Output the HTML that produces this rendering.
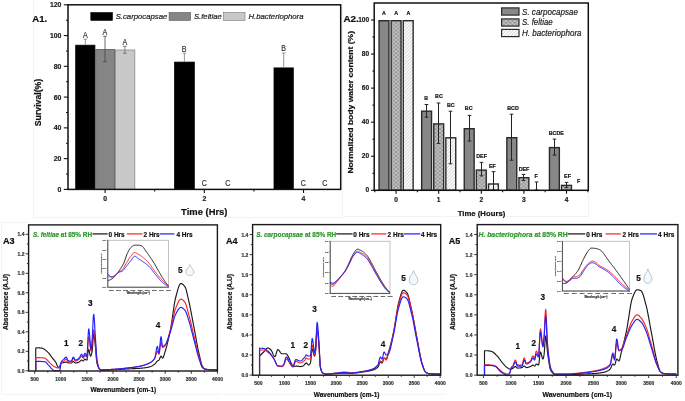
<!DOCTYPE html>
<html><head><meta charset="utf-8"><style>
html,body{margin:0;padding:0;background:#fff;width:685px;height:401px;overflow:hidden;}
svg{display:block;font-family:"Liberation Sans", sans-serif;filter:blur(0.45px);}
</style></head><body>
<svg width="685" height="401" viewBox="0 0 685 401">
<defs>
<pattern id="xh" patternUnits="userSpaceOnUse" width="4.4" height="3.8">
<rect width="4.4" height="3.8" fill="#c6c6c6"/>
<path d="M0,0 L4.4,3.8 M4.4,0 L0,3.8" stroke="#888" stroke-width="0.8"/>
</pattern>
<pattern id="dh" patternUnits="userSpaceOnUse" width="2.4" height="2.4" patternTransform="rotate(45)">
<rect width="2.4" height="2.4" fill="#fafafa"/>
<line x1="0" y1="0" x2="0" y2="2.4" stroke="#b8b8b8" stroke-width="0.9"/>
</pattern>
</defs>
<rect width="685" height="401" fill="#fff"/>
<line x1="33.50" y1="0.00" x2="33.50" y2="217.50" stroke="#f3f3f3" stroke-width="1" />
<line x1="33.50" y1="217.50" x2="342.50" y2="217.50" stroke="#f3f3f3" stroke-width="1" />
<line x1="342.50" y1="0.00" x2="342.50" y2="217.50" stroke="#f3f3f3" stroke-width="1" />
<line x1="588.50" y1="190.00" x2="588.50" y2="216.50" stroke="#f3f3f3" stroke-width="1" />
<line x1="342.50" y1="216.50" x2="588.50" y2="216.50" stroke="#f3f3f3" stroke-width="1" />
<line x1="1.50" y1="222.50" x2="1.50" y2="394.50" stroke="#f3f3f3" stroke-width="1" />
<line x1="1.50" y1="222.50" x2="28.00" y2="222.50" stroke="#f3f3f3" stroke-width="1" />
<line x1="1.50" y1="394.50" x2="222.00" y2="394.50" stroke="#f3f3f3" stroke-width="1" />
<line x1="224.50" y1="394.50" x2="446.00" y2="394.50" stroke="#f3f3f3" stroke-width="1" />
<rect x="75.70" y="45.20" width="19.20" height="144.20" fill="#000000" stroke="#000000" stroke-width="0.8" />
<rect x="95.70" y="49.50" width="18.90" height="139.90" fill="#858585" stroke="#5a5a5a" stroke-width="0.8" />
<rect x="115.40" y="50.00" width="19.40" height="139.40" fill="#c8c8c8" stroke="#888888" stroke-width="0.8" />
<rect x="174.60" y="62.10" width="19.70" height="127.30" fill="#000000" stroke="#000000" stroke-width="0.8" />
<rect x="274.00" y="67.90" width="19.30" height="121.50" fill="#000000" stroke="#000000" stroke-width="0.8" />
<line x1="85.30" y1="39.20" x2="85.30" y2="44.80" stroke="#8a8a8a" stroke-width="0.9" />
<line x1="83.50" y1="39.20" x2="87.10" y2="39.20" stroke="#8a8a8a" stroke-width="0.9" />
<line x1="105.00" y1="36.30" x2="105.00" y2="61.70" stroke="#444" stroke-width="0.8" />
<line x1="103.20" y1="36.30" x2="106.80" y2="36.30" stroke="#444" stroke-width="0.8" />
<line x1="103.20" y1="61.70" x2="106.80" y2="61.70" stroke="#444" stroke-width="0.8" />
<line x1="124.90" y1="46.30" x2="124.90" y2="53.30" stroke="#666" stroke-width="0.8" />
<line x1="123.10" y1="46.30" x2="126.70" y2="46.30" stroke="#666" stroke-width="0.8" />
<line x1="123.10" y1="53.30" x2="126.70" y2="53.30" stroke="#666" stroke-width="0.8" />
<line x1="184.40" y1="53.20" x2="184.40" y2="61.70" stroke="#8a8a8a" stroke-width="0.9" />
<line x1="182.60" y1="53.20" x2="186.20" y2="53.20" stroke="#8a8a8a" stroke-width="0.9" />
<line x1="283.70" y1="53.00" x2="283.70" y2="67.50" stroke="#8a8a8a" stroke-width="0.9" />
<line x1="281.90" y1="53.00" x2="285.50" y2="53.00" stroke="#8a8a8a" stroke-width="0.9" />
<text transform="translate(85.40,38.05) scale(0.77,1)" font-size="9.2" font-weight="normal" text-anchor="middle" fill="#333" stroke="#333" stroke-width="0.2">A</text>
<text transform="translate(104.80,34.95) scale(0.77,1)" font-size="9.2" font-weight="normal" text-anchor="middle" fill="#333" stroke="#333" stroke-width="0.2">A</text>
<text transform="translate(124.90,45.35) scale(0.77,1)" font-size="9.2" font-weight="normal" text-anchor="middle" fill="#333" stroke="#333" stroke-width="0.2">A</text>
<text transform="translate(184.20,52.05) scale(0.77,1)" font-size="9.2" font-weight="normal" text-anchor="middle" fill="#333" stroke="#333" stroke-width="0.2">B</text>
<text transform="translate(283.70,50.85) scale(0.77,1)" font-size="9.2" font-weight="normal" text-anchor="middle" fill="#333" stroke="#333" stroke-width="0.2">B</text>
<text transform="translate(204.20,185.65) scale(0.77,1)" font-size="9.2" font-weight="normal" text-anchor="middle" fill="#333" stroke="#333" stroke-width="0.2">C</text>
<text transform="translate(227.70,185.65) scale(0.77,1)" font-size="9.2" font-weight="normal" text-anchor="middle" fill="#333" stroke="#333" stroke-width="0.2">C</text>
<text transform="translate(303.30,185.65) scale(0.77,1)" font-size="9.2" font-weight="normal" text-anchor="middle" fill="#333" stroke="#333" stroke-width="0.2">C</text>
<text transform="translate(324.80,185.65) scale(0.77,1)" font-size="9.2" font-weight="normal" text-anchor="middle" fill="#333" stroke="#333" stroke-width="0.2">C</text>
<rect x="68.00" y="4.80" width="272.70" height="184.60" fill="none" stroke="#111" stroke-width="1.5" />
<line x1="63.80" y1="189.40" x2="68.00" y2="189.40" stroke="#111" stroke-width="1.1" />
<text x="61.40" y="191.80" font-size="6.9" font-weight="bold" font-style="normal" text-anchor="end" fill="#222"  stroke="#222" stroke-width="0.2">0</text>
<line x1="66.00" y1="174.02" x2="68.00" y2="174.02" stroke="#111" stroke-width="1.1" />
<line x1="63.80" y1="158.63" x2="68.00" y2="158.63" stroke="#111" stroke-width="1.1" />
<text x="61.40" y="161.03" font-size="6.9" font-weight="bold" font-style="normal" text-anchor="end" fill="#222"  stroke="#222" stroke-width="0.2">20</text>
<line x1="66.00" y1="143.25" x2="68.00" y2="143.25" stroke="#111" stroke-width="1.1" />
<line x1="63.80" y1="127.87" x2="68.00" y2="127.87" stroke="#111" stroke-width="1.1" />
<text x="61.40" y="130.27" font-size="6.9" font-weight="bold" font-style="normal" text-anchor="end" fill="#222"  stroke="#222" stroke-width="0.2">40</text>
<line x1="66.00" y1="112.48" x2="68.00" y2="112.48" stroke="#111" stroke-width="1.1" />
<line x1="63.80" y1="97.10" x2="68.00" y2="97.10" stroke="#111" stroke-width="1.1" />
<text x="61.40" y="99.50" font-size="6.9" font-weight="bold" font-style="normal" text-anchor="end" fill="#222"  stroke="#222" stroke-width="0.2">60</text>
<line x1="66.00" y1="81.72" x2="68.00" y2="81.72" stroke="#111" stroke-width="1.1" />
<line x1="63.80" y1="66.33" x2="68.00" y2="66.33" stroke="#111" stroke-width="1.1" />
<text x="61.40" y="68.73" font-size="6.9" font-weight="bold" font-style="normal" text-anchor="end" fill="#222"  stroke="#222" stroke-width="0.2">80</text>
<line x1="66.00" y1="50.95" x2="68.00" y2="50.95" stroke="#111" stroke-width="1.1" />
<line x1="63.80" y1="35.57" x2="68.00" y2="35.57" stroke="#111" stroke-width="1.1" />
<text x="61.40" y="37.97" font-size="6.9" font-weight="bold" font-style="normal" text-anchor="end" fill="#222"  stroke="#222" stroke-width="0.2">100</text>
<line x1="66.00" y1="20.18" x2="68.00" y2="20.18" stroke="#111" stroke-width="1.1" />
<line x1="63.80" y1="4.80" x2="68.00" y2="4.80" stroke="#111" stroke-width="1.1" />
<text x="61.40" y="7.20" font-size="6.9" font-weight="bold" font-style="normal" text-anchor="end" fill="#222"  stroke="#222" stroke-width="0.2">120</text>
<line x1="105.10" y1="189.40" x2="105.10" y2="193.00" stroke="#111" stroke-width="1.1" />
<text x="105.10" y="201.10" font-size="6.9" font-weight="bold" font-style="normal" text-anchor="middle" fill="#222"  stroke="#222" stroke-width="0.2">0</text>
<line x1="154.70" y1="189.40" x2="154.70" y2="191.40" stroke="#111" stroke-width="1.1" />
<line x1="204.30" y1="189.40" x2="204.30" y2="193.00" stroke="#111" stroke-width="1.1" />
<text x="204.30" y="201.10" font-size="6.9" font-weight="bold" font-style="normal" text-anchor="middle" fill="#222"  stroke="#222" stroke-width="0.2">2</text>
<line x1="253.90" y1="189.40" x2="253.90" y2="191.40" stroke="#111" stroke-width="1.1" />
<line x1="303.50" y1="189.40" x2="303.50" y2="193.00" stroke="#111" stroke-width="1.1" />
<text x="303.50" y="201.10" font-size="6.9" font-weight="bold" font-style="normal" text-anchor="middle" fill="#222"  stroke="#222" stroke-width="0.2">4</text>
<text x="181.10" y="214.90" font-size="9.4" font-weight="bold" font-style="normal" text-anchor="start" fill="#111"  textLength="46.40" lengthAdjust="spacingAndGlyphs" stroke="#111" stroke-width="0.2">Time (Hrs)</text>
<text transform="translate(40.80,102.50) rotate(-90)" font-size="8.5" font-weight="bold" text-anchor="middle" fill="#111" textLength="47.40" lengthAdjust="spacingAndGlyphs" stroke="#111" stroke-width="0.2">Survival(%)</text>
<text x="32.30" y="21.70" font-size="9.4" font-weight="bold" font-style="normal" text-anchor="start" fill="#111"  textLength="15.00" lengthAdjust="spacingAndGlyphs" stroke="#111" stroke-width="0.2">A1.</text>
<rect x="90.80" y="12.50" width="21.70" height="7.90" fill="#000" stroke="#000" stroke-width="0.6" />
<text x="115.70" y="19.40" font-size="7.7" font-weight="normal" font-style="italic" text-anchor="start" fill="#222"  textLength="51.60" lengthAdjust="spacingAndGlyphs" stroke="#222" stroke-width="0.2">S.carpocapsae</text>
<rect x="169.10" y="12.50" width="21.50" height="7.90" fill="#858585" stroke="#555" stroke-width="0.6" />
<text x="194.00" y="19.40" font-size="7.7" font-weight="normal" font-style="italic" text-anchor="start" fill="#222"  textLength="27.70" lengthAdjust="spacingAndGlyphs" stroke="#222" stroke-width="0.2">S.feltiae</text>
<rect x="223.50" y="12.50" width="21.50" height="7.90" fill="#c8c8c8" stroke="#777" stroke-width="0.6" />
<text x="248.50" y="19.40" font-size="7.7" font-weight="normal" font-style="italic" text-anchor="start" fill="#222"  textLength="55.00" lengthAdjust="spacingAndGlyphs" stroke="#222" stroke-width="0.2">H.bacteriophora</text>
<rect x="379.05" y="20.70" width="9.90" height="169.60" fill="#878787" stroke="#2a2a2a" stroke-width="1.4" />
<rect x="391.15" y="20.70" width="9.90" height="169.60" fill="url(#xh)" stroke="#2a2a2a" stroke-width="1.4" />
<rect x="403.25" y="20.70" width="9.90" height="169.60" fill="url(#dh)" stroke="#2a2a2a" stroke-width="1.4" />
<rect x="421.65" y="111.20" width="9.90" height="79.10" fill="#878787" stroke="#2a2a2a" stroke-width="1.4" />
<rect x="433.75" y="123.90" width="9.90" height="66.40" fill="url(#xh)" stroke="#2a2a2a" stroke-width="1.4" />
<rect x="445.85" y="137.80" width="9.90" height="52.50" fill="url(#dh)" stroke="#2a2a2a" stroke-width="1.4" />
<rect x="464.25" y="128.70" width="9.90" height="61.60" fill="#878787" stroke="#2a2a2a" stroke-width="1.4" />
<rect x="476.35" y="170.10" width="9.90" height="20.20" fill="url(#xh)" stroke="#2a2a2a" stroke-width="1.4" />
<rect x="488.45" y="184.00" width="9.90" height="6.30" fill="url(#dh)" stroke="#2a2a2a" stroke-width="1.4" />
<rect x="506.85" y="137.70" width="9.90" height="52.60" fill="#878787" stroke="#2a2a2a" stroke-width="1.4" />
<rect x="518.95" y="177.70" width="9.90" height="12.60" fill="url(#xh)" stroke="#2a2a2a" stroke-width="1.4" />
<rect x="549.45" y="147.60" width="9.90" height="42.70" fill="#878787" stroke="#2a2a2a" stroke-width="1.4" />
<rect x="561.55" y="185.40" width="9.90" height="4.90" fill="url(#xh)" stroke="#2a2a2a" stroke-width="1.4" />
<line x1="426.50" y1="104.50" x2="426.50" y2="117.20" stroke="#222" stroke-width="1.0" />
<line x1="424.70" y1="104.50" x2="428.30" y2="104.50" stroke="#222" stroke-width="1.0" />
<line x1="424.70" y1="117.20" x2="428.30" y2="117.20" stroke="#222" stroke-width="1.0" />
<line x1="438.50" y1="103.00" x2="438.50" y2="143.40" stroke="#222" stroke-width="1.0" />
<line x1="436.70" y1="103.00" x2="440.30" y2="103.00" stroke="#222" stroke-width="1.0" />
<line x1="436.70" y1="143.40" x2="440.30" y2="143.40" stroke="#222" stroke-width="1.0" />
<line x1="450.50" y1="111.20" x2="450.50" y2="163.80" stroke="#222" stroke-width="1.0" />
<line x1="448.70" y1="111.20" x2="452.30" y2="111.20" stroke="#222" stroke-width="1.0" />
<line x1="448.70" y1="163.80" x2="452.30" y2="163.80" stroke="#222" stroke-width="1.0" />
<line x1="469.50" y1="115.40" x2="469.50" y2="141.00" stroke="#222" stroke-width="1.0" />
<line x1="467.70" y1="115.40" x2="471.30" y2="115.40" stroke="#222" stroke-width="1.0" />
<line x1="467.70" y1="141.00" x2="471.30" y2="141.00" stroke="#222" stroke-width="1.0" />
<line x1="481.50" y1="162.40" x2="481.50" y2="175.90" stroke="#222" stroke-width="1.0" />
<line x1="479.70" y1="162.40" x2="483.30" y2="162.40" stroke="#222" stroke-width="1.0" />
<line x1="479.70" y1="175.90" x2="483.30" y2="175.90" stroke="#222" stroke-width="1.0" />
<line x1="493.50" y1="171.70" x2="493.50" y2="190.00" stroke="#222" stroke-width="1.0" />
<line x1="491.70" y1="171.70" x2="495.30" y2="171.70" stroke="#222" stroke-width="1.0" />
<line x1="491.70" y1="190.00" x2="495.30" y2="190.00" stroke="#222" stroke-width="1.0" />
<line x1="511.50" y1="114.20" x2="511.50" y2="160.20" stroke="#222" stroke-width="1.0" />
<line x1="509.70" y1="114.20" x2="513.30" y2="114.20" stroke="#222" stroke-width="1.0" />
<line x1="509.70" y1="160.20" x2="513.30" y2="160.20" stroke="#222" stroke-width="1.0" />
<line x1="523.50" y1="174.40" x2="523.50" y2="180.40" stroke="#222" stroke-width="1.0" />
<line x1="521.70" y1="174.40" x2="525.30" y2="174.40" stroke="#222" stroke-width="1.0" />
<line x1="521.70" y1="180.40" x2="525.30" y2="180.40" stroke="#222" stroke-width="1.0" />
<line x1="536.50" y1="182.00" x2="536.50" y2="190.00" stroke="#222" stroke-width="1.0" />
<line x1="534.70" y1="182.00" x2="538.30" y2="182.00" stroke="#222" stroke-width="1.0" />
<line x1="534.70" y1="190.00" x2="538.30" y2="190.00" stroke="#222" stroke-width="1.0" />
<line x1="554.50" y1="139.10" x2="554.50" y2="155.10" stroke="#222" stroke-width="1.0" />
<line x1="552.70" y1="139.10" x2="556.30" y2="139.10" stroke="#222" stroke-width="1.0" />
<line x1="552.70" y1="155.10" x2="556.30" y2="155.10" stroke="#222" stroke-width="1.0" />
<line x1="566.50" y1="182.40" x2="566.50" y2="187.70" stroke="#222" stroke-width="1.0" />
<line x1="564.70" y1="182.40" x2="568.30" y2="182.40" stroke="#222" stroke-width="1.0" />
<line x1="564.70" y1="187.70" x2="568.30" y2="187.70" stroke="#222" stroke-width="1.0" />
<text transform="translate(384.00,15.11) scale(0.92,1)" font-size="5.8" font-weight="bold" text-anchor="middle" fill="#111" stroke="#111" stroke-width="0.2">A</text>
<text transform="translate(396.10,15.11) scale(0.92,1)" font-size="5.8" font-weight="bold" text-anchor="middle" fill="#111" stroke="#111" stroke-width="0.2">A</text>
<text transform="translate(408.50,15.11) scale(0.92,1)" font-size="5.8" font-weight="bold" text-anchor="middle" fill="#111" stroke="#111" stroke-width="0.2">A</text>
<text transform="translate(426.30,100.21) scale(0.92,1)" font-size="5.8" font-weight="bold" text-anchor="middle" fill="#111" stroke="#111" stroke-width="0.2">B</text>
<text transform="translate(438.90,97.71) scale(0.92,1)" font-size="5.8" font-weight="bold" text-anchor="middle" fill="#111" stroke="#111" stroke-width="0.2">BC</text>
<text transform="translate(450.80,107.11) scale(0.92,1)" font-size="5.8" font-weight="bold" text-anchor="middle" fill="#111" stroke="#111" stroke-width="0.2">BC</text>
<text transform="translate(468.70,109.91) scale(0.92,1)" font-size="5.8" font-weight="bold" text-anchor="middle" fill="#111" stroke="#111" stroke-width="0.2">BC</text>
<text transform="translate(481.60,157.81) scale(0.92,1)" font-size="5.8" font-weight="bold" text-anchor="middle" fill="#111" stroke="#111" stroke-width="0.2">DEF</text>
<text transform="translate(492.40,167.81) scale(0.92,1)" font-size="5.8" font-weight="bold" text-anchor="middle" fill="#111" stroke="#111" stroke-width="0.2">EF</text>
<text transform="translate(513.00,109.71) scale(0.92,1)" font-size="5.8" font-weight="bold" text-anchor="middle" fill="#111" stroke="#111" stroke-width="0.2">BCD</text>
<text transform="translate(524.00,170.51) scale(0.92,1)" font-size="5.8" font-weight="bold" text-anchor="middle" fill="#111" stroke="#111" stroke-width="0.2">DEF</text>
<text transform="translate(536.10,177.51) scale(0.92,1)" font-size="5.8" font-weight="bold" text-anchor="middle" fill="#111" stroke="#111" stroke-width="0.2">F</text>
<text transform="translate(556.30,135.31) scale(0.92,1)" font-size="5.8" font-weight="bold" text-anchor="middle" fill="#111" stroke="#111" stroke-width="0.2">BCDE</text>
<text transform="translate(567.50,177.51) scale(0.92,1)" font-size="5.8" font-weight="bold" text-anchor="middle" fill="#111" stroke="#111" stroke-width="0.2">EF</text>
<text transform="translate(578.60,183.11) scale(0.92,1)" font-size="5.8" font-weight="bold" text-anchor="middle" fill="#111" stroke="#111" stroke-width="0.2">F</text>
<rect x="374.20" y="3.00" width="214.10" height="187.30" fill="none" stroke="#111" stroke-width="1.5" />
<line x1="371.00" y1="190.30" x2="374.20" y2="190.30" stroke="#111" stroke-width="1.1" />
<text x="369.20" y="192.40" font-size="6.6" font-weight="bold" font-style="normal" text-anchor="end" fill="#222"  stroke="#222" stroke-width="0.2">0</text>
<line x1="372.40" y1="173.27" x2="374.20" y2="173.27" stroke="#111" stroke-width="1.1" />
<line x1="371.00" y1="156.24" x2="374.20" y2="156.24" stroke="#111" stroke-width="1.1" />
<text x="369.20" y="158.34" font-size="6.6" font-weight="bold" font-style="normal" text-anchor="end" fill="#222"  stroke="#222" stroke-width="0.2">20</text>
<line x1="372.40" y1="139.21" x2="374.20" y2="139.21" stroke="#111" stroke-width="1.1" />
<line x1="371.00" y1="122.18" x2="374.20" y2="122.18" stroke="#111" stroke-width="1.1" />
<text x="369.20" y="124.28" font-size="6.6" font-weight="bold" font-style="normal" text-anchor="end" fill="#222"  stroke="#222" stroke-width="0.2">40</text>
<line x1="372.40" y1="105.15" x2="374.20" y2="105.15" stroke="#111" stroke-width="1.1" />
<line x1="371.00" y1="88.12" x2="374.20" y2="88.12" stroke="#111" stroke-width="1.1" />
<text x="369.20" y="90.22" font-size="6.6" font-weight="bold" font-style="normal" text-anchor="end" fill="#222"  stroke="#222" stroke-width="0.2">60</text>
<line x1="372.40" y1="71.09" x2="374.20" y2="71.09" stroke="#111" stroke-width="1.1" />
<line x1="371.00" y1="54.06" x2="374.20" y2="54.06" stroke="#111" stroke-width="1.1" />
<text x="369.20" y="56.16" font-size="6.6" font-weight="bold" font-style="normal" text-anchor="end" fill="#222"  stroke="#222" stroke-width="0.2">80</text>
<line x1="372.40" y1="37.03" x2="374.20" y2="37.03" stroke="#111" stroke-width="1.1" />
<line x1="371.00" y1="20.00" x2="374.20" y2="20.00" stroke="#111" stroke-width="1.1" />
<text x="369.20" y="22.10" font-size="6.6" font-weight="bold" font-style="normal" text-anchor="end" fill="#222"  stroke="#222" stroke-width="0.2">100</text>
<line x1="374.80" y1="190.30" x2="374.80" y2="192.30" stroke="#111" stroke-width="1.1" />
<line x1="396.10" y1="190.30" x2="396.10" y2="193.70" stroke="#111" stroke-width="1.1" />
<text x="396.10" y="202.00" font-size="6.6" font-weight="bold" font-style="normal" text-anchor="middle" fill="#222"  stroke="#222" stroke-width="0.2">0</text>
<line x1="417.40" y1="190.30" x2="417.40" y2="192.30" stroke="#111" stroke-width="1.1" />
<line x1="438.70" y1="190.30" x2="438.70" y2="193.70" stroke="#111" stroke-width="1.1" />
<text x="438.70" y="202.00" font-size="6.6" font-weight="bold" font-style="normal" text-anchor="middle" fill="#222"  stroke="#222" stroke-width="0.2">1</text>
<line x1="460.00" y1="190.30" x2="460.00" y2="192.30" stroke="#111" stroke-width="1.1" />
<line x1="481.30" y1="190.30" x2="481.30" y2="193.70" stroke="#111" stroke-width="1.1" />
<text x="481.30" y="202.00" font-size="6.6" font-weight="bold" font-style="normal" text-anchor="middle" fill="#222"  stroke="#222" stroke-width="0.2">2</text>
<line x1="502.60" y1="190.30" x2="502.60" y2="192.30" stroke="#111" stroke-width="1.1" />
<line x1="523.90" y1="190.30" x2="523.90" y2="193.70" stroke="#111" stroke-width="1.1" />
<text x="523.90" y="202.00" font-size="6.6" font-weight="bold" font-style="normal" text-anchor="middle" fill="#222"  stroke="#222" stroke-width="0.2">3</text>
<line x1="545.20" y1="190.30" x2="545.20" y2="192.30" stroke="#111" stroke-width="1.1" />
<line x1="566.50" y1="190.30" x2="566.50" y2="193.70" stroke="#111" stroke-width="1.1" />
<text x="566.50" y="202.00" font-size="6.6" font-weight="bold" font-style="normal" text-anchor="middle" fill="#222"  stroke="#222" stroke-width="0.2">4</text>
<line x1="587.80" y1="190.30" x2="587.80" y2="192.30" stroke="#111" stroke-width="1.1" />
<text x="457.70" y="215.80" font-size="7.8" font-weight="bold" font-style="normal" text-anchor="start" fill="#111"  textLength="47.60" lengthAdjust="spacingAndGlyphs" stroke="#111" stroke-width="0.2">Time (Hours)</text>
<text transform="translate(353.30,102.30) rotate(-90)" font-size="7.8" font-weight="bold" text-anchor="middle" fill="#111" textLength="142.60" lengthAdjust="spacingAndGlyphs" stroke="#111" stroke-width="0.2">Normalized body water content (%)</text>
<text x="343.50" y="22.00" font-size="9.4" font-weight="bold" font-style="normal" text-anchor="start" fill="#111"  textLength="15.30" lengthAdjust="spacingAndGlyphs" stroke="#111" stroke-width="0.2">A2.</text>
<rect x="501.60" y="7.90" width="17.40" height="7.20" fill="#878787" stroke="#2a2a2a" stroke-width="1.2" />
<text x="522.00" y="14.90" font-size="8.6" font-weight="normal" font-style="italic" text-anchor="start" fill="#222"  textLength="56.00" lengthAdjust="spacingAndGlyphs" stroke="#222" stroke-width="0.2">S. carpocapsae</text>
<rect x="501.60" y="18.90" width="17.40" height="7.20" fill="url(#xh)" stroke="#2a2a2a" stroke-width="1.2" />
<text x="522.00" y="25.40" font-size="8.6" font-weight="normal" font-style="italic" text-anchor="start" fill="#222"  textLength="30.70" lengthAdjust="spacingAndGlyphs" stroke="#222" stroke-width="0.2">S. feltiae</text>
<rect x="501.60" y="29.40" width="17.40" height="7.20" fill="url(#dh)" stroke="#2a2a2a" stroke-width="1.2" />
<text x="522.00" y="35.90" font-size="8.6" font-weight="normal" font-style="italic" text-anchor="start" fill="#222"  textLength="59.60" lengthAdjust="spacingAndGlyphs" stroke="#222" stroke-width="0.2">H. bacteriophora</text>
<polyline points="35.74,370.80 35.74,348.08 36.00,348.03 36.26,347.97 36.52,347.92 36.78,347.88 37.04,347.84 37.30,347.81 37.56,347.80 37.82,347.79 38.08,347.79 38.34,347.80 38.60,347.81 38.86,347.82 39.12,347.83 39.38,347.85 39.64,347.87 39.90,347.90 40.16,347.92 40.42,347.95 40.68,347.99 40.94,348.02 41.20,348.06 41.46,348.09 41.72,348.13 41.98,348.18 42.24,348.23 42.50,348.30 42.76,348.40 43.02,348.52 43.28,348.65 43.54,348.79 43.80,348.95 44.06,349.11 44.32,349.28 44.58,349.46 44.84,349.63 45.10,349.81 45.36,349.99 45.62,350.18 45.88,350.38 46.14,350.60 46.40,350.82 46.66,351.06 46.92,351.30 47.18,351.55 47.44,351.81 47.70,352.08 47.96,352.35 48.22,352.62 48.48,352.90 48.74,353.19 49.00,353.48 49.26,353.79 49.52,354.11 49.78,354.45 50.04,354.79 50.30,355.15 50.56,355.51 50.82,355.88 51.08,356.25 51.34,356.61 51.60,356.98 51.86,357.34 52.12,357.69 52.38,358.03 52.64,358.36 52.90,358.68 53.16,359.00 53.42,359.30 53.68,359.61 53.94,359.91 54.20,360.22 54.46,360.53 54.72,360.86 54.98,361.19 55.23,361.54 55.49,361.90 55.75,362.30 56.01,362.79 56.27,363.35 56.53,363.94 56.79,364.56 57.05,365.17 57.31,365.75 57.57,366.28 57.83,366.73 58.09,367.08 58.35,367.31 58.61,367.39 58.87,367.27 59.13,366.98 59.39,366.58 59.65,366.16 59.91,365.76 60.17,365.27 60.43,364.71 60.69,364.14 60.95,363.62 61.21,363.22 61.47,363.00 61.73,362.91 61.99,362.84 62.25,362.78 62.51,362.74 62.77,362.70 63.03,362.66 63.29,362.62 63.55,362.58 63.81,362.54 64.07,362.48 64.33,362.41 64.59,362.33 64.85,362.25 65.11,362.17 65.37,362.11 65.63,362.06 65.89,362.03 66.15,362.03 66.41,362.08 66.67,362.18 66.93,362.30 67.19,362.44 67.45,362.58 67.71,362.72 67.97,362.84 68.23,362.94 68.49,362.99 68.75,363.00 69.01,363.00 69.27,363.00 69.53,363.00 69.79,363.00 70.05,363.00 70.31,363.00 70.57,363.00 70.83,363.00 71.09,363.00 71.35,362.99 71.61,362.88 71.87,362.68 72.13,362.43 72.39,362.16 72.65,361.90 72.91,361.69 73.17,361.56 73.43,361.55 73.69,361.65 73.95,361.85 74.21,362.10 74.47,362.37 74.73,362.63 74.99,362.84 75.25,362.97 75.51,363.00 75.77,362.99 76.03,362.96 76.29,362.92 76.55,362.88 76.81,362.82 77.06,362.75 77.32,362.67 77.58,362.59 77.84,362.50 78.10,362.40 78.36,362.31 78.62,362.20 78.88,362.10 79.14,361.99 79.40,361.83 79.66,361.63 79.92,361.38 80.18,361.12 80.44,360.85 80.70,360.60 80.96,360.38 81.22,360.21 81.48,360.10 81.74,360.08 82.00,360.18 82.26,360.38 82.52,360.62 82.78,360.84 83.04,361.00 83.30,361.04 83.56,360.84 83.82,360.45 84.08,359.98 84.34,359.52 84.60,359.20 84.86,359.10 85.12,359.16 85.38,359.28 85.64,359.44 85.90,359.62 86.16,359.79 86.42,359.94 86.68,360.04 86.94,360.06 87.20,359.21 87.46,357.41 87.72,355.10 87.98,352.72 88.24,350.70 88.50,349.51 88.76,349.45 89.02,350.10 89.28,351.18 89.54,352.50 89.80,353.86 90.06,355.06 90.32,355.90 90.58,356.17 90.84,355.96 91.10,355.42 91.36,354.62 91.62,353.61 91.88,352.46 92.14,351.21 92.40,348.92 92.66,345.38 92.92,341.34 93.18,337.56 93.44,334.78 93.70,333.75 93.96,334.32 94.22,335.76 94.48,337.84 94.74,340.32 95.00,342.95 95.26,345.51 95.52,347.99 95.78,351.02 96.04,354.34 96.30,357.59 96.56,360.42 96.82,362.47 97.08,363.60 97.34,364.52 97.60,365.35 97.86,366.08 98.12,366.72 98.38,367.28 98.63,367.76 98.89,368.18 99.15,368.53 99.41,368.84 99.67,369.11 99.93,369.37 100.19,369.62 100.45,369.84 100.71,370.03 100.97,370.18 101.23,370.27 101.49,370.31 101.75,370.31 102.01,370.31 102.27,370.31 102.53,370.31 102.79,370.30 103.05,370.30 103.31,370.29 103.57,370.29 103.83,370.28 104.09,370.27 104.35,370.26 104.61,370.26 104.87,370.25 105.13,370.24 105.39,370.23 105.65,370.22 105.91,370.20 106.17,370.19 106.43,370.18 106.69,370.17 106.95,370.16 107.21,370.14 107.47,370.13 107.73,370.12 107.99,370.10 108.25,370.09 108.51,370.07 108.77,370.06 109.03,370.04 109.29,370.03 109.55,370.01 109.81,370.00 110.07,369.99 110.33,369.97 110.59,369.96 110.85,369.94 111.11,369.93 111.37,369.91 111.63,369.90 111.89,369.88 112.15,369.87 112.41,369.86 112.67,369.84 112.93,369.83 113.19,369.82 113.45,369.80 113.71,369.79 113.97,369.77 114.23,369.76 114.49,369.75 114.75,369.73 115.01,369.72 115.27,369.70 115.53,369.69 115.79,369.67 116.05,369.66 116.31,369.64 116.57,369.62 116.83,369.61 117.09,369.59 117.35,369.57 117.61,369.56 117.87,369.54 118.13,369.52 118.39,369.51 118.65,369.49 118.91,369.47 119.17,369.46 119.43,369.44 119.69,369.42 119.95,369.40 120.20,369.39 120.46,369.37 120.72,369.35 120.98,369.33 121.24,369.32 121.50,369.30 121.76,369.28 122.02,369.26 122.28,369.24 122.54,369.23 122.80,369.21 123.06,369.19 123.32,369.18 123.58,369.16 123.84,369.14 124.10,369.12 124.36,369.11 124.62,369.09 124.88,369.07 125.14,369.06 125.40,369.04 125.66,369.02 125.92,369.01 126.18,368.99 126.44,368.98 126.70,368.96 126.96,368.95 127.22,368.93 127.48,368.91 127.74,368.90 128.00,368.89 128.26,368.87 128.52,368.86 128.78,368.84 129.04,368.83 129.30,368.82 129.56,368.80 129.82,368.79 130.08,368.78 130.34,368.77 130.60,368.76 130.86,368.75 131.12,368.74 131.38,368.73 131.64,368.72 131.90,368.71 132.16,368.70 132.42,368.69 132.68,368.68 132.94,368.67 133.20,368.66 133.46,368.65 133.72,368.63 133.98,368.62 134.24,368.61 134.50,368.60 134.76,368.59 135.02,368.58 135.28,368.57 135.54,368.56 135.80,368.55 136.06,368.54 136.32,368.52 136.58,368.51 136.84,368.50 137.10,368.48 137.36,368.47 137.62,368.46 137.88,368.44 138.14,368.43 138.40,368.41 138.66,368.39 138.92,368.38 139.18,368.36 139.44,368.34 139.70,368.32 139.96,368.30 140.22,368.28 140.48,368.26 140.74,368.24 141.00,368.21 141.26,368.19 141.52,368.17 141.77,368.14 142.03,368.12 142.29,368.09 142.55,368.06 142.81,368.04 143.07,368.01 143.33,367.98 143.59,367.95 143.85,367.91 144.11,367.88 144.37,367.85 144.63,367.81 144.89,367.77 145.15,367.74 145.41,367.70 145.67,367.66 145.93,367.62 146.19,367.57 146.45,367.53 146.71,367.49 146.97,367.44 147.23,367.39 147.49,367.34 147.75,367.29 148.01,367.24 148.27,367.19 148.53,367.13 148.79,367.07 149.05,367.01 149.31,366.95 149.57,366.89 149.83,366.82 150.09,366.74 150.35,366.65 150.61,366.55 150.87,366.45 151.13,366.33 151.39,366.20 151.65,366.07 151.91,365.92 152.17,365.78 152.43,365.62 152.69,365.46 152.95,365.29 153.21,365.11 153.47,364.93 153.73,364.75 153.99,364.56 154.25,364.37 154.51,364.17 154.77,363.97 155.03,363.74 155.29,363.47 155.55,363.17 155.81,362.84 156.07,362.51 156.33,362.18 156.59,361.85 156.85,361.55 157.11,361.28 157.37,361.05 157.63,360.87 157.89,360.72 158.15,360.59 158.41,360.45 158.67,360.29 158.93,360.08 159.19,359.74 159.45,359.22 159.71,358.59 159.97,357.92 160.23,357.28 160.49,356.72 160.75,356.33 161.01,356.18 161.27,356.30 161.53,356.65 161.79,357.11 162.05,357.58 162.31,357.96 162.57,358.12 162.83,358.03 163.09,357.72 163.34,357.23 163.60,356.58 163.86,355.82 164.12,354.98 164.38,354.08 164.64,353.17 164.90,352.27 165.16,351.41 165.42,350.59 165.68,349.74 165.94,348.86 166.20,347.95 166.46,347.02 166.72,346.06 166.98,345.07 167.24,344.05 167.50,343.01 167.76,341.95 168.02,340.87 168.28,339.76 168.54,338.63 168.80,337.47 169.06,336.30 169.32,335.10 169.58,333.89 169.84,332.66 170.10,331.41 170.36,330.14 170.62,328.82 170.88,327.39 171.14,325.86 171.40,324.24 171.66,322.55 171.92,320.80 172.18,319.00 172.44,317.18 172.70,315.34 172.96,313.49 173.22,311.66 173.48,309.85 173.74,308.08 174.00,306.37 174.26,304.72 174.52,303.15 174.78,301.68 175.04,300.32 175.30,299.09 175.56,297.99 175.82,297.00 176.08,296.01 176.34,295.01 176.60,294.01 176.86,293.03 177.12,292.06 177.38,291.10 177.64,290.18 177.90,289.29 178.16,288.44 178.42,287.64 178.68,286.89 178.94,286.19 179.20,285.57 179.46,285.01 179.72,284.54 179.98,284.15 180.24,283.85 180.50,283.64 180.76,283.55 181.02,283.54 181.28,283.58 181.54,283.65 181.80,283.75 182.06,283.88 182.32,284.04 182.58,284.23 182.84,284.44 183.10,284.67 183.36,284.92 183.62,285.19 183.88,285.48 184.14,285.79 184.40,286.11 184.66,286.44 184.92,286.79 185.17,287.16 185.43,287.67 185.69,288.31 185.95,289.07 186.21,289.93 186.47,290.89 186.73,291.92 186.99,293.01 187.25,294.15 187.51,295.32 187.77,296.50 188.03,297.69 188.29,298.86 188.55,300.01 188.81,301.13 189.07,302.27 189.33,303.45 189.59,304.65 189.85,305.89 190.11,307.16 190.37,308.44 190.63,309.75 190.89,311.08 191.15,312.42 191.41,313.77 191.67,315.14 191.93,316.51 192.19,317.89 192.45,319.27 192.71,320.65 192.97,322.02 193.23,323.39 193.49,324.76 193.75,326.11 194.01,327.45 194.27,328.81 194.53,330.20 194.79,331.61 195.05,333.04 195.31,334.48 195.57,335.93 195.83,337.39 196.09,338.84 196.35,340.29 196.61,341.73 196.87,343.16 197.13,344.56 197.39,345.94 197.65,347.29 197.91,348.61 198.17,349.89 198.43,351.13 198.69,352.32 198.95,353.46 199.21,354.55 199.47,355.64 199.73,356.75 199.99,357.87 200.25,358.98 200.51,360.07 200.77,361.13 201.03,362.14 201.29,363.10 201.55,363.99 201.81,364.80 202.07,365.51 202.33,366.12 202.59,366.61 202.85,366.98 203.11,367.29 203.37,367.60 203.63,367.88 203.89,368.15 204.15,368.39 204.41,368.62 204.67,368.81 204.93,368.98 205.19,369.12 205.45,369.23 205.71,369.30 205.97,369.34 206.23,369.37 206.49,369.39 206.74,369.41 207.00,369.44 207.26,369.46 207.52,369.48 207.78,369.50 208.04,369.52 208.30,369.54 208.56,369.56 208.82,369.57 209.08,369.59 209.34,369.61 209.60,369.62 209.86,369.64 210.12,369.65 210.38,369.66 210.64,369.68 210.90,369.69 211.16,369.70 211.42,369.71 211.68,369.72 211.94,369.73 212.20,369.74 212.46,369.75 212.72,369.76 212.98,369.77 213.24,369.77 213.50,369.78 213.76,369.79 214.02,369.79 214.28,369.80 214.54,369.80 214.80,369.81 215.06,369.81 215.32,369.81 215.58,369.82 215.84,369.82 216.10,369.82 216.36,369.82 216.62,369.82 216.88,369.82 217.14,369.82 217.40,369.82" fill="none" stroke="#1a1a1a" stroke-width="1.15" stroke-linejoin="round"/>
<polyline points="35.74,370.80 35.74,358.61 36.00,358.45 36.26,358.29 36.52,358.12 36.78,357.97 37.04,357.84 37.30,357.73 37.56,357.66 37.82,357.64 38.08,357.64 38.34,357.64 38.60,357.64 38.86,357.65 39.12,357.65 39.38,357.66 39.64,357.67 39.90,357.68 40.16,357.69 40.42,357.71 40.68,357.72 40.94,357.74 41.20,357.75 41.46,357.77 41.72,357.79 41.98,357.81 42.24,357.84 42.50,357.86 42.76,357.89 43.02,357.92 43.28,357.95 43.54,357.98 43.80,358.01 44.06,358.05 44.32,358.08 44.58,358.12 44.84,358.18 45.10,358.28 45.36,358.43 45.62,358.61 45.88,358.82 46.14,359.05 46.40,359.30 46.66,359.55 46.92,359.79 47.18,360.03 47.44,360.27 47.70,360.53 47.96,360.80 48.22,361.09 48.48,361.39 48.74,361.70 49.00,362.00 49.26,362.31 49.52,362.61 49.78,362.90 50.04,363.17 50.30,363.43 50.56,363.67 50.82,363.91 51.08,364.15 51.34,364.39 51.60,364.62 51.86,364.85 52.12,365.07 52.38,365.29 52.64,365.49 52.90,365.69 53.16,365.88 53.42,366.06 53.68,366.22 53.94,366.37 54.20,366.51 54.46,366.65 54.72,366.80 54.98,366.94 55.23,367.08 55.49,367.22 55.75,367.35 56.01,367.47 56.27,367.57 56.53,367.67 56.79,367.75 57.05,367.81 57.31,367.85 57.57,367.87 57.83,367.88 58.09,367.88 58.35,367.88 58.61,367.88 58.87,367.88 59.13,367.88 59.39,367.88 59.65,367.72 59.91,366.94 60.17,365.79 60.43,364.60 60.69,363.70 60.95,363.29 61.21,362.98 61.47,362.72 61.73,362.50 61.99,362.30 62.25,362.13 62.51,361.97 62.77,361.82 63.03,361.67 63.29,361.52 63.55,361.34 63.81,361.15 64.07,360.92 64.33,360.64 64.59,360.33 64.85,360.00 65.11,359.70 65.37,359.43 65.63,359.23 65.89,359.12 66.15,359.12 66.41,359.28 66.67,359.55 66.93,359.92 67.19,360.34 67.45,360.77 67.71,361.19 67.97,361.56 68.23,361.84 68.49,362.00 68.75,362.03 69.01,362.03 69.27,362.03 69.53,362.03 69.79,362.03 70.05,362.03 70.31,362.03 70.57,362.03 70.83,362.03 71.09,362.03 71.35,362.00 71.61,361.71 71.87,361.18 72.13,360.51 72.39,359.79 72.65,359.10 72.91,358.54 73.17,358.19 73.43,358.14 73.69,358.35 73.95,358.74 74.21,359.24 74.47,359.78 74.73,360.30 74.99,360.73 75.25,360.99 75.51,361.05 75.77,361.02 76.03,360.97 76.29,360.89 76.55,360.78 76.81,360.66 77.06,360.52 77.32,360.36 77.58,360.19 77.84,360.01 78.10,359.82 78.36,359.63 78.62,359.43 78.88,359.24 79.14,359.04 79.40,358.78 79.66,358.45 79.92,358.08 80.18,357.69 80.44,357.30 80.70,356.93 80.96,356.61 81.22,356.36 81.48,356.21 81.74,356.18 82.00,356.39 82.26,356.78 82.52,357.26 82.78,357.71 83.04,358.03 83.30,358.11 83.56,357.82 83.82,357.23 84.08,356.52 84.34,355.83 84.60,355.34 84.86,355.20 85.12,355.32 85.38,355.56 85.64,355.88 85.90,356.24 86.16,356.59 86.42,356.89 86.68,357.09 86.94,357.12 87.20,355.67 87.46,352.56 87.72,348.48 87.98,344.15 88.24,340.27 88.50,337.55 88.76,336.68 89.02,337.30 89.28,338.72 89.54,340.71 89.80,343.03 90.06,345.45 90.32,347.72 90.58,349.61 90.84,350.88 91.10,351.29 91.36,350.34 91.62,348.26 91.88,345.71 92.14,343.35 92.40,340.86 92.66,337.92 92.92,334.95 93.18,332.34 93.44,330.51 93.70,329.85 93.96,330.34 94.22,331.61 94.48,333.46 94.74,335.71 95.00,338.16 95.26,340.64 95.52,343.20 95.78,346.60 96.04,350.47 96.30,354.36 96.56,357.81 96.82,360.37 97.08,361.83 97.34,363.08 97.60,364.21 97.86,365.23 98.12,366.14 98.38,366.93 98.63,367.60 98.89,368.14 99.15,368.56 99.41,368.84 99.67,369.04 99.93,369.22 100.19,369.39 100.45,369.54 100.71,369.65 100.97,369.74 101.23,369.80 101.49,369.82 101.75,369.82 102.01,369.82 102.27,369.82 102.53,369.82 102.79,369.82 103.05,369.81 103.31,369.81 103.57,369.80 103.83,369.79 104.09,369.79 104.35,369.78 104.61,369.77 104.87,369.76 105.13,369.76 105.39,369.75 105.65,369.74 105.91,369.72 106.17,369.71 106.43,369.70 106.69,369.69 106.95,369.68 107.21,369.67 107.47,369.65 107.73,369.64 107.99,369.63 108.25,369.61 108.51,369.60 108.77,369.58 109.03,369.57 109.29,369.55 109.55,369.54 109.81,369.52 110.07,369.51 110.33,369.49 110.59,369.48 110.85,369.46 111.11,369.45 111.37,369.43 111.63,369.42 111.89,369.40 112.15,369.39 112.41,369.37 112.67,369.36 112.93,369.34 113.19,369.33 113.45,369.31 113.71,369.30 113.97,369.28 114.23,369.26 114.49,369.25 114.75,369.23 115.01,369.21 115.27,369.19 115.53,369.17 115.79,369.15 116.05,369.13 116.31,369.11 116.57,369.09 116.83,369.07 117.09,369.05 117.35,369.03 117.61,369.01 117.87,368.99 118.13,368.97 118.39,368.94 118.65,368.92 118.91,368.90 119.17,368.87 119.43,368.85 119.69,368.83 119.95,368.80 120.20,368.78 120.46,368.75 120.72,368.73 120.98,368.70 121.24,368.68 121.50,368.65 121.76,368.62 122.02,368.60 122.28,368.57 122.54,368.54 122.80,368.52 123.06,368.49 123.32,368.46 123.58,368.44 123.84,368.41 124.10,368.38 124.36,368.35 124.62,368.32 124.88,368.30 125.14,368.27 125.40,368.24 125.66,368.21 125.92,368.18 126.18,368.15 126.44,368.12 126.70,368.10 126.96,368.07 127.22,368.04 127.48,368.01 127.74,367.98 128.00,367.95 128.26,367.92 128.52,367.89 128.78,367.86 129.04,367.83 129.30,367.80 129.56,367.77 129.82,367.74 130.08,367.71 130.34,367.68 130.60,367.65 130.86,367.62 131.12,367.59 131.38,367.56 131.64,367.53 131.90,367.50 132.16,367.47 132.42,367.44 132.68,367.41 132.94,367.37 133.20,367.34 133.46,367.31 133.72,367.27 133.98,367.24 134.24,367.20 134.50,367.17 134.76,367.13 135.02,367.09 135.28,367.06 135.54,367.02 135.80,366.98 136.06,366.94 136.32,366.90 136.58,366.86 136.84,366.82 137.10,366.77 137.36,366.73 137.62,366.69 137.88,366.64 138.14,366.59 138.40,366.55 138.66,366.50 138.92,366.45 139.18,366.40 139.44,366.35 139.70,366.29 139.96,366.24 140.22,366.18 140.48,366.13 140.74,366.07 141.00,366.01 141.26,365.95 141.52,365.89 141.77,365.83 142.03,365.76 142.29,365.69 142.55,365.63 142.81,365.56 143.07,365.49 143.33,365.41 143.59,365.34 143.85,365.26 144.11,365.18 144.37,365.10 144.63,365.02 144.89,364.93 145.15,364.85 145.41,364.76 145.67,364.67 145.93,364.57 146.19,364.47 146.45,364.38 146.71,364.27 146.97,364.17 147.23,364.06 147.49,363.96 147.75,363.84 148.01,363.73 148.27,363.61 148.53,363.49 148.79,363.37 149.05,363.24 149.31,363.12 149.57,362.98 149.83,362.85 150.09,362.70 150.35,362.54 150.61,362.38 150.87,362.20 151.13,362.01 151.39,361.82 151.65,361.61 151.91,361.39 152.17,361.16 152.43,360.91 152.69,360.66 152.95,360.39 153.21,360.11 153.47,359.81 153.73,359.50 153.99,359.18 154.25,358.84 154.51,358.48 154.77,358.11 155.03,357.61 155.29,356.91 155.55,356.07 155.81,355.16 156.07,354.23 156.33,353.33 156.59,352.53 156.85,351.89 157.11,351.46 157.37,351.30 157.63,351.51 157.89,352.05 158.15,352.75 158.41,353.45 158.67,354.00 158.93,354.22 159.19,353.76 159.45,352.47 159.71,350.62 159.97,348.49 160.23,346.34 160.49,344.45 160.75,343.09 161.01,342.53 161.27,342.84 161.53,343.71 161.79,344.86 162.05,346.04 162.31,346.98 162.57,347.40 162.83,347.38 163.09,347.30 163.34,347.18 163.60,347.02 163.86,346.82 164.12,346.59 164.38,346.33 164.64,346.06 164.90,345.78 165.16,345.49 165.42,345.17 165.68,344.77 165.94,344.29 166.20,343.75 166.46,343.14 166.72,342.47 166.98,341.75 167.24,340.99 167.50,340.18 167.76,339.33 168.02,338.46 168.28,337.55 168.54,336.63 168.80,335.69 169.06,334.75 169.32,333.79 169.58,332.84 169.84,331.90 170.10,330.97 170.36,330.05 170.62,329.13 170.88,328.14 171.14,327.09 171.40,325.99 171.66,324.85 171.92,323.67 172.18,322.47 172.44,321.26 172.70,320.03 172.96,318.81 173.22,317.60 173.48,316.40 173.74,315.24 174.00,314.11 174.26,313.03 174.52,312.00 174.78,311.03 175.04,310.14 175.30,309.33 175.56,308.60 175.82,307.95 176.08,307.30 176.34,306.65 176.60,305.99 176.86,305.35 177.12,304.71 177.38,304.09 177.64,303.48 177.90,302.90 178.16,302.34 178.42,301.82 178.68,301.32 178.94,300.87 179.20,300.46 179.46,300.10 179.72,299.79 179.98,299.54 180.24,299.34 180.50,299.21 180.76,299.14 181.02,299.14 181.28,299.18 181.54,299.26 181.80,299.36 182.06,299.49 182.32,299.66 182.58,299.84 182.84,300.06 183.10,300.29 183.36,300.55 183.62,300.82 183.88,301.11 184.14,301.41 184.40,301.73 184.66,302.05 184.92,302.39 185.17,302.75 185.43,303.22 185.69,303.79 185.95,304.46 186.21,305.21 186.47,306.03 186.73,306.91 186.99,307.84 187.25,308.81 187.51,309.80 187.77,310.80 188.03,311.80 188.29,312.79 188.55,313.76 188.81,314.69 189.07,315.65 189.33,316.63 189.59,317.63 189.85,318.65 190.11,319.69 190.37,320.75 190.63,321.82 190.89,322.91 191.15,324.00 191.41,325.10 191.67,326.21 191.93,327.32 192.19,328.44 192.45,329.55 192.71,330.66 192.97,331.77 193.23,332.87 193.49,333.96 193.75,335.04 194.01,336.12 194.27,337.20 194.53,338.30 194.79,339.41 195.05,340.53 195.31,341.65 195.57,342.78 195.83,343.91 196.09,345.04 196.35,346.16 196.61,347.28 196.87,348.38 197.13,349.48 197.39,350.55 197.65,351.61 197.91,352.65 198.17,353.66 198.43,354.65 198.69,355.60 198.95,356.53 199.21,357.42 199.47,358.33 199.73,359.27 199.99,360.23 200.25,361.19 200.51,362.13 200.77,363.05 201.03,363.94 201.29,364.77 201.55,365.53 201.81,366.22 202.07,366.82 202.33,367.31 202.59,367.68 202.85,367.92 203.11,368.12 203.37,368.31 203.63,368.48 203.89,368.63 204.15,368.78 204.41,368.91 204.67,369.02 204.93,369.12 205.19,369.20 205.45,369.26 205.71,369.31 205.97,369.34 206.23,369.37 206.49,369.39 206.74,369.41 207.00,369.43 207.26,369.45 207.52,369.47 207.78,369.49 208.04,369.51 208.30,369.53 208.56,369.55 208.82,369.57 209.08,369.58 209.34,369.60 209.60,369.61 209.86,369.63 210.12,369.64 210.38,369.66 210.64,369.67 210.90,369.68 211.16,369.69 211.42,369.70 211.68,369.72 211.94,369.73 212.20,369.73 212.46,369.74 212.72,369.75 212.98,369.76 213.24,369.77 213.50,369.78 213.76,369.78 214.02,369.79 214.28,369.79 214.54,369.80 214.80,369.80 215.06,369.81 215.32,369.81 215.58,369.81 215.84,369.82 216.10,369.82 216.36,369.82 216.62,369.82 216.88,369.82 217.14,369.82 217.40,369.82" fill="none" stroke="#ff2020" stroke-width="1.15" stroke-linejoin="round"/>
<polyline points="35.74,370.80 35.74,361.54 36.00,361.50 36.26,361.47 36.52,361.44 36.78,361.41 37.04,361.38 37.30,361.36 37.56,361.35 37.82,361.34 38.08,361.34 38.34,361.34 38.60,361.35 38.86,361.35 39.12,361.36 39.38,361.36 39.64,361.37 39.90,361.38 40.16,361.39 40.42,361.40 40.68,361.41 40.94,361.42 41.20,361.44 41.46,361.46 41.72,361.47 41.98,361.49 42.24,361.51 42.50,361.53 42.76,361.56 43.02,361.58 43.28,361.61 43.54,361.63 43.80,361.66 44.06,361.69 44.32,361.72 44.58,361.75 44.84,361.79 45.10,361.82 45.36,361.89 45.62,362.01 45.88,362.19 46.14,362.42 46.40,362.69 46.66,362.98 46.92,363.30 47.18,363.63 47.44,363.96 47.70,364.29 47.96,364.60 48.22,364.89 48.48,365.17 48.74,365.45 49.00,365.74 49.26,366.03 49.52,366.33 49.78,366.63 50.04,366.93 50.30,367.22 50.56,367.50 50.82,367.78 51.08,368.05 51.34,368.30 51.60,368.55 51.86,368.81 52.12,369.09 52.38,369.36 52.64,369.63 52.90,369.87 53.16,370.09 53.42,370.27 53.68,370.41 53.94,370.49 54.20,370.53 54.46,370.56 54.72,370.59 54.98,370.62 55.23,370.64 55.49,370.66 55.75,370.69 56.01,370.70 56.27,370.72 56.53,370.74 56.79,370.75 57.05,370.76 57.31,370.77 57.57,370.78 57.83,370.79 58.09,370.80 58.35,370.80 58.61,370.80 58.87,370.78 59.13,370.69 59.39,370.52 59.65,370.27 59.91,369.97 60.17,369.27 60.43,367.29 60.69,364.84 60.95,362.92 61.21,362.18 61.47,361.69 61.73,361.27 61.99,360.91 62.25,360.61 62.51,360.35 62.77,360.11 63.03,359.89 63.29,359.68 63.55,359.46 63.81,359.22 64.07,358.95 64.33,358.64 64.59,358.32 64.85,358.00 65.11,357.71 65.37,357.45 65.63,357.27 65.89,357.16 66.15,357.18 66.41,357.39 66.67,357.75 66.93,358.24 67.19,358.80 67.45,359.38 67.71,359.94 67.97,360.43 68.23,360.80 68.49,361.02 68.75,361.05 69.01,361.05 69.27,361.05 69.53,361.05 69.79,361.05 70.05,361.05 70.31,361.05 70.57,361.05 70.83,361.05 71.09,361.05 71.35,361.02 71.61,360.73 71.87,360.21 72.13,359.54 72.39,358.81 72.65,358.12 72.91,357.56 73.17,357.22 73.43,357.17 73.69,357.38 73.95,357.77 74.21,358.27 74.47,358.81 74.73,359.33 74.99,359.75 75.25,360.02 75.51,360.07 75.77,360.05 76.03,360.00 76.29,359.92 76.55,359.83 76.81,359.71 77.06,359.57 77.32,359.42 77.58,359.25 77.84,359.07 78.10,358.88 78.36,358.69 78.62,358.48 78.88,358.27 79.14,358.06 79.40,357.74 79.66,357.33 79.92,356.83 80.18,356.31 80.44,355.77 80.70,355.27 80.96,354.83 81.22,354.49 81.48,354.28 81.74,354.24 82.00,354.55 82.26,355.14 82.52,355.85 82.78,356.53 83.04,357.01 83.30,357.14 83.56,356.74 83.82,355.96 84.08,355.00 84.34,354.09 84.60,353.44 84.86,353.25 85.12,353.42 85.38,353.78 85.64,354.27 85.90,354.81 86.16,355.33 86.42,355.78 86.68,356.08 86.94,356.14 87.20,354.21 87.46,350.05 87.72,344.61 87.98,338.84 88.24,333.66 88.50,330.04 88.76,328.89 89.02,329.75 89.28,331.74 89.54,334.52 89.80,337.78 90.06,341.16 90.32,344.34 90.58,346.99 90.84,348.76 91.10,349.34 91.36,348.25 91.62,345.77 91.88,342.59 92.14,339.39 92.40,335.30 92.66,329.99 92.92,324.34 93.18,319.24 93.44,315.58 93.70,314.25 93.96,315.32 94.22,318.01 94.48,321.84 94.74,326.31 95.00,330.93 95.26,335.22 95.52,339.02 95.78,343.24 96.04,347.63 96.30,351.85 96.56,355.52 96.82,358.30 97.08,360.06 97.34,361.61 97.60,363.03 97.86,364.32 98.12,365.48 98.38,366.49 98.63,367.33 98.89,368.02 99.15,368.52 99.41,368.84 99.67,369.04 99.93,369.23 100.19,369.40 100.45,369.54 100.71,369.66 100.97,369.75 101.23,369.80 101.49,369.82 101.75,369.82 102.01,369.82 102.27,369.82 102.53,369.82 102.79,369.82 103.05,369.81 103.31,369.81 103.57,369.80 103.83,369.79 104.09,369.79 104.35,369.78 104.61,369.77 104.87,369.76 105.13,369.76 105.39,369.75 105.65,369.74 105.91,369.72 106.17,369.71 106.43,369.70 106.69,369.69 106.95,369.68 107.21,369.67 107.47,369.65 107.73,369.64 107.99,369.63 108.25,369.61 108.51,369.60 108.77,369.58 109.03,369.57 109.29,369.55 109.55,369.54 109.81,369.52 110.07,369.51 110.33,369.49 110.59,369.48 110.85,369.46 111.11,369.45 111.37,369.43 111.63,369.42 111.89,369.40 112.15,369.39 112.41,369.37 112.67,369.36 112.93,369.34 113.19,369.33 113.45,369.31 113.71,369.30 113.97,369.28 114.23,369.26 114.49,369.25 114.75,369.23 115.01,369.21 115.27,369.19 115.53,369.17 115.79,369.15 116.05,369.13 116.31,369.11 116.57,369.09 116.83,369.07 117.09,369.05 117.35,369.03 117.61,369.01 117.87,368.99 118.13,368.97 118.39,368.94 118.65,368.92 118.91,368.90 119.17,368.87 119.43,368.85 119.69,368.83 119.95,368.80 120.20,368.78 120.46,368.75 120.72,368.73 120.98,368.70 121.24,368.68 121.50,368.65 121.76,368.62 122.02,368.60 122.28,368.57 122.54,368.54 122.80,368.52 123.06,368.49 123.32,368.46 123.58,368.44 123.84,368.41 124.10,368.38 124.36,368.35 124.62,368.32 124.88,368.30 125.14,368.27 125.40,368.24 125.66,368.21 125.92,368.18 126.18,368.15 126.44,368.12 126.70,368.10 126.96,368.07 127.22,368.04 127.48,368.01 127.74,367.98 128.00,367.95 128.26,367.92 128.52,367.89 128.78,367.86 129.04,367.83 129.30,367.80 129.56,367.77 129.82,367.74 130.08,367.71 130.34,367.68 130.60,367.65 130.86,367.62 131.12,367.59 131.38,367.56 131.64,367.53 131.90,367.50 132.16,367.47 132.42,367.44 132.68,367.41 132.94,367.37 133.20,367.34 133.46,367.31 133.72,367.27 133.98,367.24 134.24,367.20 134.50,367.17 134.76,367.13 135.02,367.09 135.28,367.06 135.54,367.02 135.80,366.98 136.06,366.94 136.32,366.90 136.58,366.86 136.84,366.82 137.10,366.77 137.36,366.73 137.62,366.69 137.88,366.64 138.14,366.59 138.40,366.55 138.66,366.50 138.92,366.45 139.18,366.40 139.44,366.35 139.70,366.29 139.96,366.24 140.22,366.18 140.48,366.13 140.74,366.07 141.00,366.01 141.26,365.95 141.52,365.89 141.77,365.83 142.03,365.76 142.29,365.69 142.55,365.63 142.81,365.56 143.07,365.49 143.33,365.41 143.59,365.34 143.85,365.26 144.11,365.18 144.37,365.10 144.63,365.02 144.89,364.93 145.15,364.85 145.41,364.76 145.67,364.67 145.93,364.57 146.19,364.47 146.45,364.38 146.71,364.27 146.97,364.17 147.23,364.06 147.49,363.96 147.75,363.84 148.01,363.73 148.27,363.61 148.53,363.49 148.79,363.37 149.05,363.24 149.31,363.12 149.57,362.98 149.83,362.85 150.09,362.71 150.35,362.56 150.61,362.41 150.87,362.25 151.13,362.09 151.39,361.91 151.65,361.72 151.91,361.52 152.17,361.30 152.43,361.07 152.69,360.82 152.95,360.56 153.21,360.27 153.47,359.97 153.73,359.64 153.99,359.30 154.25,358.93 154.51,358.53 154.77,358.11 155.03,357.42 155.29,356.32 155.55,354.93 155.81,353.35 156.07,351.71 156.33,350.11 156.59,348.67 156.85,347.50 157.11,346.72 157.37,346.43 157.63,346.92 157.89,348.17 158.15,349.80 158.41,351.44 158.67,352.72 158.93,353.25 159.19,352.59 159.45,350.76 159.71,348.14 159.97,345.12 160.23,342.08 160.49,339.41 160.75,337.48 161.01,336.68 161.27,337.30 161.53,339.04 161.79,341.35 162.05,343.71 162.31,345.58 162.57,346.42 162.83,346.40 163.09,346.32 163.34,346.20 163.60,346.03 163.86,345.83 164.12,345.60 164.38,345.34 164.64,345.07 164.90,344.80 165.16,344.51 165.42,344.21 165.68,343.85 165.94,343.44 166.20,342.98 166.46,342.48 166.72,341.93 166.98,341.34 167.24,340.73 167.50,340.08 167.76,339.40 168.02,338.70 168.28,337.98 168.54,337.24 168.80,336.50 169.06,335.74 169.32,334.98 169.58,334.22 169.84,333.46 170.10,332.71 170.36,331.96 170.62,331.21 170.88,330.40 171.14,329.54 171.40,328.63 171.66,327.69 171.92,326.71 172.18,325.72 172.44,324.71 172.70,323.69 172.96,322.68 173.22,321.68 173.48,320.70 173.74,319.74 174.00,318.81 174.26,317.93 174.52,317.10 174.78,316.32 175.04,315.61 175.30,314.97 175.56,314.41 175.82,313.91 176.08,313.42 176.34,312.93 176.60,312.44 176.86,311.96 177.12,311.49 177.38,311.03 177.64,310.58 177.90,310.15 178.16,309.75 178.42,309.36 178.68,309.01 178.94,308.68 179.20,308.38 179.46,308.12 179.72,307.90 179.98,307.71 180.24,307.57 180.50,307.48 180.76,307.43 181.02,307.43 181.28,307.46 181.54,307.53 181.80,307.62 182.06,307.73 182.32,307.87 182.58,308.03 182.84,308.22 183.10,308.42 183.36,308.64 183.62,308.87 183.88,309.12 184.14,309.38 184.40,309.65 184.66,309.93 184.92,310.21 185.17,310.52 185.43,310.91 185.69,311.38 185.95,311.93 186.21,312.55 186.47,313.23 186.73,313.95 186.99,314.72 187.25,315.52 187.51,316.34 187.77,317.18 188.03,318.02 188.29,318.85 188.55,319.68 188.81,320.48 189.07,321.32 189.33,322.18 189.59,323.07 189.85,323.98 190.11,324.92 190.37,325.88 190.63,326.86 190.89,327.85 191.15,328.85 191.41,329.86 191.67,330.88 191.93,331.91 192.19,332.93 192.45,333.96 192.71,334.98 192.97,336.00 193.23,337.01 193.49,338.01 193.75,339.00 194.01,339.98 194.27,340.97 194.53,341.97 194.79,342.99 195.05,344.03 195.31,345.06 195.57,346.11 195.83,347.15 196.09,348.19 196.35,349.23 196.61,350.26 196.87,351.27 197.13,352.27 197.39,353.25 197.65,354.21 197.91,355.15 198.17,356.05 198.43,356.93 198.69,357.77 198.95,358.57 199.21,359.33 199.47,360.09 199.73,360.87 199.99,361.66 200.25,362.43 200.51,363.20 200.77,363.94 201.03,364.64 201.29,365.31 201.55,365.92 201.81,366.48 202.07,366.96 202.33,367.37 202.59,367.69 202.85,367.92 203.11,368.12 203.37,368.30 203.63,368.47 203.89,368.62 204.15,368.77 204.41,368.90 204.67,369.01 204.93,369.11 205.19,369.20 205.45,369.26 205.71,369.31 205.97,369.34 206.23,369.37 206.49,369.39 206.74,369.41 207.00,369.43 207.26,369.45 207.52,369.47 207.78,369.49 208.04,369.51 208.30,369.53 208.56,369.55 208.82,369.57 209.08,369.58 209.34,369.60 209.60,369.61 209.86,369.63 210.12,369.64 210.38,369.66 210.64,369.67 210.90,369.68 211.16,369.69 211.42,369.70 211.68,369.72 211.94,369.73 212.20,369.73 212.46,369.74 212.72,369.75 212.98,369.76 213.24,369.77 213.50,369.78 213.76,369.78 214.02,369.79 214.28,369.79 214.54,369.80 214.80,369.80 215.06,369.81 215.32,369.81 215.58,369.81 215.84,369.82 216.10,369.82 216.36,369.82 216.62,369.82 216.88,369.82 217.14,369.82 217.40,369.82" fill="none" stroke="#2020ff" stroke-width="1.15" stroke-linejoin="round"/>
<rect x="28.60" y="224.90" width="188.80" height="146.10" fill="none" stroke="#1a1a1a" stroke-width="1.4" />
<line x1="25.60" y1="370.80" x2="28.60" y2="370.80" stroke="#222" stroke-width="0.9" />
<text x="24.40" y="372.80" font-size="5.5" font-weight="bold" font-style="normal" text-anchor="end" fill="#333"  textLength="6.90" lengthAdjust="spacingAndGlyphs" stroke="#333" stroke-width="0.2">0.0</text>
<line x1="26.90" y1="361.05" x2="28.60" y2="361.05" stroke="#222" stroke-width="0.9" />
<line x1="25.60" y1="351.30" x2="28.60" y2="351.30" stroke="#222" stroke-width="0.9" />
<text x="24.40" y="353.30" font-size="5.5" font-weight="bold" font-style="normal" text-anchor="end" fill="#333"  textLength="6.90" lengthAdjust="spacingAndGlyphs" stroke="#333" stroke-width="0.2">0.2</text>
<line x1="26.90" y1="341.55" x2="28.60" y2="341.55" stroke="#222" stroke-width="0.9" />
<line x1="25.60" y1="331.80" x2="28.60" y2="331.80" stroke="#222" stroke-width="0.9" />
<text x="24.40" y="333.80" font-size="5.5" font-weight="bold" font-style="normal" text-anchor="end" fill="#333"  textLength="6.90" lengthAdjust="spacingAndGlyphs" stroke="#333" stroke-width="0.2">0.4</text>
<line x1="26.90" y1="322.05" x2="28.60" y2="322.05" stroke="#222" stroke-width="0.9" />
<line x1="25.60" y1="312.30" x2="28.60" y2="312.30" stroke="#222" stroke-width="0.9" />
<text x="24.40" y="314.30" font-size="5.5" font-weight="bold" font-style="normal" text-anchor="end" fill="#333"  textLength="6.90" lengthAdjust="spacingAndGlyphs" stroke="#333" stroke-width="0.2">0.6</text>
<line x1="26.90" y1="302.55" x2="28.60" y2="302.55" stroke="#222" stroke-width="0.9" />
<line x1="25.60" y1="292.80" x2="28.60" y2="292.80" stroke="#222" stroke-width="0.9" />
<text x="24.40" y="294.80" font-size="5.5" font-weight="bold" font-style="normal" text-anchor="end" fill="#333"  textLength="6.90" lengthAdjust="spacingAndGlyphs" stroke="#333" stroke-width="0.2">0.8</text>
<line x1="26.90" y1="283.05" x2="28.60" y2="283.05" stroke="#222" stroke-width="0.9" />
<line x1="25.60" y1="273.30" x2="28.60" y2="273.30" stroke="#222" stroke-width="0.9" />
<text x="24.40" y="275.30" font-size="5.5" font-weight="bold" font-style="normal" text-anchor="end" fill="#333"  textLength="6.90" lengthAdjust="spacingAndGlyphs" stroke="#333" stroke-width="0.2">1.0</text>
<line x1="26.90" y1="263.55" x2="28.60" y2="263.55" stroke="#222" stroke-width="0.9" />
<line x1="25.60" y1="253.80" x2="28.60" y2="253.80" stroke="#222" stroke-width="0.9" />
<text x="24.40" y="255.80" font-size="5.5" font-weight="bold" font-style="normal" text-anchor="end" fill="#333"  textLength="6.90" lengthAdjust="spacingAndGlyphs" stroke="#333" stroke-width="0.2">1.2</text>
<line x1="26.90" y1="244.05" x2="28.60" y2="244.05" stroke="#222" stroke-width="0.9" />
<line x1="25.60" y1="234.30" x2="28.60" y2="234.30" stroke="#222" stroke-width="0.9" />
<text x="24.40" y="236.30" font-size="5.5" font-weight="bold" font-style="normal" text-anchor="end" fill="#333"  textLength="6.90" lengthAdjust="spacingAndGlyphs" stroke="#333" stroke-width="0.2">1.4</text>
<line x1="34.70" y1="371.00" x2="34.70" y2="373.80" stroke="#222" stroke-width="0.9" />
<text x="34.70" y="380.60" font-size="5.5" font-weight="bold" font-style="normal" text-anchor="middle" fill="#333"  textLength="8.30" lengthAdjust="spacingAndGlyphs" stroke="#333" stroke-width="0.2">500</text>
<line x1="47.75" y1="371.00" x2="47.75" y2="372.60" stroke="#222" stroke-width="0.9" />
<line x1="60.80" y1="371.00" x2="60.80" y2="373.80" stroke="#222" stroke-width="0.9" />
<text x="60.80" y="380.60" font-size="5.5" font-weight="bold" font-style="normal" text-anchor="middle" fill="#333"  textLength="11.00" lengthAdjust="spacingAndGlyphs" stroke="#333" stroke-width="0.2">1000</text>
<line x1="73.85" y1="371.00" x2="73.85" y2="372.60" stroke="#222" stroke-width="0.9" />
<line x1="86.90" y1="371.00" x2="86.90" y2="373.80" stroke="#222" stroke-width="0.9" />
<text x="86.90" y="380.60" font-size="5.5" font-weight="bold" font-style="normal" text-anchor="middle" fill="#333"  textLength="11.00" lengthAdjust="spacingAndGlyphs" stroke="#333" stroke-width="0.2">1500</text>
<line x1="99.95" y1="371.00" x2="99.95" y2="372.60" stroke="#222" stroke-width="0.9" />
<line x1="113.00" y1="371.00" x2="113.00" y2="373.80" stroke="#222" stroke-width="0.9" />
<text x="113.00" y="380.60" font-size="5.5" font-weight="bold" font-style="normal" text-anchor="middle" fill="#333"  textLength="11.00" lengthAdjust="spacingAndGlyphs" stroke="#333" stroke-width="0.2">2000</text>
<line x1="126.05" y1="371.00" x2="126.05" y2="372.60" stroke="#222" stroke-width="0.9" />
<line x1="139.10" y1="371.00" x2="139.10" y2="373.80" stroke="#222" stroke-width="0.9" />
<text x="139.10" y="380.60" font-size="5.5" font-weight="bold" font-style="normal" text-anchor="middle" fill="#333"  textLength="11.00" lengthAdjust="spacingAndGlyphs" stroke="#333" stroke-width="0.2">2500</text>
<line x1="152.15" y1="371.00" x2="152.15" y2="372.60" stroke="#222" stroke-width="0.9" />
<line x1="165.20" y1="371.00" x2="165.20" y2="373.80" stroke="#222" stroke-width="0.9" />
<text x="165.20" y="380.60" font-size="5.5" font-weight="bold" font-style="normal" text-anchor="middle" fill="#333"  textLength="11.00" lengthAdjust="spacingAndGlyphs" stroke="#333" stroke-width="0.2">3000</text>
<line x1="178.25" y1="371.00" x2="178.25" y2="372.60" stroke="#222" stroke-width="0.9" />
<line x1="191.30" y1="371.00" x2="191.30" y2="373.80" stroke="#222" stroke-width="0.9" />
<text x="191.30" y="380.60" font-size="5.5" font-weight="bold" font-style="normal" text-anchor="middle" fill="#333"  textLength="11.00" lengthAdjust="spacingAndGlyphs" stroke="#333" stroke-width="0.2">3500</text>
<line x1="204.35" y1="371.00" x2="204.35" y2="372.60" stroke="#222" stroke-width="0.9" />
<line x1="217.40" y1="371.00" x2="217.40" y2="373.80" stroke="#222" stroke-width="0.9" />
<text x="217.40" y="380.60" font-size="5.5" font-weight="bold" font-style="normal" text-anchor="middle" fill="#333"  textLength="11.00" lengthAdjust="spacingAndGlyphs" stroke="#333" stroke-width="0.2">4000</text>
<text x="90.50" y="392.00" font-size="7.2" font-weight="bold" font-style="normal" text-anchor="start" fill="#111"  textLength="65.70" lengthAdjust="spacingAndGlyphs" stroke="#111" stroke-width="0.2">Wavenumbers (cm-1)</text>
<text transform="translate(7.60,302.00) rotate(-90)" font-size="6.8" font-weight="bold" text-anchor="middle" fill="#111" textLength="56.00" lengthAdjust="spacingAndGlyphs" stroke="#111" stroke-width="0.2">Absorbence (A.U)</text>
<text x="3.00" y="243.70" font-size="9.4" font-weight="bold" font-style="normal" text-anchor="start" fill="#111"  textLength="11.60" lengthAdjust="spacingAndGlyphs" stroke="#111" stroke-width="0.2">A3</text>
<text x="32.90" y="236.8" font-size="7.2" font-weight="bold" fill="#2e962e" textLength="59.10" lengthAdjust="spacingAndGlyphs" stroke="#2e962e" stroke-width="0.2"><tspan font-style="italic">S. feltiae</tspan> at 85% RH</text>
<line x1="92.50" y1="233.90" x2="107.60" y2="233.90" stroke="#333" stroke-width="1.4" />
<text x="108.50" y="236.80" font-size="6.9" font-weight="bold" font-style="normal" text-anchor="start" fill="#111"  textLength="16.20" lengthAdjust="spacingAndGlyphs" stroke="#111" stroke-width="0.2">0 Hrs</text>
<line x1="126.80" y1="233.90" x2="142.40" y2="233.90" stroke="#ff3b3b" stroke-width="1.4" />
<text x="143.50" y="236.80" font-size="6.9" font-weight="bold" font-style="normal" text-anchor="start" fill="#111"  textLength="16.20" lengthAdjust="spacingAndGlyphs" stroke="#111" stroke-width="0.2">2 Hrs</text>
<line x1="159.80" y1="233.90" x2="174.40" y2="233.90" stroke="#3b3bff" stroke-width="1.4" />
<text x="176.40" y="236.80" font-size="6.9" font-weight="bold" font-style="normal" text-anchor="start" fill="#111"  textLength="16.20" lengthAdjust="spacingAndGlyphs" stroke="#111" stroke-width="0.2">4 Hrs</text>
<text transform="translate(66.30,346.29) scale(1.0,1)" font-size="8.2" font-weight="bold" text-anchor="middle" fill="#111" stroke="#111" stroke-width="0.2">1</text>
<text transform="translate(80.80,346.29) scale(1.0,1)" font-size="8.2" font-weight="bold" text-anchor="middle" fill="#111" stroke="#111" stroke-width="0.2">2</text>
<text transform="translate(90.40,305.59) scale(1.0,1)" font-size="8.2" font-weight="bold" text-anchor="middle" fill="#111" stroke="#111" stroke-width="0.2">3</text>
<text transform="translate(158.00,328.09) scale(1.0,1)" font-size="8.2" font-weight="bold" text-anchor="middle" fill="#111" stroke="#111" stroke-width="0.2">4</text>
<text transform="translate(180.30,273.19) scale(1.0,1)" font-size="8.2" font-weight="bold" text-anchor="middle" fill="#111" stroke="#111" stroke-width="0.2">5</text>
<path d="M189.85,264.60 C190.48,267.33 193.80,269.18 193.80,272.01 C193.80,274.19 191.98,275.50 189.85,275.50 C187.72,275.50 185.90,274.19 185.90,272.01 C185.90,269.18 189.22,267.33 189.85,264.60 Z" fill="#f6f9fb" stroke="#a6c0d0" stroke-width="0.85"/>
<rect x="107.80" y="240.20" width="60.80" height="47.00" fill="#fff" stroke="#9a9a9a" stroke-width="0.6" />
<line x1="107.80" y1="240.20" x2="107.80" y2="287.20" stroke="#333" stroke-width="0.8" />
<line x1="107.80" y1="287.20" x2="168.60" y2="287.20" stroke="#333" stroke-width="0.8" />
<line x1="106.60" y1="287.20" x2="107.80" y2="287.20" stroke="#555" stroke-width="0.5" />
<text x="106.00" y="288.10" font-size="2.5" font-weight="bold" font-style="normal" text-anchor="end" fill="#555"  stroke="#555" stroke-width="0.2">0.0</text>
<line x1="106.60" y1="277.80" x2="107.80" y2="277.80" stroke="#555" stroke-width="0.5" />
<text x="106.00" y="278.70" font-size="2.5" font-weight="bold" font-style="normal" text-anchor="end" fill="#555"  stroke="#555" stroke-width="0.2">0.2</text>
<line x1="106.60" y1="268.40" x2="107.80" y2="268.40" stroke="#555" stroke-width="0.5" />
<text x="106.00" y="269.30" font-size="2.5" font-weight="bold" font-style="normal" text-anchor="end" fill="#555"  stroke="#555" stroke-width="0.2">0.4</text>
<line x1="106.60" y1="259.00" x2="107.80" y2="259.00" stroke="#555" stroke-width="0.5" />
<text x="106.00" y="259.90" font-size="2.5" font-weight="bold" font-style="normal" text-anchor="end" fill="#555"  stroke="#555" stroke-width="0.2">0.6</text>
<line x1="106.60" y1="249.60" x2="107.80" y2="249.60" stroke="#555" stroke-width="0.5" />
<text x="106.00" y="250.50" font-size="2.5" font-weight="bold" font-style="normal" text-anchor="end" fill="#555"  stroke="#555" stroke-width="0.2">0.8</text>
<line x1="106.60" y1="240.20" x2="107.80" y2="240.20" stroke="#555" stroke-width="0.5" />
<text x="106.00" y="241.10" font-size="2.5" font-weight="bold" font-style="normal" text-anchor="end" fill="#555"  stroke="#555" stroke-width="0.2">1.0</text>
<line x1="111.38" y1="287.20" x2="111.38" y2="288.20" stroke="#555" stroke-width="0.5" />
<text x="111.38" y="290.50" font-size="2.1" font-weight="bold" font-style="normal" text-anchor="middle" fill="#555"  stroke="#555" stroke-width="0.2">2800</text>
<line x1="118.53" y1="287.20" x2="118.53" y2="288.20" stroke="#555" stroke-width="0.5" />
<text x="118.53" y="290.50" font-size="2.1" font-weight="bold" font-style="normal" text-anchor="middle" fill="#555"  stroke="#555" stroke-width="0.2">2900</text>
<line x1="125.68" y1="287.20" x2="125.68" y2="288.20" stroke="#555" stroke-width="0.5" />
<text x="125.68" y="290.50" font-size="2.1" font-weight="bold" font-style="normal" text-anchor="middle" fill="#555"  stroke="#555" stroke-width="0.2">3000</text>
<line x1="132.84" y1="287.20" x2="132.84" y2="288.20" stroke="#555" stroke-width="0.5" />
<text x="132.84" y="290.50" font-size="2.1" font-weight="bold" font-style="normal" text-anchor="middle" fill="#555"  stroke="#555" stroke-width="0.2">3100</text>
<line x1="139.99" y1="287.20" x2="139.99" y2="288.20" stroke="#555" stroke-width="0.5" />
<text x="139.99" y="290.50" font-size="2.1" font-weight="bold" font-style="normal" text-anchor="middle" fill="#555"  stroke="#555" stroke-width="0.2">3200</text>
<line x1="147.14" y1="287.20" x2="147.14" y2="288.20" stroke="#555" stroke-width="0.5" />
<text x="147.14" y="290.50" font-size="2.1" font-weight="bold" font-style="normal" text-anchor="middle" fill="#555"  stroke="#555" stroke-width="0.2">3300</text>
<line x1="154.29" y1="287.20" x2="154.29" y2="288.20" stroke="#555" stroke-width="0.5" />
<text x="154.29" y="290.50" font-size="2.1" font-weight="bold" font-style="normal" text-anchor="middle" fill="#555"  stroke="#555" stroke-width="0.2">3400</text>
<line x1="161.45" y1="287.20" x2="161.45" y2="288.20" stroke="#555" stroke-width="0.5" />
<text x="161.45" y="290.50" font-size="2.1" font-weight="bold" font-style="normal" text-anchor="middle" fill="#555"  stroke="#555" stroke-width="0.2">3500</text>
<line x1="168.60" y1="287.20" x2="168.60" y2="288.20" stroke="#555" stroke-width="0.5" />
<text x="168.60" y="290.50" font-size="2.1" font-weight="bold" font-style="normal" text-anchor="middle" fill="#555"  stroke="#555" stroke-width="0.2">3600</text>
<text x="138.20" y="294.20" font-size="2.7" font-weight="bold" font-style="normal" text-anchor="middle" fill="#444"  stroke="#444" stroke-width="0.2">Wavelength (cm<tspan font-size="1.8" dy="-0.9">-1</tspan><tspan dy="0.9">)</tspan></text>
<text transform="translate(101.80,263.70) rotate(-90)" font-size="2.5" font-weight="bold" text-anchor="middle" fill="#666" stroke="#666" stroke-width="0.2">Absorbance (a.u)</text>
<polyline points="107.90,280.50 108.41,280.42 108.92,280.29 109.43,280.12 109.94,279.91 110.45,279.67 110.96,279.41 111.47,279.13 111.98,278.83 112.49,278.51 113.00,278.12 113.51,277.66 114.02,277.15 114.53,276.59 115.04,276.01 115.55,275.42 116.06,274.83 116.57,274.22 117.08,273.58 117.59,272.90 118.10,272.20 118.61,271.48 119.12,270.75 119.63,270.00 120.14,269.25 120.65,268.50 121.16,267.74 121.67,266.95 122.18,266.12 122.69,265.24 123.20,264.29 123.71,263.24 124.22,261.99 124.73,260.56 125.24,259.04 125.75,257.50 126.26,256.02 126.77,254.67 127.28,253.53 127.79,252.48 128.30,251.46 128.81,250.48 129.32,249.58 129.83,248.78 130.34,248.09 130.85,247.54 131.36,247.09 131.87,246.64 132.38,246.23 132.89,245.86 133.40,245.56 133.91,245.34 134.42,245.22 134.93,245.20 135.44,245.20 135.95,245.20 136.46,245.20 136.97,245.20 137.48,245.20 137.99,245.20 138.51,245.20 139.02,245.23 139.53,245.31 140.04,245.42 140.55,245.56 141.06,245.74 141.57,245.93 142.08,246.15 142.59,246.44 143.10,246.94 143.61,247.60 144.12,248.38 144.63,249.21 145.14,250.05 145.65,250.84 146.16,251.55 146.67,252.24 147.18,252.93 147.69,253.62 148.20,254.31 148.71,255.02 149.22,255.74 149.73,256.47 150.24,257.21 150.75,257.96 151.26,258.72 151.77,259.49 152.28,260.27 152.79,261.06 153.30,261.87 153.81,262.69 154.32,263.52 154.83,264.39 155.34,265.28 155.85,266.18 156.36,267.09 156.87,268.01 157.38,268.91 157.89,269.81 158.40,270.69 158.91,271.59 159.42,272.48 159.93,273.38 160.44,274.28 160.95,275.16 161.46,276.03 161.97,276.87 162.48,277.69 162.99,278.48 163.50,279.25 164.01,280.00 164.52,280.74 165.03,281.47 165.54,282.18 166.05,282.87 166.56,283.55 167.07,284.22 167.58,284.86 168.09,285.49 168.60,286.10" fill="none" stroke="#1a1a1a" stroke-width="0.95" stroke-linejoin="round"/>
<polyline points="107.90,275.50 108.41,275.93 108.92,276.30 109.43,276.61 109.94,276.85 110.45,277.03 110.96,277.15 111.47,277.20 111.98,277.17 112.49,277.07 113.00,276.89 113.51,276.65 114.02,276.37 114.53,276.06 115.04,275.73 115.55,275.40 116.06,274.94 116.57,274.37 117.08,273.75 117.59,273.12 118.10,272.56 118.61,272.11 119.12,271.76 119.63,271.47 120.14,271.21 120.65,270.94 121.16,270.66 121.67,270.32 122.18,269.92 122.69,269.37 123.20,268.65 123.71,267.82 124.22,266.90 124.73,265.95 125.24,265.00 125.75,264.10 126.26,263.28 126.77,262.45 127.28,261.61 127.79,260.77 128.30,259.94 128.81,259.13 129.32,258.34 129.83,257.59 130.34,256.89 130.85,256.25 131.36,255.63 131.87,254.96 132.38,254.30 132.89,253.68 133.40,253.15 133.91,252.76 134.42,252.53 134.93,252.51 135.44,252.62 135.95,252.82 136.46,253.09 136.97,253.40 137.48,253.73 137.99,254.06 138.51,254.36 139.02,254.65 139.53,254.96 140.04,255.29 140.55,255.62 141.06,255.97 141.57,256.33 142.08,256.71 142.59,257.09 143.10,257.50 143.61,257.92 144.12,258.36 144.63,258.81 145.14,259.28 145.65,259.76 146.16,260.25 146.67,260.76 147.18,261.29 147.69,261.83 148.20,262.39 148.71,262.97 149.22,263.56 149.73,264.17 150.24,264.80 150.75,265.46 151.26,266.16 151.77,266.88 152.28,267.62 152.79,268.37 153.30,269.12 153.81,269.86 154.32,270.58 154.83,271.27 155.34,271.94 155.85,272.61 156.36,273.27 156.87,273.93 157.38,274.59 157.89,275.24 158.40,275.88 158.91,276.50 159.42,277.12 159.93,277.73 160.44,278.31 160.95,278.88 161.46,279.44 161.97,279.97 162.48,280.48 162.99,280.99 163.50,281.48 164.01,281.97 164.52,282.44 165.03,282.91 165.54,283.36 166.05,283.80 166.56,284.23 167.07,284.64 167.58,285.04 168.09,285.43 168.60,285.80" fill="none" stroke="#ff2020" stroke-width="0.95" stroke-linejoin="round"/>
<polyline points="107.90,273.90 108.41,274.57 108.92,275.18 109.43,275.70 109.94,276.14 110.45,276.47 110.96,276.70 111.47,276.80 111.98,276.78 112.49,276.67 113.00,276.50 113.51,276.27 114.02,276.00 114.53,275.71 115.04,275.41 115.55,275.10 116.06,274.69 116.57,274.17 117.08,273.62 117.59,273.09 118.10,272.65 118.61,272.35 119.12,272.15 119.63,271.99 120.14,271.86 120.65,271.74 121.16,271.60 121.67,271.43 122.18,271.21 122.69,270.88 123.20,270.40 123.71,269.82 124.22,269.17 124.73,268.48 125.24,267.78 125.75,267.11 126.26,266.48 126.77,265.85 127.28,265.20 127.79,264.55 128.30,263.89 128.81,263.23 129.32,262.57 129.83,261.92 130.34,261.28 130.85,260.66 131.36,259.99 131.87,259.23 132.38,258.45 132.89,257.69 133.40,257.03 133.91,256.53 134.42,256.24 134.93,256.22 135.44,256.38 135.95,256.68 136.46,257.07 136.97,257.51 137.48,257.97 137.99,258.40 138.51,258.77 139.02,259.11 139.53,259.44 140.04,259.78 140.55,260.11 141.06,260.44 141.57,260.78 142.08,261.12 142.59,261.45 143.10,261.78 143.61,262.11 144.12,262.44 144.63,262.78 145.14,263.13 145.65,263.51 146.16,263.90 146.67,264.32 147.18,264.75 147.69,265.21 148.20,265.68 148.71,266.17 149.22,266.68 149.73,267.21 150.24,267.76 150.75,268.36 151.26,269.00 151.77,269.66 152.28,270.35 152.79,271.06 153.30,271.76 153.81,272.46 154.32,273.14 154.83,273.79 155.34,274.41 155.85,275.05 156.36,275.68 156.87,276.32 157.38,276.95 157.89,277.58 158.40,278.20 158.91,278.81 159.42,279.40 159.93,279.96 160.44,280.51 160.95,281.03 161.46,281.52 161.97,281.97 162.48,282.40 162.99,282.82 163.50,283.23 164.01,283.63 164.52,284.01 165.03,284.38 165.54,284.74 166.05,285.08 166.56,285.40 167.07,285.71 167.58,285.99 168.09,286.26 168.60,286.50" fill="none" stroke="#2020ff" stroke-width="0.95" stroke-linejoin="round"/>
<polyline points="259.54,375.10 259.54,356.02 259.80,355.77 260.05,355.52 260.31,355.27 260.57,355.02 260.83,354.77 261.09,354.52 261.35,354.27 261.61,354.02 261.86,353.77 262.12,353.52 262.38,353.27 262.64,353.02 262.90,352.77 263.16,352.52 263.41,352.27 263.67,352.03 263.93,351.76 264.19,351.48 264.45,351.17 264.71,350.86 264.96,350.53 265.22,350.20 265.48,349.88 265.74,349.56 266.00,349.25 266.26,348.97 266.51,348.71 266.77,348.49 267.03,348.29 267.29,348.15 267.55,348.04 267.81,348.00 268.06,348.00 268.32,348.05 268.58,348.14 268.84,348.26 269.10,348.41 269.36,348.59 269.62,348.79 269.87,349.01 270.13,349.23 270.39,349.47 270.65,349.71 270.91,349.95 271.17,350.23 271.42,350.59 271.68,351.04 271.94,351.55 272.20,352.10 272.46,352.68 272.72,353.28 272.97,353.87 273.23,354.45 273.49,354.99 273.75,355.48 274.01,355.91 274.27,356.25 274.52,356.49 274.78,356.61 275.04,356.58 275.30,356.27 275.56,355.71 275.82,354.97 276.07,354.11 276.33,353.19 276.59,352.26 276.85,351.38 277.11,350.62 277.37,350.03 277.63,349.68 277.88,349.60 278.14,349.68 278.40,349.83 278.66,350.06 278.92,350.34 279.18,350.67 279.43,351.03 279.69,351.41 279.95,351.80 280.21,352.18 280.47,352.55 280.73,352.89 280.98,353.18 281.24,353.43 281.50,353.60 281.76,353.70 282.02,353.71 282.28,353.71 282.53,353.71 282.79,353.71 283.05,353.71 283.31,353.71 283.57,353.71 283.83,353.71 284.08,353.71 284.34,353.71 284.60,353.71 284.86,353.71 285.12,353.71 285.38,353.71 285.64,353.71 285.89,353.71 286.15,353.73 286.41,353.85 286.67,354.05 286.93,354.34 287.19,354.69 287.44,355.10 287.70,355.55 287.96,356.03 288.22,356.53 288.48,357.02 288.74,357.51 288.99,357.98 289.25,358.50 289.51,359.09 289.77,359.72 290.03,360.37 290.29,361.03 290.54,361.66 290.80,362.26 291.06,362.80 291.32,363.27 291.58,363.76 291.84,364.26 292.09,364.75 292.35,365.22 292.61,365.64 292.87,366.00 293.13,366.26 293.39,366.43 293.64,366.47 293.90,366.46 294.16,366.44 294.42,366.42 294.68,366.39 294.94,366.35 295.20,366.31 295.45,366.27 295.71,366.23 295.97,366.19 296.23,366.16 296.49,366.12 296.75,366.10 297.00,366.08 297.26,366.07 297.52,366.07 297.78,366.09 298.04,366.13 298.30,366.20 298.55,366.27 298.81,366.34 299.07,366.41 299.33,366.48 299.59,366.53 299.85,366.56 300.10,366.57 300.36,366.56 300.62,366.54 300.88,366.51 301.14,366.47 301.40,366.43 301.65,366.37 301.91,366.32 302.17,366.25 302.43,366.19 302.69,366.12 302.95,366.04 303.21,365.91 303.46,365.72 303.72,365.49 303.98,365.21 304.24,364.92 304.50,364.60 304.76,364.29 305.01,363.99 305.27,363.71 305.53,363.47 305.79,363.27 306.05,363.13 306.31,363.06 306.56,363.08 306.82,363.23 307.08,363.48 307.34,363.79 307.60,364.12 307.86,364.46 308.11,364.74 308.37,364.96 308.63,365.06 308.89,365.03 309.15,364.89 309.41,364.65 309.66,364.33 309.92,363.93 310.18,363.48 310.44,362.95 310.70,361.62 310.96,359.36 311.22,356.60 311.47,353.76 311.73,351.27 311.99,349.55 312.25,349.00 312.51,349.30 312.77,349.98 313.02,350.94 313.28,352.05 313.54,353.21 313.80,354.30 314.06,355.21 314.32,355.82 314.57,356.02 314.83,355.51 315.09,354.31 315.35,352.68 315.61,350.87 315.87,347.86 316.12,343.37 316.38,338.32 316.64,333.62 316.90,330.18 317.16,328.92 317.42,329.48 317.67,330.95 317.93,333.13 318.19,335.82 318.45,338.83 318.71,341.96 318.97,345.02 319.23,348.81 319.48,353.66 319.74,358.76 320.00,363.27 320.26,366.39 320.52,367.73 320.78,368.76 321.03,369.67 321.29,370.47 321.55,371.16 321.81,371.74 322.07,372.22 322.33,372.60 322.58,372.89 322.84,373.08 323.10,373.23 323.36,373.37 323.62,373.50 323.88,373.61 324.13,373.72 324.39,373.82 324.65,373.90 324.91,373.97 325.17,374.02 325.43,374.06 325.68,374.09 325.94,374.10 326.20,374.10 326.46,374.09 326.72,374.09 326.98,374.09 327.24,374.08 327.49,374.08 327.75,374.07 328.01,374.06 328.27,374.06 328.53,374.05 328.79,374.04 329.04,374.03 329.30,374.01 329.56,374.00 329.82,373.99 330.08,373.98 330.34,373.96 330.59,373.95 330.85,373.93 331.11,373.92 331.37,373.90 331.63,373.89 331.89,373.87 332.14,373.86 332.40,373.84 332.66,373.82 332.92,373.81 333.18,373.79 333.44,373.77 333.69,373.76 333.95,373.74 334.21,373.72 334.47,373.71 334.73,373.69 334.99,373.67 335.25,373.66 335.50,373.64 335.76,373.63 336.02,373.61 336.28,373.60 336.54,373.58 336.80,373.57 337.05,373.55 337.31,373.53 337.57,373.51 337.83,373.49 338.09,373.47 338.35,373.45 338.60,373.43 338.86,373.41 339.12,373.38 339.38,373.36 339.64,373.34 339.90,373.32 340.15,373.30 340.41,373.27 340.67,373.25 340.93,373.23 341.19,373.21 341.45,373.20 341.70,373.18 341.96,373.16 342.22,373.15 342.48,373.13 342.74,373.12 343.00,373.11 343.26,373.10 343.51,373.10 343.77,373.09 344.03,373.09 344.29,373.09 344.55,373.09 344.81,373.09 345.06,373.09 345.32,373.09 345.58,373.09 345.84,373.09 346.10,373.09 346.36,373.09 346.61,373.09 346.87,373.09 347.13,373.09 347.39,373.09 347.65,373.09 347.91,373.09 348.16,373.09 348.42,373.09 348.68,373.09 348.94,373.09 349.20,373.09 349.46,373.09 349.71,373.09 349.97,373.09 350.23,373.09 350.49,373.09 350.75,373.09 351.01,373.09 351.27,373.09 351.52,373.09 351.78,373.09 352.04,373.09 352.30,373.09 352.56,373.09 352.82,373.08 353.07,373.07 353.33,373.06 353.59,373.05 353.85,373.04 354.11,373.02 354.37,373.01 354.62,372.99 354.88,372.97 355.14,372.95 355.40,372.93 355.66,372.91 355.92,372.88 356.17,372.86 356.43,372.83 356.69,372.80 356.95,372.78 357.21,372.75 357.47,372.72 357.72,372.69 357.98,372.65 358.24,372.62 358.50,372.59 358.76,372.56 359.02,372.52 359.28,372.49 359.53,372.46 359.79,372.42 360.05,372.39 360.31,372.35 360.57,372.32 360.83,372.28 361.08,372.25 361.34,372.21 361.60,372.18 361.86,372.15 362.12,372.11 362.38,372.08 362.63,372.04 362.89,372.01 363.15,371.98 363.41,371.94 363.67,371.91 363.93,371.87 364.18,371.84 364.44,371.80 364.70,371.76 364.96,371.73 365.22,371.69 365.48,371.65 365.73,371.61 365.99,371.57 366.25,371.53 366.51,371.49 366.77,371.44 367.03,371.40 367.29,371.35 367.54,371.31 367.80,371.26 368.06,371.21 368.32,371.16 368.58,371.11 368.84,371.05 369.09,371.00 369.35,370.95 369.61,370.89 369.87,370.83 370.13,370.77 370.39,370.71 370.64,370.64 370.90,370.58 371.16,370.51 371.42,370.44 371.68,370.37 371.94,370.30 372.19,370.23 372.45,370.15 372.71,370.07 372.97,369.99 373.23,369.90 373.49,369.81 373.74,369.71 374.00,369.61 374.26,369.49 374.52,369.38 374.78,369.25 375.04,369.12 375.30,368.98 375.55,368.83 375.81,368.67 376.07,368.51 376.33,368.33 376.59,368.15 376.85,367.95 377.10,367.74 377.36,367.53 377.62,367.30 377.88,367.06 378.14,366.71 378.40,366.22 378.65,365.61 378.91,364.93 379.17,364.24 379.43,363.57 379.69,362.97 379.95,362.49 380.20,362.17 380.46,362.05 380.72,362.12 380.98,362.30 381.24,362.54 381.50,362.79 381.75,362.97 382.01,363.05 382.27,362.85 382.53,362.30 382.79,361.51 383.05,360.59 383.31,359.67 383.56,358.86 383.82,358.27 384.08,358.03 384.34,358.07 384.60,358.18 384.86,358.34 385.11,358.52 385.37,358.70 385.63,358.87 385.89,358.98 386.15,359.04 386.41,358.90 386.66,358.47 386.92,357.81 387.18,356.98 387.44,356.03 387.70,355.03 387.96,354.04 388.21,353.13 388.47,352.28 388.73,351.43 388.99,350.56 389.25,349.67 389.51,348.78 389.76,347.86 390.02,346.94 390.28,345.99 390.54,345.03 390.80,344.05 391.06,343.06 391.31,342.05 391.57,341.01 391.83,339.96 392.09,338.89 392.35,337.79 392.61,336.68 392.87,335.54 393.12,334.38 393.38,333.20 393.64,331.97 393.90,330.63 394.16,329.20 394.42,327.70 394.67,326.12 394.93,324.49 395.19,322.82 395.45,321.12 395.71,319.41 395.97,317.69 396.22,315.98 396.48,314.29 396.74,312.64 397.00,311.03 397.26,309.49 397.52,308.01 397.77,306.63 398.03,305.34 398.29,304.16 398.55,303.11 398.81,302.16 399.07,301.19 399.32,300.22 399.58,299.25 399.84,298.29 400.10,297.35 400.36,296.42 400.62,295.54 400.88,294.69 401.13,293.89 401.39,293.15 401.65,292.48 401.91,291.88 402.17,291.36 402.43,290.93 402.68,290.60 402.94,290.38 403.20,290.27 403.46,290.27 403.72,290.31 403.98,290.37 404.23,290.47 404.49,290.60 404.75,290.75 405.01,290.92 405.27,291.12 405.53,291.34 405.78,291.57 406.04,291.82 406.30,292.08 406.56,292.36 406.82,292.64 407.08,292.95 407.33,293.37 407.59,293.90 407.85,294.54 408.11,295.27 408.37,296.08 408.63,296.97 408.89,297.93 409.14,298.95 409.40,300.02 409.66,301.12 409.92,302.26 410.18,303.42 410.44,304.60 410.69,305.78 410.95,306.95 411.21,308.11 411.47,309.25 411.73,310.37 411.99,311.53 412.24,312.73 412.50,313.97 412.76,315.24 413.02,316.55 413.28,317.89 413.54,319.26 413.79,320.64 414.05,322.05 414.31,323.46 414.57,324.89 414.83,326.32 415.09,327.75 415.34,329.17 415.60,330.60 415.86,332.01 416.12,333.40 416.38,334.78 416.64,336.13 416.90,337.46 417.15,338.82 417.41,340.21 417.67,341.63 417.93,343.06 418.19,344.50 418.45,345.95 418.70,347.41 418.96,348.85 419.22,350.28 419.48,351.69 419.74,353.08 420.00,354.43 420.25,355.74 420.51,357.01 420.77,358.23 421.03,359.38 421.29,360.48 421.55,361.50 421.80,362.44 422.06,363.31 422.32,364.15 422.58,364.99 422.84,365.82 423.10,366.63 423.35,367.42 423.61,368.17 423.87,368.88 424.13,369.54 424.39,370.15 424.65,370.70 424.91,371.18 425.16,371.58 425.42,371.90 425.68,372.14 425.94,372.34 426.20,372.52 426.46,372.70 426.71,372.86 426.97,373.01 427.23,373.14 427.49,373.26 427.75,373.36 428.01,373.45 428.26,373.52 428.52,373.57 428.78,373.60 429.04,373.62 429.30,373.65 429.56,373.67 429.81,373.69 430.07,373.71 430.33,373.73 430.59,373.75 430.85,373.77 431.11,373.79 431.36,373.81 431.62,373.83 431.88,373.85 432.14,373.86 432.40,373.88 432.66,373.89 432.92,373.91 433.17,373.92 433.43,373.94 433.69,373.95 433.95,373.96 434.21,373.97 434.47,373.98 434.72,373.99 434.98,374.00 435.24,374.01 435.50,374.02 435.76,374.03 436.02,374.04 436.27,374.05 436.53,374.05 436.79,374.06 437.05,374.06 437.31,374.07 437.57,374.07 437.82,374.08 438.08,374.08 438.34,374.09 438.60,374.09 438.86,374.09 439.12,374.09 439.37,374.09 439.63,374.10 439.89,374.10 440.15,374.10" fill="none" stroke="#1a1a1a" stroke-width="1.15" stroke-linejoin="round"/>
<polyline points="259.54,375.10 259.54,350.00 259.80,350.00 260.05,350.00 260.31,350.00 260.57,350.00 260.83,350.00 261.09,350.00 261.35,350.00 261.61,350.00 261.86,350.00 262.12,350.00 262.38,350.00 262.64,350.00 262.90,350.00 263.16,350.00 263.41,350.00 263.67,350.00 263.93,350.02 264.19,350.06 264.45,350.12 264.71,350.20 264.96,350.30 265.22,350.42 265.48,350.55 265.74,350.69 266.00,350.85 266.26,351.02 266.51,351.19 266.77,351.38 267.03,351.57 267.29,351.76 267.55,351.97 267.81,352.17 268.06,352.37 268.32,352.58 268.58,352.78 268.84,352.98 269.10,353.18 269.36,353.40 269.62,353.62 269.87,353.86 270.13,354.11 270.39,354.37 270.65,354.64 270.91,354.92 271.17,355.21 271.42,355.51 271.68,355.82 271.94,356.14 272.20,356.46 272.46,356.80 272.72,357.14 272.97,357.49 273.23,357.84 273.49,358.20 273.75,358.57 274.01,358.94 274.27,359.35 274.52,359.83 274.78,360.38 275.04,360.97 275.30,361.60 275.56,362.24 275.82,362.88 276.07,363.51 276.33,364.10 276.59,364.65 276.85,365.13 277.11,365.52 277.37,365.83 277.63,366.02 277.88,366.09 278.14,366.15 278.40,366.20 278.66,366.25 278.92,366.30 279.18,366.34 279.43,366.38 279.69,366.42 279.95,366.45 280.21,366.48 280.47,366.51 280.73,366.53 280.98,366.54 281.24,366.55 281.50,366.56 281.76,366.57 282.02,366.55 282.28,366.48 282.53,366.35 282.79,366.18 283.05,365.96 283.31,365.72 283.57,365.45 283.83,365.17 284.08,364.85 284.34,364.30 284.60,363.59 284.86,362.77 285.12,361.90 285.38,361.05 285.64,360.27 285.89,359.64 286.15,359.20 286.41,359.04 286.67,359.08 286.93,359.22 287.19,359.44 287.44,359.72 287.70,360.06 287.96,360.44 288.22,360.85 288.48,361.28 288.74,361.70 288.99,362.12 289.25,362.52 289.51,362.89 289.77,363.22 290.03,363.57 290.29,363.96 290.54,364.37 290.80,364.79 291.06,365.20 291.32,365.60 291.58,365.97 291.84,366.31 292.09,366.60 292.35,366.82 292.61,366.98 292.87,367.06 293.13,367.01 293.39,366.72 293.64,366.23 293.90,365.58 294.16,364.83 294.42,364.04 294.68,363.25 294.94,362.50 295.20,361.86 295.45,361.38 295.71,361.09 295.97,361.05 296.23,361.09 296.49,361.16 296.75,361.28 297.00,361.41 297.26,361.57 297.52,361.75 297.78,361.93 298.04,362.12 298.30,362.30 298.55,362.48 298.81,362.64 299.07,362.79 299.33,362.90 299.59,362.99 299.85,363.04 300.10,363.05 300.36,363.03 300.62,362.99 300.88,362.92 301.14,362.83 301.40,362.72 301.65,362.60 301.91,362.46 302.17,362.30 302.43,362.13 302.69,361.94 302.95,361.74 303.21,361.54 303.46,361.32 303.72,361.10 303.98,360.87 304.24,360.64 304.50,360.41 304.76,360.17 305.01,359.91 305.27,359.52 305.53,359.05 305.79,358.58 306.05,358.21 306.31,358.04 306.56,358.06 306.82,358.18 307.08,358.34 307.34,358.54 307.60,358.73 307.86,358.89 308.11,359.00 308.37,359.04 308.63,359.04 308.89,359.04 309.15,359.04 309.41,359.04 309.66,359.04 309.92,359.04 310.18,359.04 310.44,359.02 310.70,358.02 310.96,355.88 311.22,353.08 311.47,350.11 311.73,347.45 311.99,345.58 312.25,344.99 312.51,345.36 312.77,346.23 313.02,347.46 313.28,348.92 313.54,350.47 313.80,351.99 314.06,353.33 314.32,354.35 314.57,354.94 314.83,354.86 315.09,353.73 315.35,351.91 315.61,349.86 315.87,346.73 316.12,342.26 316.38,337.32 316.64,332.75 316.90,329.43 317.16,328.21 317.42,328.81 317.67,330.36 317.93,332.65 318.19,335.47 318.45,338.61 318.71,341.86 318.97,345.02 319.23,348.86 319.48,353.73 319.74,358.80 320.00,363.29 320.26,366.39 320.52,367.73 320.78,368.76 321.03,369.67 321.29,370.47 321.55,371.16 321.81,371.74 322.07,372.22 322.33,372.60 322.58,372.89 322.84,373.08 323.10,373.23 323.36,373.37 323.62,373.50 323.88,373.61 324.13,373.72 324.39,373.82 324.65,373.90 324.91,373.97 325.17,374.02 325.43,374.06 325.68,374.09 325.94,374.10 326.20,374.10 326.46,374.09 326.72,374.09 326.98,374.08 327.24,374.07 327.49,374.06 327.75,374.05 328.01,374.03 328.27,374.01 328.53,374.00 328.79,373.98 329.04,373.96 329.30,373.93 329.56,373.91 329.82,373.88 330.08,373.86 330.34,373.83 330.59,373.80 330.85,373.77 331.11,373.74 331.37,373.71 331.63,373.68 331.89,373.65 332.14,373.62 332.40,373.59 332.66,373.55 332.92,373.52 333.18,373.49 333.44,373.45 333.69,373.42 333.95,373.39 334.21,373.35 334.47,373.32 334.73,373.29 334.99,373.25 335.25,373.22 335.50,373.19 335.76,373.16 336.02,373.13 336.28,373.10 336.54,373.07 336.80,373.04 337.05,373.00 337.31,372.97 337.57,372.93 337.83,372.89 338.09,372.85 338.35,372.81 338.60,372.76 338.86,372.72 339.12,372.67 339.38,372.63 339.64,372.58 339.90,372.54 340.15,372.50 340.41,372.45 340.67,372.41 340.93,372.37 341.19,372.33 341.45,372.30 341.70,372.26 341.96,372.23 342.22,372.20 342.48,372.17 342.74,372.15 343.00,372.13 343.26,372.11 343.51,372.10 343.77,372.09 344.03,372.09 344.29,372.09 344.55,372.09 344.81,372.10 345.06,372.11 345.32,372.12 345.58,372.13 345.84,372.15 346.10,372.17 346.36,372.19 346.61,372.21 346.87,372.23 347.13,372.25 347.39,372.28 347.65,372.30 347.91,372.33 348.16,372.35 348.42,372.38 348.68,372.40 348.94,372.43 349.20,372.45 349.46,372.47 349.71,372.49 349.97,372.51 350.23,372.53 350.49,372.55 350.75,372.56 351.01,372.57 351.27,372.58 351.52,372.59 351.78,372.59 352.04,372.59 352.30,372.59 352.56,372.58 352.82,372.58 353.07,372.57 353.33,372.56 353.59,372.55 353.85,372.54 354.11,372.53 354.37,372.51 354.62,372.49 354.88,372.47 355.14,372.46 355.40,372.43 355.66,372.41 355.92,372.39 356.17,372.36 356.43,372.34 356.69,372.31 356.95,372.28 357.21,372.26 357.47,372.23 357.72,372.20 357.98,372.17 358.24,372.13 358.50,372.10 358.76,372.07 359.02,372.04 359.28,372.00 359.53,371.97 359.79,371.93 360.05,371.90 360.31,371.86 360.57,371.83 360.83,371.79 361.08,371.76 361.34,371.72 361.60,371.68 361.86,371.65 362.12,371.61 362.38,371.58 362.63,371.54 362.89,371.50 363.15,371.46 363.41,371.43 363.67,371.39 363.93,371.34 364.18,371.30 364.44,371.26 364.70,371.22 364.96,371.17 365.22,371.12 365.48,371.08 365.73,371.03 365.99,370.98 366.25,370.93 366.51,370.87 366.77,370.82 367.03,370.76 367.29,370.71 367.54,370.65 367.80,370.59 368.06,370.52 368.32,370.46 368.58,370.39 368.84,370.33 369.09,370.26 369.35,370.19 369.61,370.11 369.87,370.04 370.13,369.96 370.39,369.88 370.64,369.80 370.90,369.71 371.16,369.63 371.42,369.54 371.68,369.45 371.94,369.36 372.19,369.26 372.45,369.16 372.71,369.06 372.97,368.96 373.23,368.84 373.49,368.70 373.74,368.56 374.00,368.41 374.26,368.24 374.52,368.07 374.78,367.89 375.04,367.69 375.30,367.49 375.55,367.28 375.81,367.06 376.07,366.84 376.33,366.60 376.59,366.36 376.85,366.11 377.10,365.86 377.36,365.59 377.62,365.32 377.88,365.05 378.14,364.71 378.40,364.27 378.65,363.77 378.91,363.24 379.17,362.70 379.43,362.19 379.69,361.73 379.95,361.37 380.20,361.13 380.46,361.04 380.72,361.12 380.98,361.30 381.24,361.54 381.50,361.78 381.75,361.97 382.01,362.05 382.27,361.89 382.53,361.44 382.79,360.81 383.05,360.08 383.31,359.34 383.56,358.69 383.82,358.23 384.08,358.03 384.34,358.11 384.60,358.32 384.86,358.64 385.11,359.00 385.37,359.37 385.63,359.70 385.89,359.94 386.15,360.04 386.41,359.91 386.66,359.48 386.92,358.83 387.18,358.00 387.44,357.05 387.70,356.05 387.96,355.06 388.21,354.14 388.47,353.27 388.73,352.38 388.99,351.48 389.25,350.54 389.51,349.59 389.76,348.62 390.02,347.63 390.28,346.61 390.54,345.58 390.80,344.53 391.06,343.47 391.31,342.38 391.57,341.28 391.83,340.17 392.09,339.04 392.35,337.90 392.61,336.74 392.87,335.57 393.12,334.39 393.38,333.20 393.64,331.98 393.90,330.67 394.16,329.29 394.42,327.86 394.67,326.37 394.93,324.84 395.19,323.28 395.45,321.71 395.71,320.12 395.97,318.54 396.22,316.97 396.48,315.42 396.74,313.90 397.00,312.43 397.26,311.02 397.52,309.66 397.77,308.38 398.03,307.19 398.29,306.09 398.55,305.10 398.81,304.20 399.07,303.28 399.32,302.35 399.58,301.42 399.84,300.50 400.10,299.59 400.36,298.71 400.62,297.86 400.88,297.04 401.13,296.27 401.39,295.56 401.65,294.91 401.91,294.33 402.17,293.83 402.43,293.42 402.68,293.10 402.94,292.89 403.20,292.78 403.46,292.78 403.72,292.81 403.98,292.86 404.23,292.94 404.49,293.04 404.75,293.15 405.01,293.29 405.27,293.45 405.53,293.62 405.78,293.81 406.04,294.01 406.30,294.22 406.56,294.44 406.82,294.67 407.08,294.93 407.33,295.29 407.59,295.77 407.85,296.35 408.11,297.02 408.37,297.77 408.63,298.60 408.89,299.50 409.14,300.45 409.40,301.46 409.66,302.51 409.92,303.59 410.18,304.69 410.44,305.81 410.69,306.94 410.95,308.07 411.21,309.18 411.47,310.28 411.73,311.36 411.99,312.48 412.24,313.66 412.50,314.89 412.76,316.16 413.02,317.47 413.28,318.82 413.54,320.19 413.79,321.59 414.05,323.01 414.31,324.44 414.57,325.88 414.83,327.33 415.09,328.77 415.34,330.21 415.60,331.64 415.86,333.05 416.12,334.45 416.38,335.81 416.64,337.15 416.90,338.46 417.15,339.78 417.41,341.13 417.67,342.50 417.93,343.88 418.19,345.26 418.45,346.65 418.70,348.04 418.96,349.42 419.22,350.78 419.48,352.13 419.74,353.45 420.00,354.74 420.25,355.99 420.51,357.20 420.77,358.37 421.03,359.48 421.29,360.54 421.55,361.53 421.80,362.45 422.06,363.30 422.32,364.14 422.58,364.98 422.84,365.80 423.10,366.61 423.35,367.40 423.61,368.15 423.87,368.86 424.13,369.53 424.39,370.14 424.65,370.69 424.91,371.18 425.16,371.58 425.42,371.90 425.68,372.14 425.94,372.34 426.20,372.52 426.46,372.70 426.71,372.86 426.97,373.01 427.23,373.14 427.49,373.26 427.75,373.36 428.01,373.45 428.26,373.52 428.52,373.57 428.78,373.60 429.04,373.62 429.30,373.65 429.56,373.67 429.81,373.69 430.07,373.71 430.33,373.73 430.59,373.75 430.85,373.77 431.11,373.79 431.36,373.81 431.62,373.83 431.88,373.85 432.14,373.86 432.40,373.88 432.66,373.89 432.92,373.91 433.17,373.92 433.43,373.94 433.69,373.95 433.95,373.96 434.21,373.97 434.47,373.98 434.72,373.99 434.98,374.00 435.24,374.01 435.50,374.02 435.76,374.03 436.02,374.04 436.27,374.05 436.53,374.05 436.79,374.06 437.05,374.06 437.31,374.07 437.57,374.07 437.82,374.08 438.08,374.08 438.34,374.09 438.60,374.09 438.86,374.09 439.12,374.09 439.37,374.09 439.63,374.10 439.89,374.10 440.15,374.10" fill="none" stroke="#ff2020" stroke-width="1.15" stroke-linejoin="round"/>
<polyline points="259.54,375.10 259.54,348.19 259.80,348.19 260.05,348.20 260.31,348.21 260.57,348.22 260.83,348.23 261.09,348.24 261.35,348.26 261.61,348.28 261.86,348.30 262.12,348.33 262.38,348.35 262.64,348.38 262.90,348.41 263.16,348.44 263.41,348.47 263.67,348.51 263.93,348.56 264.19,348.63 264.45,348.72 264.71,348.82 264.96,348.95 265.22,349.08 265.48,349.23 265.74,349.40 266.00,349.58 266.26,349.76 266.51,349.96 266.77,350.17 267.03,350.38 267.29,350.60 267.55,350.82 267.81,351.05 268.06,351.28 268.32,351.51 268.58,351.74 268.84,351.97 269.10,352.21 269.36,352.46 269.62,352.73 269.87,353.02 270.13,353.32 270.39,353.64 270.65,353.97 270.91,354.31 271.17,354.66 271.42,355.02 271.68,355.39 271.94,355.76 272.20,356.15 272.46,356.54 272.72,356.93 272.97,357.33 273.23,357.73 273.49,358.13 273.75,358.54 274.01,358.94 274.27,359.36 274.52,359.85 274.78,360.39 275.04,360.96 275.30,361.56 275.56,362.16 275.82,362.76 276.07,363.34 276.33,363.89 276.59,364.39 276.85,364.82 277.11,365.18 277.37,365.46 277.63,365.62 277.88,365.69 278.14,365.73 278.40,365.78 278.66,365.82 278.92,365.85 279.18,365.89 279.43,365.92 279.69,365.95 279.95,365.97 280.21,366.00 280.47,366.02 280.73,366.03 280.98,366.04 281.24,366.05 281.50,366.06 281.76,366.06 282.02,366.04 282.28,365.90 282.53,365.67 282.79,365.36 283.05,365.00 283.31,364.61 283.57,364.21 283.83,363.78 284.08,363.18 284.34,362.43 284.60,361.58 284.86,360.68 285.12,359.78 285.38,358.93 285.64,358.18 285.89,357.58 286.15,357.18 286.41,357.03 286.67,357.09 286.93,357.27 287.19,357.55 287.44,357.92 287.70,358.36 287.96,358.85 288.22,359.37 288.48,359.91 288.74,360.44 288.99,360.96 289.25,361.44 289.51,361.86 289.77,362.23 290.03,362.61 290.29,363.02 290.54,363.43 290.80,363.85 291.06,364.26 291.32,364.65 291.58,365.01 291.84,365.34 292.09,365.61 292.35,365.83 292.61,365.98 292.87,366.06 293.13,366.00 293.39,365.69 293.64,365.15 293.90,364.45 294.16,363.64 294.42,362.78 294.68,361.92 294.94,361.12 295.20,360.42 295.45,359.90 295.71,359.59 295.97,359.54 296.23,359.57 296.49,359.63 296.75,359.71 297.00,359.81 297.26,359.93 297.52,360.06 297.78,360.20 298.04,360.34 298.30,360.48 298.55,360.61 298.81,360.74 299.07,360.84 299.33,360.93 299.59,361.00 299.85,361.04 300.10,361.04 300.36,361.01 300.62,360.95 300.88,360.85 301.14,360.72 301.40,360.57 301.65,360.39 301.91,360.18 302.17,359.96 302.43,359.72 302.69,359.47 302.95,359.20 303.21,358.92 303.46,358.64 303.72,358.35 303.98,358.06 304.24,357.76 304.50,357.47 304.76,357.18 305.01,356.89 305.27,356.47 305.53,356.00 305.79,355.55 306.05,355.19 306.31,355.02 306.56,355.05 306.82,355.16 307.08,355.33 307.34,355.52 307.60,355.72 307.86,355.88 308.11,355.99 308.37,356.02 308.63,356.02 308.89,356.02 309.15,356.02 309.41,356.02 309.66,356.02 309.92,356.02 310.18,356.02 310.44,356.00 310.70,354.76 310.96,352.08 311.22,348.58 311.47,344.87 311.73,341.54 311.99,339.20 312.25,338.46 312.51,338.98 312.77,340.20 313.02,341.93 313.28,343.97 313.54,346.15 313.80,348.26 314.06,350.14 314.32,351.58 314.57,352.39 314.83,352.34 315.09,351.10 315.35,349.09 315.61,346.83 315.87,343.33 316.12,338.29 316.38,332.70 316.64,327.53 316.90,323.77 317.16,322.39 317.42,323.15 317.67,325.09 317.93,327.96 318.19,331.46 318.45,335.33 318.71,339.27 318.97,343.02 319.23,347.38 319.48,352.75 319.74,358.26 320.00,363.08 320.26,366.36 320.52,367.74 320.78,368.78 321.03,369.69 321.29,370.49 321.55,371.18 321.81,371.75 322.07,372.23 322.33,372.60 322.58,372.89 322.84,373.08 323.10,373.23 323.36,373.37 323.62,373.50 323.88,373.61 324.13,373.72 324.39,373.82 324.65,373.90 324.91,373.97 325.17,374.02 325.43,374.06 325.68,374.09 325.94,374.10 326.20,374.09 326.46,374.09 326.72,374.08 326.98,374.08 327.24,374.07 327.49,374.05 327.75,374.04 328.01,374.02 328.27,374.00 328.53,373.98 328.79,373.96 329.04,373.93 329.30,373.91 329.56,373.88 329.82,373.85 330.08,373.82 330.34,373.79 330.59,373.76 330.85,373.73 331.11,373.70 331.37,373.67 331.63,373.63 331.89,373.60 332.14,373.57 332.40,373.53 332.66,373.50 332.92,373.47 333.18,373.43 333.44,373.40 333.69,373.37 333.95,373.34 334.21,373.31 334.47,373.28 334.73,373.25 334.99,373.22 335.25,373.19 335.50,373.17 335.76,373.14 336.02,373.12 336.28,373.10 336.54,373.08 336.80,373.06 337.05,373.04 337.31,373.01 337.57,372.99 337.83,372.97 338.09,372.95 338.35,372.93 338.60,372.90 338.86,372.88 339.12,372.86 339.38,372.84 339.64,372.81 339.90,372.79 340.15,372.77 340.41,372.75 340.67,372.73 340.93,372.72 341.19,372.70 341.45,372.68 341.70,372.67 341.96,372.65 342.22,372.64 342.48,372.63 342.74,372.62 343.00,372.61 343.26,372.60 343.51,372.60 343.77,372.59 344.03,372.59 344.29,372.59 344.55,372.59 344.81,372.60 345.06,372.61 345.32,372.62 345.58,372.64 345.84,372.65 346.10,372.67 346.36,372.69 346.61,372.71 346.87,372.73 347.13,372.76 347.39,372.78 347.65,372.80 347.91,372.83 348.16,372.85 348.42,372.88 348.68,372.90 348.94,372.93 349.20,372.95 349.46,372.97 349.71,372.99 349.97,373.01 350.23,373.03 350.49,373.05 350.75,373.06 351.01,373.07 351.27,373.08 351.52,373.09 351.78,373.09 352.04,373.09 352.30,373.09 352.56,373.08 352.82,373.07 353.07,373.06 353.33,373.05 353.59,373.03 353.85,373.01 354.11,372.99 354.37,372.96 354.62,372.93 354.88,372.90 355.14,372.87 355.40,372.84 355.66,372.80 355.92,372.77 356.17,372.73 356.43,372.69 356.69,372.64 356.95,372.60 357.21,372.56 357.47,372.51 357.72,372.47 357.98,372.42 358.24,372.37 358.50,372.32 358.76,372.27 359.02,372.22 359.28,372.17 359.53,372.12 359.79,372.07 360.05,372.02 360.31,371.97 360.57,371.92 360.83,371.87 361.08,371.82 361.34,371.77 361.60,371.72 361.86,371.67 362.12,371.62 362.38,371.57 362.63,371.53 362.89,371.48 363.15,371.43 363.41,371.39 363.67,371.34 363.93,371.29 364.18,371.25 364.44,371.20 364.70,371.15 364.96,371.11 365.22,371.06 365.48,371.01 365.73,370.96 365.99,370.91 366.25,370.86 366.51,370.81 366.77,370.76 367.03,370.70 367.29,370.65 367.54,370.59 367.80,370.53 368.06,370.47 368.32,370.41 368.58,370.35 368.84,370.29 369.09,370.22 369.35,370.15 369.61,370.08 369.87,370.01 370.13,369.94 370.39,369.86 370.64,369.78 370.90,369.70 371.16,369.62 371.42,369.53 371.68,369.45 371.94,369.35 372.19,369.26 372.45,369.16 372.71,369.06 372.97,368.96 373.23,368.85 373.49,368.73 373.74,368.61 374.00,368.47 374.26,368.33 374.52,368.18 374.78,368.02 375.04,367.84 375.30,367.66 375.55,367.46 375.81,367.26 376.07,367.03 376.33,366.80 376.59,366.55 376.85,366.28 377.10,366.00 377.36,365.70 377.62,365.38 377.88,365.05 378.14,364.54 378.40,363.76 378.65,362.80 378.91,361.72 379.17,360.60 379.43,359.52 379.69,358.54 379.95,357.75 380.20,357.22 380.46,357.03 380.72,357.17 380.98,357.54 381.24,358.02 381.50,358.50 381.75,358.88 382.01,359.04 382.27,358.76 382.53,357.98 382.79,356.87 383.05,355.59 383.31,354.30 383.56,353.17 383.82,352.35 384.08,352.01 384.34,352.12 384.60,352.45 384.86,352.92 385.11,353.47 385.37,354.02 385.63,354.51 385.89,354.87 386.15,355.02 386.41,355.00 386.66,354.95 386.92,354.86 387.18,354.73 387.44,354.59 387.70,354.42 387.96,354.24 388.21,354.04 388.47,353.80 388.73,353.42 388.99,352.94 389.25,352.34 389.51,351.64 389.76,350.86 390.02,349.99 390.28,349.04 390.54,348.04 390.80,346.98 391.06,345.87 391.31,344.72 391.57,343.54 391.83,342.34 392.09,341.13 392.35,339.91 392.61,338.70 392.87,337.51 393.12,336.33 393.38,335.19 393.64,334.05 393.90,332.82 394.16,331.51 394.42,330.13 394.67,328.70 394.93,327.22 395.19,325.72 395.45,324.18 395.71,322.64 395.97,321.10 396.22,319.56 396.48,318.05 396.74,316.57 397.00,315.14 397.26,313.76 397.52,312.45 397.77,311.22 398.03,310.08 398.29,309.03 398.55,308.10 398.81,307.25 399.07,306.40 399.32,305.54 399.58,304.69 399.84,303.84 400.10,303.01 400.36,302.20 400.62,301.42 400.88,300.67 401.13,299.97 401.39,299.32 401.65,298.73 401.91,298.20 402.17,297.75 402.43,297.38 402.68,297.09 402.94,296.89 403.20,296.80 403.46,296.79 403.72,296.82 403.98,296.88 404.23,296.95 404.49,297.05 404.75,297.17 405.01,297.31 405.27,297.47 405.53,297.64 405.78,297.83 406.04,298.03 406.30,298.24 406.56,298.46 406.82,298.69 407.08,298.94 407.33,299.29 407.59,299.74 407.85,300.29 408.11,300.92 408.37,301.62 408.63,302.40 408.89,303.23 409.14,304.12 409.40,305.06 409.66,306.04 409.92,307.05 410.18,308.08 410.44,309.13 410.69,310.18 410.95,311.24 411.21,312.29 411.47,313.32 411.73,314.34 411.99,315.41 412.24,316.54 412.50,317.71 412.76,318.93 413.02,320.19 413.28,321.49 413.54,322.81 413.79,324.16 414.05,325.53 414.31,326.91 414.57,328.31 414.83,329.70 415.09,331.10 415.34,332.49 415.60,333.87 415.86,335.24 416.12,336.58 416.38,337.90 416.64,339.19 416.90,340.45 417.15,341.72 417.41,343.02 417.67,344.35 417.93,345.68 418.19,347.03 418.45,348.38 418.70,349.72 418.96,351.06 419.22,352.38 419.48,353.68 419.74,354.96 420.00,356.20 420.25,357.41 420.51,358.57 420.77,359.68 421.03,360.73 421.29,361.73 421.55,362.65 421.80,363.51 422.06,364.28 422.32,365.04 422.58,365.79 422.84,366.52 423.10,367.24 423.35,367.93 423.61,368.59 423.87,369.22 424.13,369.80 424.39,370.34 424.65,370.82 424.91,371.25 425.16,371.62 425.42,371.91 425.68,372.14 425.94,372.33 426.20,372.52 426.46,372.69 426.71,372.85 426.97,373.00 427.23,373.14 427.49,373.26 427.75,373.36 428.01,373.45 428.26,373.52 428.52,373.57 428.78,373.60 429.04,373.62 429.30,373.65 429.56,373.67 429.81,373.69 430.07,373.71 430.33,373.73 430.59,373.75 430.85,373.77 431.11,373.79 431.36,373.81 431.62,373.83 431.88,373.85 432.14,373.86 432.40,373.88 432.66,373.89 432.92,373.91 433.17,373.92 433.43,373.94 433.69,373.95 433.95,373.96 434.21,373.97 434.47,373.98 434.72,373.99 434.98,374.00 435.24,374.01 435.50,374.02 435.76,374.03 436.02,374.04 436.27,374.05 436.53,374.05 436.79,374.06 437.05,374.06 437.31,374.07 437.57,374.07 437.82,374.08 438.08,374.08 438.34,374.09 438.60,374.09 438.86,374.09 439.12,374.09 439.37,374.09 439.63,374.10 439.89,374.10 440.15,374.10" fill="none" stroke="#2020ff" stroke-width="1.15" stroke-linejoin="round"/>
<rect x="252.60" y="224.60" width="188.10" height="150.60" fill="none" stroke="#1a1a1a" stroke-width="1.4" />
<line x1="249.60" y1="375.10" x2="252.60" y2="375.10" stroke="#222" stroke-width="0.9" />
<text x="248.30" y="377.10" font-size="5.5" font-weight="bold" font-style="normal" text-anchor="end" fill="#333"  textLength="6.90" lengthAdjust="spacingAndGlyphs" stroke="#333" stroke-width="0.2">0.0</text>
<line x1="250.90" y1="365.06" x2="252.60" y2="365.06" stroke="#222" stroke-width="0.9" />
<line x1="249.60" y1="355.02" x2="252.60" y2="355.02" stroke="#222" stroke-width="0.9" />
<text x="248.30" y="357.02" font-size="5.5" font-weight="bold" font-style="normal" text-anchor="end" fill="#333"  textLength="6.90" lengthAdjust="spacingAndGlyphs" stroke="#333" stroke-width="0.2">0.2</text>
<line x1="250.90" y1="344.98" x2="252.60" y2="344.98" stroke="#222" stroke-width="0.9" />
<line x1="249.60" y1="334.94" x2="252.60" y2="334.94" stroke="#222" stroke-width="0.9" />
<text x="248.30" y="336.94" font-size="5.5" font-weight="bold" font-style="normal" text-anchor="end" fill="#333"  textLength="6.90" lengthAdjust="spacingAndGlyphs" stroke="#333" stroke-width="0.2">0.4</text>
<line x1="250.90" y1="324.90" x2="252.60" y2="324.90" stroke="#222" stroke-width="0.9" />
<line x1="249.60" y1="314.86" x2="252.60" y2="314.86" stroke="#222" stroke-width="0.9" />
<text x="248.30" y="316.86" font-size="5.5" font-weight="bold" font-style="normal" text-anchor="end" fill="#333"  textLength="6.90" lengthAdjust="spacingAndGlyphs" stroke="#333" stroke-width="0.2">0.6</text>
<line x1="250.90" y1="304.82" x2="252.60" y2="304.82" stroke="#222" stroke-width="0.9" />
<line x1="249.60" y1="294.78" x2="252.60" y2="294.78" stroke="#222" stroke-width="0.9" />
<text x="248.30" y="296.78" font-size="5.5" font-weight="bold" font-style="normal" text-anchor="end" fill="#333"  textLength="6.90" lengthAdjust="spacingAndGlyphs" stroke="#333" stroke-width="0.2">0.8</text>
<line x1="250.90" y1="284.74" x2="252.60" y2="284.74" stroke="#222" stroke-width="0.9" />
<line x1="249.60" y1="274.70" x2="252.60" y2="274.70" stroke="#222" stroke-width="0.9" />
<text x="248.30" y="276.70" font-size="5.5" font-weight="bold" font-style="normal" text-anchor="end" fill="#333"  textLength="6.90" lengthAdjust="spacingAndGlyphs" stroke="#333" stroke-width="0.2">1.0</text>
<line x1="250.90" y1="264.66" x2="252.60" y2="264.66" stroke="#222" stroke-width="0.9" />
<line x1="249.60" y1="254.62" x2="252.60" y2="254.62" stroke="#222" stroke-width="0.9" />
<text x="248.30" y="256.62" font-size="5.5" font-weight="bold" font-style="normal" text-anchor="end" fill="#333"  textLength="6.90" lengthAdjust="spacingAndGlyphs" stroke="#333" stroke-width="0.2">1.2</text>
<line x1="250.90" y1="244.58" x2="252.60" y2="244.58" stroke="#222" stroke-width="0.9" />
<line x1="249.60" y1="234.54" x2="252.60" y2="234.54" stroke="#222" stroke-width="0.9" />
<text x="248.30" y="236.54" font-size="5.5" font-weight="bold" font-style="normal" text-anchor="end" fill="#333"  textLength="6.90" lengthAdjust="spacingAndGlyphs" stroke="#333" stroke-width="0.2">1.4</text>
<line x1="258.50" y1="375.20" x2="258.50" y2="378.00" stroke="#222" stroke-width="0.9" />
<text x="258.50" y="385.00" font-size="5.5" font-weight="bold" font-style="normal" text-anchor="middle" fill="#333"  textLength="8.30" lengthAdjust="spacingAndGlyphs" stroke="#333" stroke-width="0.2">500</text>
<line x1="271.48" y1="375.20" x2="271.48" y2="376.80" stroke="#222" stroke-width="0.9" />
<line x1="284.45" y1="375.20" x2="284.45" y2="378.00" stroke="#222" stroke-width="0.9" />
<text x="284.45" y="385.00" font-size="5.5" font-weight="bold" font-style="normal" text-anchor="middle" fill="#333"  textLength="11.00" lengthAdjust="spacingAndGlyphs" stroke="#333" stroke-width="0.2">1000</text>
<line x1="297.43" y1="375.20" x2="297.43" y2="376.80" stroke="#222" stroke-width="0.9" />
<line x1="310.40" y1="375.20" x2="310.40" y2="378.00" stroke="#222" stroke-width="0.9" />
<text x="310.40" y="385.00" font-size="5.5" font-weight="bold" font-style="normal" text-anchor="middle" fill="#333"  textLength="11.00" lengthAdjust="spacingAndGlyphs" stroke="#333" stroke-width="0.2">1500</text>
<line x1="323.38" y1="375.20" x2="323.38" y2="376.80" stroke="#222" stroke-width="0.9" />
<line x1="336.35" y1="375.20" x2="336.35" y2="378.00" stroke="#222" stroke-width="0.9" />
<text x="336.35" y="385.00" font-size="5.5" font-weight="bold" font-style="normal" text-anchor="middle" fill="#333"  textLength="11.00" lengthAdjust="spacingAndGlyphs" stroke="#333" stroke-width="0.2">2000</text>
<line x1="349.32" y1="375.20" x2="349.32" y2="376.80" stroke="#222" stroke-width="0.9" />
<line x1="362.30" y1="375.20" x2="362.30" y2="378.00" stroke="#222" stroke-width="0.9" />
<text x="362.30" y="385.00" font-size="5.5" font-weight="bold" font-style="normal" text-anchor="middle" fill="#333"  textLength="11.00" lengthAdjust="spacingAndGlyphs" stroke="#333" stroke-width="0.2">2500</text>
<line x1="375.27" y1="375.20" x2="375.27" y2="376.80" stroke="#222" stroke-width="0.9" />
<line x1="388.25" y1="375.20" x2="388.25" y2="378.00" stroke="#222" stroke-width="0.9" />
<text x="388.25" y="385.00" font-size="5.5" font-weight="bold" font-style="normal" text-anchor="middle" fill="#333"  textLength="11.00" lengthAdjust="spacingAndGlyphs" stroke="#333" stroke-width="0.2">3000</text>
<line x1="401.23" y1="375.20" x2="401.23" y2="376.80" stroke="#222" stroke-width="0.9" />
<line x1="414.20" y1="375.20" x2="414.20" y2="378.00" stroke="#222" stroke-width="0.9" />
<text x="414.20" y="385.00" font-size="5.5" font-weight="bold" font-style="normal" text-anchor="middle" fill="#333"  textLength="11.00" lengthAdjust="spacingAndGlyphs" stroke="#333" stroke-width="0.2">3500</text>
<line x1="427.18" y1="375.20" x2="427.18" y2="376.80" stroke="#222" stroke-width="0.9" />
<line x1="440.15" y1="375.20" x2="440.15" y2="378.00" stroke="#222" stroke-width="0.9" />
<text x="440.15" y="385.00" font-size="5.5" font-weight="bold" font-style="normal" text-anchor="middle" fill="#333"  textLength="11.00" lengthAdjust="spacingAndGlyphs" stroke="#333" stroke-width="0.2">4000</text>
<text x="313.80" y="396.80" font-size="7.2" font-weight="bold" font-style="normal" text-anchor="start" fill="#111"  textLength="65.70" lengthAdjust="spacingAndGlyphs" stroke="#111" stroke-width="0.2">Wavenumbers (cm-1)</text>
<text transform="translate(232.20,302.00) rotate(-90)" font-size="6.8" font-weight="bold" text-anchor="middle" fill="#111" textLength="56.00" lengthAdjust="spacingAndGlyphs" stroke="#111" stroke-width="0.2">Absorbence (A.U)</text>
<text x="225.90" y="244.20" font-size="9.4" font-weight="bold" font-style="normal" text-anchor="start" fill="#111"  textLength="11.60" lengthAdjust="spacingAndGlyphs" stroke="#111" stroke-width="0.2">A4</text>
<text x="256.20" y="236.8" font-size="7.2" font-weight="bold" fill="#2e962e" textLength="80.00" lengthAdjust="spacingAndGlyphs" stroke="#2e962e" stroke-width="0.2"><tspan font-style="italic">S. carpocapsae</tspan> at 85% RH</text>
<line x1="336.20" y1="233.90" x2="352.60" y2="233.90" stroke="#333" stroke-width="1.4" />
<text x="353.30" y="236.80" font-size="6.9" font-weight="bold" font-style="normal" text-anchor="start" fill="#111"  textLength="16.20" lengthAdjust="spacingAndGlyphs" stroke="#111" stroke-width="0.2">0 Hrs</text>
<line x1="371.20" y1="233.90" x2="386.40" y2="233.90" stroke="#ff3b3b" stroke-width="1.4" />
<text x="387.60" y="236.80" font-size="6.9" font-weight="bold" font-style="normal" text-anchor="start" fill="#111"  textLength="16.20" lengthAdjust="spacingAndGlyphs" stroke="#111" stroke-width="0.2">2 Hrs</text>
<line x1="404.00" y1="233.90" x2="420.30" y2="233.90" stroke="#3b3bff" stroke-width="1.4" />
<text x="421.00" y="236.80" font-size="6.9" font-weight="bold" font-style="normal" text-anchor="start" fill="#111"  textLength="16.20" lengthAdjust="spacingAndGlyphs" stroke="#111" stroke-width="0.2">4 Hrs</text>
<text transform="translate(292.80,347.79) scale(1.0,1)" font-size="8.2" font-weight="bold" text-anchor="middle" fill="#111" stroke="#111" stroke-width="0.2">1</text>
<text transform="translate(305.80,347.79) scale(1.0,1)" font-size="8.2" font-weight="bold" text-anchor="middle" fill="#111" stroke="#111" stroke-width="0.2">2</text>
<text transform="translate(314.50,312.49) scale(1.0,1)" font-size="8.2" font-weight="bold" text-anchor="middle" fill="#111" stroke="#111" stroke-width="0.2">3</text>
<text transform="translate(383.00,346.59) scale(1.0,1)" font-size="8.2" font-weight="bold" text-anchor="middle" fill="#111" stroke="#111" stroke-width="0.2">4</text>
<text transform="translate(403.60,281.19) scale(1.0,1)" font-size="8.2" font-weight="bold" text-anchor="middle" fill="#111" stroke="#111" stroke-width="0.2">5</text>
<path d="M413.50,270.60 C414.20,274.12 417.85,276.52 417.85,280.19 C417.85,283.01 415.85,284.70 413.50,284.70 C411.15,284.70 409.15,283.01 409.15,280.19 C409.15,276.52 412.80,274.12 413.50,270.60 Z" fill="#f6f9fb" stroke="#a6c0d0" stroke-width="0.85"/>
<rect x="330.20" y="241.20" width="59.80" height="52.20" fill="#fff" stroke="#9a9a9a" stroke-width="0.6" />
<line x1="330.20" y1="241.20" x2="330.20" y2="293.40" stroke="#333" stroke-width="0.8" />
<line x1="330.20" y1="293.40" x2="390.00" y2="293.40" stroke="#333" stroke-width="0.8" />
<line x1="329.00" y1="293.40" x2="330.20" y2="293.40" stroke="#555" stroke-width="0.5" />
<text x="328.40" y="294.30" font-size="2.5" font-weight="bold" font-style="normal" text-anchor="end" fill="#555"  stroke="#555" stroke-width="0.2">0.0</text>
<line x1="329.00" y1="282.96" x2="330.20" y2="282.96" stroke="#555" stroke-width="0.5" />
<text x="328.40" y="283.86" font-size="2.5" font-weight="bold" font-style="normal" text-anchor="end" fill="#555"  stroke="#555" stroke-width="0.2">0.2</text>
<line x1="329.00" y1="272.52" x2="330.20" y2="272.52" stroke="#555" stroke-width="0.5" />
<text x="328.40" y="273.42" font-size="2.5" font-weight="bold" font-style="normal" text-anchor="end" fill="#555"  stroke="#555" stroke-width="0.2">0.4</text>
<line x1="329.00" y1="262.08" x2="330.20" y2="262.08" stroke="#555" stroke-width="0.5" />
<text x="328.40" y="262.98" font-size="2.5" font-weight="bold" font-style="normal" text-anchor="end" fill="#555"  stroke="#555" stroke-width="0.2">0.6</text>
<line x1="329.00" y1="251.64" x2="330.20" y2="251.64" stroke="#555" stroke-width="0.5" />
<text x="328.40" y="252.54" font-size="2.5" font-weight="bold" font-style="normal" text-anchor="end" fill="#555"  stroke="#555" stroke-width="0.2">0.8</text>
<line x1="329.00" y1="241.20" x2="330.20" y2="241.20" stroke="#555" stroke-width="0.5" />
<text x="328.40" y="242.10" font-size="2.5" font-weight="bold" font-style="normal" text-anchor="end" fill="#555"  stroke="#555" stroke-width="0.2">1.0</text>
<line x1="333.72" y1="293.40" x2="333.72" y2="294.40" stroke="#555" stroke-width="0.5" />
<text x="333.72" y="296.70" font-size="2.1" font-weight="bold" font-style="normal" text-anchor="middle" fill="#555"  stroke="#555" stroke-width="0.2">2800</text>
<line x1="340.75" y1="293.40" x2="340.75" y2="294.40" stroke="#555" stroke-width="0.5" />
<text x="340.75" y="296.70" font-size="2.1" font-weight="bold" font-style="normal" text-anchor="middle" fill="#555"  stroke="#555" stroke-width="0.2">2900</text>
<line x1="347.79" y1="293.40" x2="347.79" y2="294.40" stroke="#555" stroke-width="0.5" />
<text x="347.79" y="296.70" font-size="2.1" font-weight="bold" font-style="normal" text-anchor="middle" fill="#555"  stroke="#555" stroke-width="0.2">3000</text>
<line x1="354.82" y1="293.40" x2="354.82" y2="294.40" stroke="#555" stroke-width="0.5" />
<text x="354.82" y="296.70" font-size="2.1" font-weight="bold" font-style="normal" text-anchor="middle" fill="#555"  stroke="#555" stroke-width="0.2">3100</text>
<line x1="361.86" y1="293.40" x2="361.86" y2="294.40" stroke="#555" stroke-width="0.5" />
<text x="361.86" y="296.70" font-size="2.1" font-weight="bold" font-style="normal" text-anchor="middle" fill="#555"  stroke="#555" stroke-width="0.2">3200</text>
<line x1="368.89" y1="293.40" x2="368.89" y2="294.40" stroke="#555" stroke-width="0.5" />
<text x="368.89" y="296.70" font-size="2.1" font-weight="bold" font-style="normal" text-anchor="middle" fill="#555"  stroke="#555" stroke-width="0.2">3300</text>
<line x1="375.93" y1="293.40" x2="375.93" y2="294.40" stroke="#555" stroke-width="0.5" />
<text x="375.93" y="296.70" font-size="2.1" font-weight="bold" font-style="normal" text-anchor="middle" fill="#555"  stroke="#555" stroke-width="0.2">3400</text>
<line x1="382.96" y1="293.40" x2="382.96" y2="294.40" stroke="#555" stroke-width="0.5" />
<text x="382.96" y="296.70" font-size="2.1" font-weight="bold" font-style="normal" text-anchor="middle" fill="#555"  stroke="#555" stroke-width="0.2">3500</text>
<line x1="390.00" y1="293.40" x2="390.00" y2="294.40" stroke="#555" stroke-width="0.5" />
<text x="390.00" y="296.70" font-size="2.1" font-weight="bold" font-style="normal" text-anchor="middle" fill="#555"  stroke="#555" stroke-width="0.2">3600</text>
<text x="360.10" y="300.40" font-size="2.7" font-weight="bold" font-style="normal" text-anchor="middle" fill="#444"  stroke="#444" stroke-width="0.2">Wavelength (cm<tspan font-size="1.8" dy="-0.9">-1</tspan><tspan dy="0.9">)</tspan></text>
<text transform="translate(324.20,267.30) rotate(-90)" font-size="2.5" font-weight="bold" text-anchor="middle" fill="#666" stroke="#666" stroke-width="0.2">Absorbance (a.u)</text>
<polyline points="330.20,283.00 330.70,283.50 331.21,283.85 331.71,284.09 332.21,284.23 332.71,284.29 333.22,284.27 333.72,284.03 334.22,283.58 334.72,283.01 335.23,282.39 335.73,281.79 336.23,281.27 336.73,280.75 337.24,280.22 337.74,279.68 338.24,279.13 338.74,278.57 339.25,278.00 339.75,277.43 340.25,276.85 340.75,276.26 341.26,275.67 341.76,275.08 342.26,274.50 342.76,273.92 343.27,273.33 343.77,272.71 344.27,272.05 344.77,271.34 345.28,270.56 345.78,269.69 346.28,268.73 346.78,267.72 347.29,266.66 347.79,265.58 348.29,264.50 348.79,263.43 349.30,262.38 349.80,261.26 350.30,260.10 350.80,258.93 351.31,257.79 351.81,256.70 352.31,255.69 352.81,254.80 353.32,254.01 353.82,253.20 354.32,252.39 354.82,251.61 355.33,250.89 355.83,250.26 356.33,249.74 356.83,249.39 357.34,249.21 357.84,249.22 358.34,249.31 358.84,249.47 359.35,249.68 359.85,249.91 360.35,250.17 360.85,250.43 361.36,250.68 361.86,250.97 362.36,251.28 362.86,251.62 363.37,251.99 363.87,252.38 364.37,252.80 364.87,253.25 365.38,253.72 365.88,254.22 366.38,254.74 366.88,255.28 367.39,255.89 367.89,256.60 368.39,257.38 368.89,258.22 369.40,259.11 369.90,260.02 370.40,260.93 370.90,261.83 371.41,262.72 371.91,263.65 372.41,264.60 372.91,265.56 373.42,266.54 373.92,267.53 374.42,268.51 374.92,269.48 375.43,270.44 375.93,271.37 376.43,272.29 376.93,273.20 377.44,274.11 377.94,275.02 378.44,275.92 378.94,276.81 379.45,277.70 379.95,278.57 380.45,279.43 380.95,280.28 381.46,281.12 381.96,281.94 382.46,282.74 382.96,283.54 383.47,284.34 383.97,285.11 384.47,285.87 384.97,286.60 385.48,287.31 385.98,287.97 386.48,288.61 386.98,289.23 387.49,289.83 387.99,290.41 388.49,290.97 388.99,291.51 389.50,292.02 390.00,292.50" fill="none" stroke="#1a1a1a" stroke-width="0.95" stroke-linejoin="round"/>
<polyline points="330.20,285.50 330.70,285.81 331.21,286.02 331.71,286.13 332.21,286.18 332.71,286.20 333.22,286.17 333.72,285.89 334.22,285.38 334.72,284.73 335.23,284.02 335.73,283.34 336.23,282.73 336.73,282.12 337.24,281.49 337.74,280.85 338.24,280.19 338.74,279.52 339.25,278.84 339.75,278.17 340.25,277.50 340.75,276.84 341.26,276.18 341.76,275.55 342.26,274.95 342.76,274.36 343.27,273.77 343.77,273.16 344.27,272.52 344.77,271.83 345.28,271.08 345.78,270.24 346.28,269.34 346.78,268.39 347.29,267.41 347.79,266.40 348.29,265.40 348.79,264.40 349.30,263.41 349.80,262.36 350.30,261.27 350.80,260.16 351.31,259.08 351.81,258.05 352.31,257.10 352.81,256.27 353.32,255.55 353.82,254.81 354.32,254.08 354.82,253.37 355.33,252.72 355.83,252.15 356.33,251.69 356.83,251.37 357.34,251.21 357.84,251.22 358.34,251.34 358.84,251.52 359.35,251.77 359.85,252.04 360.35,252.33 360.85,252.62 361.36,252.89 361.86,253.18 362.36,253.48 362.86,253.80 363.37,254.14 363.87,254.50 364.37,254.88 364.87,255.28 365.38,255.72 365.88,256.17 366.38,256.66 366.88,257.18 367.39,257.78 367.89,258.49 368.39,259.30 368.89,260.16 369.40,261.08 369.90,262.01 370.40,262.94 370.90,263.83 371.41,264.71 371.91,265.59 372.41,266.49 372.91,267.40 373.42,268.32 373.92,269.23 374.42,270.15 374.92,271.07 375.43,271.98 375.93,272.87 376.43,273.77 376.93,274.68 377.44,275.59 377.94,276.51 378.44,277.43 378.94,278.34 379.45,279.24 379.95,280.12 380.45,280.99 380.95,281.83 381.46,282.65 381.96,283.44 382.46,284.21 382.96,284.97 383.47,285.71 383.97,286.44 384.47,287.13 384.97,287.79 385.48,288.41 385.98,288.98 386.48,289.51 386.98,290.02 387.49,290.50 387.99,290.96 388.49,291.40 388.99,291.80 389.50,292.17 390.00,292.50" fill="none" stroke="#ff2020" stroke-width="0.95" stroke-linejoin="round"/>
<polyline points="330.20,282.00 330.70,282.35 331.21,282.61 331.71,282.81 332.21,282.93 332.71,282.99 333.22,282.99 333.72,282.87 334.22,282.65 334.72,282.36 335.23,282.03 335.73,281.68 336.23,281.34 336.73,280.97 337.24,280.54 337.74,280.07 338.24,279.56 338.74,279.03 339.25,278.47 339.75,277.90 340.25,277.32 340.75,276.74 341.26,276.16 341.76,275.59 342.26,275.02 342.76,274.42 343.27,273.82 343.77,273.18 344.27,272.52 344.77,271.83 345.28,271.09 345.78,270.30 346.28,269.47 346.78,268.59 347.29,267.69 347.79,266.77 348.29,265.83 348.79,264.89 349.30,263.93 349.80,262.88 350.30,261.77 350.80,260.65 351.31,259.54 351.81,258.49 352.31,257.55 352.81,256.75 353.32,256.09 353.82,255.43 354.32,254.78 354.82,254.16 355.33,253.60 355.83,253.11 356.33,252.71 356.83,252.44 357.34,252.31 357.84,252.33 358.34,252.46 358.84,252.67 359.35,252.95 359.85,253.26 360.35,253.59 360.85,253.91 361.36,254.21 361.86,254.53 362.36,254.85 362.86,255.20 363.37,255.56 363.87,255.93 364.37,256.33 364.87,256.75 365.38,257.20 365.88,257.67 366.38,258.16 366.88,258.68 367.39,259.27 367.89,259.93 368.39,260.67 368.89,261.46 369.40,262.29 369.90,263.14 370.40,263.99 370.90,264.84 371.41,265.68 371.91,266.56 372.41,267.45 372.91,268.37 373.42,269.30 373.92,270.23 374.42,271.16 374.92,272.08 375.43,272.99 375.93,273.88 376.43,274.75 376.93,275.62 377.44,276.49 377.94,277.36 378.44,278.23 378.94,279.08 379.45,279.93 379.95,280.76 380.45,281.58 380.95,282.39 381.46,283.17 381.96,283.94 382.46,284.70 382.96,285.47 383.47,286.23 383.97,286.97 384.47,287.68 384.97,288.34 385.48,288.95 385.98,289.48 386.48,289.96 386.98,290.42 387.49,290.85 387.99,291.26 388.49,291.63 388.99,291.96 389.50,292.26 390.00,292.50" fill="none" stroke="#2020ff" stroke-width="0.95" stroke-linejoin="round"/>
<polyline points="484.50,375.10 484.50,350.83 484.78,350.80 485.05,350.77 485.32,350.75 485.60,350.73 485.87,350.72 486.15,350.71 486.42,350.70 486.70,350.70 486.97,350.71 487.25,350.72 487.52,350.73 487.79,350.75 488.07,350.78 488.34,350.81 488.62,350.85 488.89,350.89 489.17,350.94 489.44,350.99 489.71,351.04 489.99,351.10 490.26,351.16 490.54,351.22 490.81,351.29 491.09,351.35 491.36,351.43 491.63,351.50 491.91,351.58 492.18,351.69 492.46,351.82 492.73,351.97 493.01,352.14 493.28,352.32 493.55,352.53 493.83,352.75 494.10,352.98 494.38,353.22 494.65,353.48 494.93,353.74 495.20,354.01 495.47,354.28 495.75,354.56 496.02,354.85 496.30,355.13 496.57,355.41 496.85,355.69 497.12,355.97 497.39,356.25 497.67,356.55 497.94,356.86 498.22,357.19 498.49,357.53 498.77,357.88 499.04,358.24 499.32,358.60 499.59,358.98 499.86,359.35 500.14,359.73 500.41,360.11 500.69,360.49 500.96,360.87 501.24,361.24 501.51,361.60 501.78,361.96 502.06,362.31 502.33,362.64 502.61,362.96 502.88,363.28 503.16,363.59 503.43,363.90 503.70,364.22 503.98,364.54 504.25,364.85 504.53,365.15 504.80,365.46 505.08,365.75 505.35,366.04 505.62,366.31 505.90,366.58 506.17,366.83 506.45,367.07 506.72,367.29 507.00,367.50 507.27,367.70 507.54,367.90 507.82,368.10 508.09,368.30 508.37,368.50 508.64,368.67 508.92,368.82 509.19,368.94 509.46,369.03 509.74,369.07 510.01,369.08 510.29,369.08 510.56,369.08 510.84,369.08 511.11,369.07 511.39,369.01 511.66,368.92 511.93,368.79 512.21,368.64 512.48,368.47 512.76,368.30 513.03,368.14 513.31,367.98 513.58,367.77 513.85,367.53 514.13,367.28 514.40,367.04 514.68,366.83 514.95,366.67 515.23,366.58 515.50,366.58 515.77,366.71 516.05,366.92 516.32,367.18 516.60,367.46 516.87,367.72 517.15,367.93 517.42,368.05 517.69,368.07 517.97,368.07 518.24,368.06 518.52,368.05 518.79,368.03 519.07,368.01 519.34,367.98 519.61,367.96 519.89,367.92 520.16,367.89 520.44,367.85 520.71,367.81 520.99,367.76 521.26,367.71 521.53,367.66 521.81,367.60 522.08,367.54 522.36,367.39 522.63,367.18 522.91,366.92 523.18,366.65 523.46,366.41 523.73,366.21 524.00,366.09 524.28,366.07 524.55,366.18 524.83,366.38 525.10,366.64 525.38,366.92 525.65,367.19 525.92,367.40 526.20,367.54 526.47,367.57 526.75,367.56 527.02,367.53 527.30,367.49 527.57,367.43 527.84,367.37 528.12,367.30 528.39,367.22 528.67,367.13 528.94,367.03 529.22,366.94 529.49,366.84 529.76,366.74 530.04,366.64 530.31,366.54 530.59,366.40 530.86,366.23 531.14,366.04 531.41,365.84 531.68,365.64 531.96,365.45 532.23,365.28 532.51,365.16 532.78,365.08 533.06,365.06 533.33,365.17 533.60,365.37 533.88,365.62 534.15,365.85 534.43,366.02 534.70,366.06 534.98,365.85 535.25,365.45 535.53,364.96 535.80,364.49 536.07,364.16 536.35,364.06 536.62,364.12 536.90,364.24 537.17,364.41 537.45,364.59 537.72,364.77 537.99,364.93 538.27,365.03 538.54,365.04 538.82,364.12 539.09,362.13 539.37,359.53 539.64,356.77 539.91,354.30 540.19,352.56 540.46,352.01 540.74,352.31 541.01,352.99 541.29,353.95 541.56,355.06 541.83,356.22 542.11,357.32 542.38,358.22 542.66,358.84 542.93,359.03 543.21,358.63 543.48,357.68 543.75,356.37 544.03,354.91 544.30,352.37 544.58,348.51 544.85,344.13 545.13,340.04 545.40,337.05 545.67,335.95 545.95,336.71 546.22,338.62 546.50,341.34 546.77,344.49 547.05,347.73 547.32,350.70 547.60,353.04 547.87,354.97 548.14,356.91 548.42,358.84 548.69,360.71 548.97,362.51 549.24,364.20 549.52,365.76 549.79,367.15 550.06,368.35 550.34,369.33 550.61,370.06 550.89,370.61 551.16,371.10 551.44,371.53 551.71,371.90 551.98,372.24 552.26,372.54 552.53,372.82 552.81,373.07 553.08,373.33 553.36,373.59 553.63,373.84 553.90,374.08 554.18,374.28 554.45,374.44 554.73,374.55 555.00,374.60 555.28,374.60 555.55,374.60 555.82,374.60 556.10,374.60 556.37,374.60 556.65,374.60 556.92,374.60 557.20,374.60 557.47,374.60 557.74,374.60 558.02,374.60 558.29,374.60 558.57,374.60 558.84,374.60 559.12,374.60 559.39,374.60 559.67,374.60 559.94,374.60 560.21,374.60 560.49,374.60 560.76,374.60 561.04,374.60 561.31,374.60 561.59,374.60 561.86,374.60 562.13,374.60 562.41,374.60 562.68,374.60 562.96,374.60 563.23,374.60 563.51,374.60 563.78,374.60 564.05,374.60 564.33,374.60 564.60,374.60 564.88,374.60 565.15,374.60 565.43,374.60 565.70,374.60 565.97,374.60 566.25,374.60 566.52,374.60 566.80,374.60 567.07,374.59 567.35,374.59 567.62,374.59 567.89,374.59 568.17,374.58 568.44,374.58 568.72,374.58 568.99,374.57 569.27,374.57 569.54,374.56 569.81,374.56 570.09,374.55 570.36,374.54 570.64,374.54 570.91,374.53 571.19,374.52 571.46,374.52 571.73,374.51 572.01,374.50 572.28,374.49 572.56,374.48 572.83,374.47 573.11,374.47 573.38,374.46 573.66,374.45 573.93,374.44 574.20,374.43 574.48,374.42 574.75,374.41 575.03,374.40 575.30,374.39 575.58,374.38 575.85,374.37 576.12,374.35 576.40,374.34 576.67,374.33 576.95,374.32 577.22,374.31 577.50,374.30 577.77,374.29 578.04,374.28 578.32,374.27 578.59,374.25 578.87,374.24 579.14,374.23 579.42,374.22 579.69,374.21 579.96,374.20 580.24,374.19 580.51,374.18 580.79,374.17 581.06,374.15 581.34,374.14 581.61,374.13 581.88,374.12 582.16,374.11 582.43,374.10 582.71,374.09 582.98,374.08 583.26,374.07 583.53,374.06 583.80,374.05 584.08,374.04 584.35,374.03 584.63,374.02 584.90,374.01 585.18,374.00 585.45,373.99 585.73,373.98 586.00,373.97 586.27,373.96 586.55,373.95 586.82,373.94 587.10,373.93 587.37,373.92 587.65,373.91 587.92,373.90 588.19,373.88 588.47,373.87 588.74,373.86 589.02,373.85 589.29,373.84 589.57,373.82 589.84,373.81 590.11,373.80 590.39,373.78 590.66,373.77 590.94,373.75 591.21,373.74 591.49,373.72 591.76,373.71 592.03,373.69 592.31,373.68 592.58,373.66 592.86,373.64 593.13,373.63 593.41,373.61 593.68,373.59 593.95,373.57 594.23,373.55 594.50,373.53 594.78,373.51 595.05,373.49 595.33,373.46 595.60,373.44 595.87,373.42 596.15,373.39 596.42,373.37 596.70,373.34 596.97,373.31 597.25,373.29 597.52,373.26 597.80,373.23 598.07,373.20 598.34,373.16 598.62,373.13 598.89,373.10 599.17,373.06 599.44,373.03 599.72,372.99 599.99,372.95 600.26,372.91 600.54,372.87 600.81,372.83 601.09,372.78 601.36,372.74 601.64,372.69 601.91,372.64 602.18,372.59 602.46,372.54 602.73,372.49 603.01,372.44 603.28,372.38 603.56,372.32 603.83,372.27 604.10,372.21 604.38,372.14 604.65,372.08 604.93,372.01 605.20,371.93 605.48,371.85 605.75,371.76 606.02,371.66 606.30,371.55 606.57,371.43 606.85,371.30 607.12,371.17 607.40,371.03 607.67,370.87 607.94,370.71 608.22,370.54 608.49,370.36 608.77,370.17 609.04,369.97 609.32,369.76 609.59,369.54 609.87,369.31 610.14,369.07 610.41,368.72 610.69,368.22 610.96,367.62 611.24,366.94 611.51,366.25 611.79,365.58 612.06,364.98 612.33,364.50 612.61,364.18 612.88,364.06 613.16,364.13 613.43,364.31 613.71,364.55 613.98,364.79 614.25,364.98 614.53,365.06 614.80,364.82 615.08,364.15 615.35,363.20 615.63,362.11 615.90,361.00 616.17,360.03 616.45,359.33 616.72,359.04 617.00,359.11 617.27,359.33 617.55,359.64 617.82,360.01 618.09,360.38 618.37,360.70 618.64,360.94 618.92,361.04 619.19,360.86 619.47,360.27 619.74,359.37 620.01,358.24 620.29,356.96 620.56,355.63 620.84,354.34 621.11,353.16 621.39,352.10 621.66,351.04 621.94,349.97 622.21,348.90 622.48,347.83 622.76,346.75 623.03,345.66 623.31,344.56 623.58,343.45 623.86,342.33 624.13,341.19 624.40,340.04 624.68,338.88 624.95,337.70 625.23,336.50 625.50,335.29 625.78,334.05 626.05,332.80 626.32,331.52 626.60,330.22 626.87,328.86 627.15,327.39 627.42,325.83 627.70,324.18 627.97,322.46 628.24,320.70 628.52,318.89 628.79,317.06 629.07,315.23 629.34,313.41 629.62,311.61 629.89,309.85 630.16,308.14 630.44,306.51 630.71,304.96 630.99,303.51 631.26,302.18 631.54,300.98 631.81,299.93 632.08,299.04 632.36,298.28 632.63,297.53 632.91,296.80 633.18,296.07 633.46,295.36 633.73,294.67 634.01,294.01 634.28,293.38 634.55,292.78 634.83,292.23 635.10,291.72 635.38,291.25 635.65,290.85 635.93,290.49 636.20,290.21 636.47,289.99 636.75,289.84 637.02,289.77 637.30,289.76 637.57,289.78 637.85,289.80 638.12,289.84 638.39,289.88 638.67,289.94 638.94,290.01 639.22,290.09 639.49,290.17 639.77,290.26 640.04,290.36 640.31,290.47 640.59,290.59 640.86,290.71 641.14,290.85 641.41,291.10 641.69,291.46 641.96,291.91 642.23,292.46 642.51,293.09 642.78,293.80 643.06,294.57 643.33,295.40 643.61,296.29 643.88,297.22 644.15,298.19 644.43,299.18 644.70,300.20 644.98,301.22 645.25,302.25 645.53,303.28 645.80,304.29 646.08,305.30 646.35,306.37 646.62,307.51 646.90,308.72 647.17,309.99 647.45,311.31 647.72,312.68 648.00,314.09 648.27,315.53 648.54,317.01 648.82,318.51 649.09,320.02 649.37,321.55 649.64,323.09 649.92,324.62 650.19,326.15 650.46,327.66 650.74,329.16 651.01,330.63 651.29,332.07 651.56,333.48 651.84,334.91 652.11,336.38 652.38,337.87 652.66,339.38 652.93,340.91 653.21,342.44 653.48,343.98 653.76,345.51 654.03,347.03 654.30,348.53 654.58,350.02 654.85,351.47 655.13,352.89 655.40,354.27 655.68,355.60 655.95,356.88 656.22,358.10 656.50,359.25 656.77,360.33 657.05,361.34 657.32,362.35 657.60,363.36 657.87,364.37 658.15,365.37 658.42,366.34 658.69,367.28 658.97,368.17 659.24,369.00 659.52,369.76 659.79,370.44 660.07,371.03 660.34,371.52 660.61,371.89 660.89,372.14 661.16,372.34 661.44,372.53 661.71,372.71 661.99,372.87 662.26,373.02 662.53,373.15 662.81,373.27 663.08,373.37 663.36,373.45 663.63,373.52 663.91,373.57 664.18,373.60 664.45,373.62 664.73,373.65 665.00,373.67 665.28,373.69 665.55,373.71 665.83,373.73 666.10,373.75 666.37,373.77 666.65,373.79 666.92,373.81 667.20,373.83 667.47,373.85 667.75,373.86 668.02,373.88 668.29,373.89 668.57,373.91 668.84,373.92 669.12,373.94 669.39,373.95 669.67,373.96 669.94,373.97 670.22,373.98 670.49,373.99 670.76,374.00 671.04,374.01 671.31,374.02 671.59,374.03 671.86,374.04 672.14,374.05 672.41,374.05 672.68,374.06 672.96,374.06 673.23,374.07 673.51,374.07 673.78,374.08 674.06,374.08 674.33,374.09 674.60,374.09 674.88,374.09 675.15,374.09 675.43,374.09 675.70,374.10 675.98,374.10 676.25,374.10" fill="none" stroke="#1a1a1a" stroke-width="1.15" stroke-linejoin="round"/>
<polyline points="484.50,375.10 484.50,364.96 484.78,364.94 485.05,364.92 485.32,364.90 485.60,364.89 485.87,364.88 486.15,364.87 486.42,364.86 486.70,364.86 486.97,364.86 487.25,364.86 487.52,364.87 487.79,364.87 488.07,364.88 488.34,364.88 488.62,364.89 488.89,364.90 489.17,364.91 489.44,364.93 489.71,364.94 489.99,364.95 490.26,364.97 490.54,364.98 490.81,365.00 491.09,365.02 491.36,365.04 491.63,365.06 491.91,365.08 492.18,365.11 492.46,365.15 492.73,365.20 493.01,365.26 493.28,365.32 493.55,365.39 493.83,365.47 494.10,365.55 494.38,365.64 494.65,365.74 494.93,365.83 495.20,365.94 495.47,366.05 495.75,366.17 496.02,366.33 496.30,366.52 496.57,366.73 496.85,366.98 497.12,367.24 497.39,367.51 497.67,367.80 497.94,368.10 498.22,368.40 498.49,368.69 498.77,368.99 499.04,369.27 499.32,369.54 499.59,369.80 499.86,370.03 500.14,370.24 500.41,370.46 500.69,370.68 500.96,370.89 501.24,371.11 501.51,371.32 501.78,371.53 502.06,371.73 502.33,371.93 502.61,372.12 502.88,372.30 503.16,372.48 503.43,372.64 503.70,372.79 503.98,372.93 504.25,373.06 504.53,373.17 504.80,373.29 505.08,373.40 505.35,373.52 505.62,373.63 505.90,373.73 506.17,373.83 506.45,373.91 506.72,373.98 507.00,374.04 507.27,374.08 507.54,374.09 507.82,374.08 508.09,373.99 508.37,373.84 508.64,373.62 508.92,373.35 509.19,373.02 509.46,372.66 509.74,372.26 510.01,371.70 510.29,370.65 510.56,369.42 510.84,368.37 511.11,367.76 511.39,367.30 511.66,366.92 511.93,366.59 512.21,366.29 512.48,365.99 512.76,365.65 513.03,365.26 513.31,364.77 513.58,364.10 513.85,363.31 514.13,362.47 514.40,361.65 514.68,360.93 514.95,360.39 515.23,360.08 515.50,360.10 515.77,360.51 516.05,361.21 516.32,362.08 516.60,363.02 516.87,363.89 517.15,364.59 517.42,365.00 517.69,365.06 517.97,365.06 518.24,365.06 518.52,365.06 518.79,365.06 519.07,365.06 519.34,365.06 519.61,365.06 519.89,365.06 520.16,365.06 520.44,365.06 520.71,365.06 520.99,365.06 521.26,365.06 521.53,365.06 521.81,365.06 522.08,365.01 522.36,364.48 522.63,363.54 522.91,362.33 523.18,361.03 523.46,359.79 523.73,358.77 524.00,358.15 524.28,358.06 524.55,358.43 524.83,359.09 525.10,359.95 525.38,360.88 525.65,361.77 525.92,362.50 526.20,362.96 526.47,363.05 526.75,363.03 527.02,362.98 527.30,362.90 527.57,362.81 527.84,362.69 528.12,362.55 528.39,362.40 528.67,362.23 528.94,362.05 529.22,361.85 529.49,361.65 529.76,361.43 530.04,361.21 530.31,360.97 530.59,360.59 530.86,360.07 531.14,359.44 531.41,358.76 531.68,358.07 531.96,357.41 532.23,356.83 532.51,356.37 532.78,356.09 533.06,356.03 533.33,356.24 533.60,356.65 533.88,357.14 534.15,357.61 534.43,357.94 534.70,358.01 534.98,357.29 535.25,355.88 535.53,354.16 535.80,352.53 536.07,351.35 536.35,351.01 536.62,351.24 536.90,351.74 537.17,352.40 537.45,353.14 537.72,353.87 537.99,354.48 538.27,354.90 538.54,354.98 538.82,353.14 539.09,349.16 539.37,343.97 539.64,338.44 539.91,333.50 540.19,330.03 540.46,328.93 540.74,329.60 541.01,331.16 541.29,333.35 541.56,335.90 541.83,338.55 542.11,341.05 542.38,343.12 542.66,344.52 542.93,344.97 543.21,344.12 543.48,342.14 543.75,339.53 544.03,336.75 544.30,332.69 544.58,327.00 544.85,320.75 545.13,315.02 545.40,310.86 545.67,309.34 545.95,311.06 546.22,315.33 546.50,321.31 546.77,328.13 547.05,334.92 547.32,340.84 547.60,345.02 547.87,348.01 548.14,350.88 548.42,353.60 548.69,356.15 548.97,358.53 549.24,360.70 549.52,362.67 549.79,364.40 550.06,365.89 550.34,367.11 550.61,368.04 550.89,368.78 551.16,369.43 551.44,370.00 551.71,370.51 551.98,370.95 552.26,371.36 552.53,371.72 552.81,372.06 553.08,372.41 553.36,372.75 553.63,373.09 553.90,373.40 554.18,373.67 554.45,373.89 554.73,374.04 555.00,374.10 555.28,374.10 555.55,374.10 555.82,374.10 556.10,374.10 556.37,374.10 556.65,374.10 556.92,374.10 557.20,374.10 557.47,374.10 557.74,374.10 558.02,374.10 558.29,374.10 558.57,374.10 558.84,374.10 559.12,374.10 559.39,374.10 559.67,374.10 559.94,374.10 560.21,374.10 560.49,374.10 560.76,374.10 561.04,374.10 561.31,374.10 561.59,374.10 561.86,374.10 562.13,374.10 562.41,374.10 562.68,374.10 562.96,374.10 563.23,374.10 563.51,374.10 563.78,374.10 564.05,374.10 564.33,374.10 564.60,374.10 564.88,374.10 565.15,374.10 565.43,374.10 565.70,374.10 565.97,374.10 566.25,374.10 566.52,374.09 566.80,374.09 567.07,374.09 567.35,374.08 567.62,374.07 567.89,374.06 568.17,374.05 568.44,374.04 568.72,374.03 568.99,374.02 569.27,374.00 569.54,373.99 569.81,373.97 570.09,373.95 570.36,373.93 570.64,373.91 570.91,373.89 571.19,373.87 571.46,373.85 571.73,373.83 572.01,373.80 572.28,373.78 572.56,373.75 572.83,373.73 573.11,373.70 573.38,373.67 573.66,373.64 573.93,373.61 574.20,373.58 574.48,373.55 574.75,373.52 575.03,373.49 575.30,373.46 575.58,373.43 575.85,373.40 576.12,373.37 576.40,373.33 576.67,373.30 576.95,373.27 577.22,373.23 577.50,373.20 577.77,373.17 578.04,373.13 578.32,373.10 578.59,373.06 578.87,373.03 579.14,373.00 579.42,372.96 579.69,372.93 579.96,372.90 580.24,372.86 580.51,372.83 580.79,372.80 581.06,372.76 581.34,372.73 581.61,372.70 581.88,372.67 582.16,372.64 582.43,372.61 582.71,372.58 582.98,372.55 583.26,372.51 583.53,372.48 583.80,372.45 584.08,372.42 584.35,372.39 584.63,372.36 584.90,372.33 585.18,372.30 585.45,372.26 585.73,372.23 586.00,372.20 586.27,372.16 586.55,372.13 586.82,372.10 587.10,372.06 587.37,372.03 587.65,371.99 587.92,371.96 588.19,371.92 588.47,371.89 588.74,371.85 589.02,371.81 589.29,371.77 589.57,371.73 589.84,371.69 590.11,371.65 590.39,371.61 590.66,371.57 590.94,371.53 591.21,371.49 591.49,371.44 591.76,371.40 592.03,371.36 592.31,371.31 592.58,371.26 592.86,371.22 593.13,371.17 593.41,371.12 593.68,371.07 593.95,371.02 594.23,370.97 594.50,370.92 594.78,370.86 595.05,370.81 595.33,370.76 595.60,370.70 595.87,370.65 596.15,370.59 596.42,370.53 596.70,370.47 596.97,370.41 597.25,370.35 597.52,370.29 597.80,370.23 598.07,370.16 598.34,370.10 598.62,370.03 598.89,369.96 599.17,369.89 599.44,369.82 599.72,369.74 599.99,369.67 600.26,369.59 600.54,369.51 600.81,369.43 601.09,369.34 601.36,369.26 601.64,369.17 601.91,369.08 602.18,368.99 602.46,368.90 602.73,368.80 603.01,368.70 603.28,368.60 603.56,368.50 603.83,368.39 604.10,368.28 604.38,368.17 604.65,368.06 604.93,367.94 605.20,367.82 605.48,367.70 605.75,367.57 606.02,367.44 606.30,367.30 606.57,367.15 606.85,366.99 607.12,366.82 607.40,366.65 607.67,366.46 607.94,366.25 608.22,366.04 608.49,365.80 608.77,365.56 609.04,365.29 609.32,365.01 609.59,364.71 609.87,364.39 610.14,364.04 610.41,363.50 610.69,362.64 610.96,361.56 611.24,360.34 611.51,359.08 611.79,357.85 612.06,356.74 612.33,355.85 612.61,355.24 612.88,355.02 613.16,355.31 613.43,356.05 613.71,357.01 613.98,357.97 614.25,358.72 614.53,359.04 614.80,358.40 615.08,356.62 615.35,354.09 615.63,351.16 615.90,348.21 616.17,345.62 616.45,343.75 616.72,342.98 617.00,343.27 617.27,344.14 617.55,345.40 617.82,346.86 618.09,348.33 618.37,349.64 618.64,350.59 618.92,351.00 619.19,350.97 619.47,350.84 619.74,350.64 620.01,350.38 620.29,350.08 620.56,349.74 620.84,349.39 621.11,349.04 621.39,348.67 621.66,348.24 621.94,347.74 622.21,347.19 622.48,346.58 622.76,345.94 623.03,345.25 623.31,344.53 623.58,343.78 623.86,343.00 624.13,342.21 624.40,341.40 624.68,340.59 624.95,339.77 625.23,338.95 625.50,338.14 625.78,337.35 626.05,336.57 626.32,335.82 626.60,335.10 626.87,334.39 627.15,333.66 627.42,332.91 627.70,332.15 627.97,331.38 628.24,330.60 628.52,329.82 628.79,329.04 629.07,328.26 629.34,327.49 629.62,326.73 629.89,325.98 630.16,325.26 630.44,324.55 630.71,323.88 630.99,323.23 631.26,322.62 631.54,322.05 631.81,321.51 632.08,321.03 632.36,320.57 632.63,320.11 632.91,319.65 633.18,319.18 633.46,318.72 633.73,318.27 634.01,317.83 634.28,317.40 634.55,316.99 634.83,316.61 635.10,316.25 635.38,315.93 635.65,315.64 635.93,315.39 636.20,315.18 636.47,315.02 636.75,314.92 637.02,314.86 637.30,314.87 637.57,314.92 637.85,315.02 638.12,315.15 638.39,315.32 638.67,315.52 638.94,315.75 639.22,316.00 639.49,316.26 639.77,316.55 640.04,316.84 640.31,317.14 640.59,317.44 640.86,317.74 641.14,318.04 641.41,318.36 641.69,318.72 641.96,319.10 642.23,319.51 642.51,319.94 642.78,320.39 643.06,320.87 643.33,321.36 643.61,321.88 643.88,322.41 644.15,322.97 644.43,323.53 644.70,324.12 644.98,324.71 645.25,325.32 645.53,325.94 645.80,326.57 646.08,327.22 646.35,327.90 646.62,328.63 646.90,329.40 647.17,330.21 647.45,331.05 647.72,331.92 648.00,332.82 648.27,333.74 648.54,334.69 648.82,335.64 649.09,336.61 649.37,337.59 649.64,338.58 649.92,339.57 650.19,340.55 650.46,341.53 650.74,342.50 651.01,343.47 651.29,344.41 651.56,345.34 651.84,346.29 652.11,347.26 652.38,348.25 652.66,349.26 652.93,350.28 653.21,351.31 653.48,352.34 653.76,353.38 654.03,354.40 654.30,355.42 654.58,356.43 654.85,357.42 655.13,358.39 655.40,359.34 655.68,360.25 655.95,361.14 656.22,361.98 656.50,362.79 656.77,363.55 657.05,364.27 657.32,364.98 657.60,365.70 657.87,366.42 658.15,367.12 658.42,367.82 658.69,368.48 658.97,369.12 659.24,369.72 659.52,370.28 659.79,370.78 660.07,371.23 660.34,371.61 660.61,371.91 660.89,372.14 661.16,372.33 661.44,372.52 661.71,372.69 661.99,372.85 662.26,373.00 662.53,373.14 662.81,373.26 663.08,373.36 663.36,373.45 663.63,373.52 663.91,373.57 664.18,373.60 664.45,373.62 664.73,373.65 665.00,373.67 665.28,373.69 665.55,373.71 665.83,373.73 666.10,373.75 666.37,373.77 666.65,373.79 666.92,373.81 667.20,373.83 667.47,373.85 667.75,373.86 668.02,373.88 668.29,373.89 668.57,373.91 668.84,373.92 669.12,373.94 669.39,373.95 669.67,373.96 669.94,373.97 670.22,373.98 670.49,373.99 670.76,374.00 671.04,374.01 671.31,374.02 671.59,374.03 671.86,374.04 672.14,374.05 672.41,374.05 672.68,374.06 672.96,374.06 673.23,374.07 673.51,374.07 673.78,374.08 674.06,374.08 674.33,374.09 674.60,374.09 674.88,374.09 675.15,374.09 675.43,374.09 675.70,374.10 675.98,374.10 676.25,374.10" fill="none" stroke="#ff2020" stroke-width="1.15" stroke-linejoin="round"/>
<polyline points="484.50,375.10 484.50,365.46 484.78,365.44 485.05,365.42 485.32,365.40 485.60,365.39 485.87,365.38 486.15,365.37 486.42,365.36 486.70,365.36 486.97,365.36 487.25,365.36 487.52,365.37 487.79,365.37 488.07,365.38 488.34,365.39 488.62,365.39 488.89,365.40 489.17,365.42 489.44,365.43 489.71,365.44 489.99,365.46 490.26,365.47 490.54,365.49 490.81,365.50 491.09,365.52 491.36,365.54 491.63,365.56 491.91,365.58 492.18,365.61 492.46,365.65 492.73,365.70 493.01,365.76 493.28,365.82 493.55,365.89 493.83,365.97 494.10,366.05 494.38,366.14 494.65,366.23 494.93,366.33 495.20,366.44 495.47,366.55 495.75,366.68 496.02,366.85 496.30,367.06 496.57,367.31 496.85,367.58 497.12,367.88 497.39,368.20 497.67,368.53 497.94,368.87 498.22,369.21 498.49,369.55 498.77,369.88 499.04,370.20 499.32,370.50 499.59,370.78 499.86,371.03 500.14,371.25 500.41,371.47 500.69,371.69 500.96,371.90 501.24,372.10 501.51,372.30 501.78,372.50 502.06,372.69 502.33,372.88 502.61,373.06 502.88,373.24 503.16,373.41 503.43,373.58 503.70,373.74 503.98,373.90 504.25,374.05 504.53,374.20 504.80,374.36 505.08,374.53 505.35,374.70 505.62,374.86 505.90,375.02 506.17,375.17 506.45,375.30 506.72,375.42 507.00,375.51 507.27,375.57 507.54,375.60 507.82,375.58 508.09,375.47 508.37,375.26 508.64,374.98 508.92,374.63 509.19,374.23 509.46,373.77 509.74,373.29 510.01,372.67 510.29,371.61 510.56,370.40 510.84,369.37 511.11,368.76 511.39,368.29 511.66,367.90 511.93,367.56 512.21,367.25 512.48,366.94 512.76,366.62 513.03,366.25 513.31,365.80 513.58,365.24 513.85,364.60 514.13,363.93 514.40,363.29 514.68,362.73 514.95,362.31 515.23,362.08 515.50,362.10 515.77,362.42 516.05,362.98 516.32,363.68 516.60,364.43 516.87,365.13 517.15,365.69 517.42,366.02 517.69,366.06 517.97,366.06 518.24,366.06 518.52,366.06 518.79,366.06 519.07,366.06 519.34,366.06 519.61,366.06 519.89,366.06 520.16,366.06 520.44,366.06 520.71,366.06 520.99,366.06 521.26,366.06 521.53,366.06 521.81,366.06 522.08,366.02 522.36,365.57 522.63,364.76 522.91,363.73 523.18,362.61 523.46,361.54 523.73,360.68 524.00,360.14 524.28,360.07 524.55,360.35 524.83,360.89 525.10,361.57 525.38,362.32 525.65,363.03 525.92,363.61 526.20,363.98 526.47,364.05 526.75,364.03 527.02,363.98 527.30,363.90 527.57,363.80 527.84,363.68 528.12,363.54 528.39,363.38 528.67,363.21 528.94,363.02 529.22,362.83 529.49,362.63 529.76,362.42 530.04,362.20 530.31,361.98 530.59,361.66 530.86,361.22 531.14,360.72 531.41,360.17 531.68,359.63 531.96,359.11 532.23,358.66 532.51,358.30 532.78,358.09 533.06,358.04 533.33,358.25 533.60,358.66 533.88,359.15 534.15,359.62 534.43,359.95 534.70,360.02 534.98,359.40 535.25,358.20 535.53,356.72 535.80,355.32 536.07,354.31 536.35,354.02 536.62,354.19 536.90,354.57 537.17,355.06 537.45,355.62 537.72,356.16 537.99,356.62 538.27,356.94 538.54,356.99 538.82,355.22 539.09,351.40 539.37,346.40 539.64,341.09 539.91,336.33 540.19,333.00 540.46,331.94 540.74,332.57 541.01,334.03 541.29,336.08 541.56,338.47 541.83,340.96 542.11,343.30 542.38,345.25 542.66,346.56 542.93,346.98 543.21,346.10 543.48,344.08 543.75,341.46 544.03,338.77 544.30,335.17 544.58,330.36 544.85,325.19 545.13,320.48 545.40,317.10 545.67,315.87 545.95,317.35 546.22,321.06 546.50,326.26 546.77,332.19 547.05,338.12 547.32,343.32 547.60,347.02 547.87,349.72 548.14,352.30 548.42,354.76 548.69,357.07 548.97,359.23 549.24,361.21 549.52,363.01 549.79,364.61 550.06,365.99 550.34,367.14 550.61,368.05 550.89,368.77 551.16,369.42 551.44,369.99 551.71,370.49 551.98,370.94 552.26,371.35 552.53,371.72 552.81,372.06 553.08,372.41 553.36,372.75 553.63,373.09 553.90,373.40 554.18,373.67 554.45,373.89 554.73,374.04 555.00,374.10 555.28,374.10 555.55,374.10 555.82,374.10 556.10,374.10 556.37,374.10 556.65,374.10 556.92,374.10 557.20,374.10 557.47,374.10 557.74,374.10 558.02,374.10 558.29,374.10 558.57,374.10 558.84,374.10 559.12,374.10 559.39,374.10 559.67,374.10 559.94,374.10 560.21,374.10 560.49,374.10 560.76,374.10 561.04,374.10 561.31,374.10 561.59,374.10 561.86,374.10 562.13,374.10 562.41,374.10 562.68,374.10 562.96,374.10 563.23,374.10 563.51,374.10 563.78,374.10 564.05,374.10 564.33,374.10 564.60,374.10 564.88,374.10 565.15,374.10 565.43,374.10 565.70,374.10 565.97,374.10 566.25,374.10 566.52,374.09 566.80,374.09 567.07,374.09 567.35,374.09 567.62,374.08 567.89,374.08 568.17,374.07 568.44,374.06 568.72,374.06 568.99,374.05 569.27,374.04 569.54,374.03 569.81,374.02 570.09,374.01 570.36,374.00 570.64,373.99 570.91,373.97 571.19,373.96 571.46,373.95 571.73,373.93 572.01,373.92 572.28,373.90 572.56,373.89 572.83,373.87 573.11,373.85 573.38,373.83 573.66,373.82 573.93,373.80 574.20,373.78 574.48,373.76 574.75,373.74 575.03,373.72 575.30,373.70 575.58,373.68 575.85,373.66 576.12,373.64 576.40,373.62 576.67,373.60 576.95,373.57 577.22,373.55 577.50,373.53 577.77,373.51 578.04,373.48 578.32,373.46 578.59,373.44 578.87,373.41 579.14,373.39 579.42,373.37 579.69,373.34 579.96,373.32 580.24,373.30 580.51,373.27 580.79,373.25 581.06,373.22 581.34,373.20 581.61,373.18 581.88,373.15 582.16,373.13 582.43,373.10 582.71,373.08 582.98,373.06 583.26,373.03 583.53,373.00 583.80,372.98 584.08,372.95 584.35,372.92 584.63,372.89 584.90,372.86 585.18,372.83 585.45,372.80 585.73,372.76 586.00,372.73 586.27,372.70 586.55,372.66 586.82,372.63 587.10,372.59 587.37,372.55 587.65,372.52 587.92,372.48 588.19,372.44 588.47,372.40 588.74,372.36 589.02,372.32 589.29,372.28 589.57,372.24 589.84,372.20 590.11,372.16 590.39,372.11 590.66,372.07 590.94,372.03 591.21,371.98 591.49,371.94 591.76,371.89 592.03,371.85 592.31,371.80 592.58,371.76 592.86,371.71 593.13,371.67 593.41,371.62 593.68,371.57 593.95,371.53 594.23,371.48 594.50,371.43 594.78,371.39 595.05,371.34 595.33,371.29 595.60,371.25 595.87,371.20 596.15,371.15 596.42,371.11 596.70,371.06 596.97,371.01 597.25,370.96 597.52,370.91 597.80,370.86 598.07,370.81 598.34,370.76 598.62,370.70 598.89,370.65 599.17,370.59 599.44,370.53 599.72,370.47 599.99,370.41 600.26,370.35 600.54,370.29 600.81,370.22 601.09,370.15 601.36,370.08 601.64,370.01 601.91,369.94 602.18,369.86 602.46,369.78 602.73,369.70 603.01,369.62 603.28,369.53 603.56,369.45 603.83,369.35 604.10,369.26 604.38,369.16 604.65,369.06 604.93,368.96 605.20,368.85 605.48,368.74 605.75,368.63 606.02,368.50 606.30,368.37 606.57,368.23 606.85,368.07 607.12,367.91 607.40,367.73 607.67,367.55 607.94,367.34 608.22,367.12 608.49,366.88 608.77,366.63 609.04,366.36 609.32,366.06 609.59,365.75 609.87,365.41 610.14,365.05 610.41,364.39 610.69,363.30 610.96,361.87 611.24,360.25 611.51,358.55 611.79,356.88 612.06,355.37 612.33,354.15 612.61,353.32 612.88,353.01 613.16,353.52 613.43,354.81 613.71,356.49 613.98,358.18 614.25,359.49 614.53,360.04 614.80,359.20 615.08,356.87 615.35,353.54 615.63,349.70 615.90,345.83 616.17,342.43 616.45,339.98 616.72,338.96 617.00,339.37 617.27,340.56 617.55,342.29 617.82,344.30 618.09,346.33 618.37,348.13 618.64,349.43 618.92,349.99 619.19,350.00 619.47,350.00 619.74,350.00 620.01,350.00 620.29,350.00 620.56,350.00 620.84,350.00 621.11,350.00 621.39,349.95 621.66,349.78 621.94,349.50 622.21,349.11 622.48,348.63 622.76,348.07 623.03,347.43 623.31,346.73 623.58,345.98 623.86,345.19 624.13,344.36 624.40,343.51 624.68,342.65 624.95,341.78 625.23,340.92 625.50,340.08 625.78,339.27 626.05,338.49 626.32,337.76 626.60,337.09 626.87,336.46 627.15,335.82 627.42,335.17 627.70,334.51 627.97,333.85 628.24,333.18 628.52,332.51 628.79,331.85 629.07,331.19 629.34,330.54 629.62,329.90 629.89,329.27 630.16,328.66 630.44,328.07 630.71,327.49 630.99,326.94 631.26,326.42 631.54,325.92 631.81,325.46 632.08,325.03 632.36,324.62 632.63,324.21 632.91,323.79 633.18,323.36 633.46,322.94 633.73,322.53 634.01,322.12 634.28,321.73 634.55,321.36 634.83,321.00 635.10,320.67 635.38,320.37 635.65,320.10 635.93,319.87 636.20,319.68 636.47,319.53 636.75,319.43 637.02,319.38 637.30,319.39 637.57,319.43 637.85,319.50 638.12,319.61 638.39,319.75 638.67,319.91 638.94,320.10 639.22,320.30 639.49,320.52 639.77,320.76 640.04,321.00 640.31,321.26 640.59,321.51 640.86,321.77 641.14,322.04 641.41,322.33 641.69,322.67 641.96,323.04 642.23,323.44 642.51,323.87 642.78,324.33 643.06,324.81 643.33,325.32 643.61,325.85 643.88,326.39 644.15,326.96 644.43,327.54 644.70,328.13 644.98,328.74 645.25,329.35 645.53,329.97 645.80,330.59 646.08,331.23 646.35,331.89 646.62,332.60 646.90,333.35 647.17,334.12 647.45,334.93 647.72,335.76 648.00,336.62 648.27,337.49 648.54,338.38 648.82,339.29 649.09,340.20 649.37,341.12 649.64,342.05 649.92,342.97 650.19,343.89 650.46,344.80 650.74,345.71 651.01,346.60 651.29,347.47 651.56,348.32 651.84,349.19 652.11,350.08 652.38,350.98 652.66,351.89 652.93,352.81 653.21,353.74 653.48,354.66 653.76,355.59 654.03,356.51 654.30,357.41 654.58,358.31 654.85,359.19 655.13,360.05 655.40,360.89 655.68,361.70 655.95,362.48 656.22,363.23 656.50,363.94 656.77,364.62 657.05,365.25 657.32,365.87 657.60,366.50 657.87,367.12 658.15,367.74 658.42,368.33 658.69,368.91 658.97,369.46 659.24,369.99 659.52,370.47 659.79,370.91 660.07,371.30 660.34,371.64 660.61,371.92 660.89,372.14 661.16,372.33 661.44,372.51 661.71,372.68 661.99,372.84 662.26,372.99 662.53,373.13 662.81,373.25 663.08,373.36 663.36,373.44 663.63,373.52 663.91,373.57 664.18,373.60 664.45,373.62 664.73,373.65 665.00,373.67 665.28,373.69 665.55,373.71 665.83,373.73 666.10,373.75 666.37,373.77 666.65,373.79 666.92,373.81 667.20,373.83 667.47,373.85 667.75,373.86 668.02,373.88 668.29,373.89 668.57,373.91 668.84,373.92 669.12,373.94 669.39,373.95 669.67,373.96 669.94,373.97 670.22,373.98 670.49,373.99 670.76,374.00 671.04,374.01 671.31,374.02 671.59,374.03 671.86,374.04 672.14,374.05 672.41,374.05 672.68,374.06 672.96,374.06 673.23,374.07 673.51,374.07 673.78,374.08 674.06,374.08 674.33,374.09 674.60,374.09 674.88,374.09 675.15,374.09 675.43,374.09 675.70,374.10 675.98,374.10 676.25,374.10" fill="none" stroke="#2020ff" stroke-width="1.15" stroke-linejoin="round"/>
<rect x="477.20" y="224.60" width="200.70" height="150.60" fill="none" stroke="#1a1a1a" stroke-width="1.4" />
<line x1="474.20" y1="375.10" x2="477.20" y2="375.10" stroke="#222" stroke-width="0.9" />
<text x="472.40" y="377.10" font-size="5.5" font-weight="bold" font-style="normal" text-anchor="end" fill="#333"  textLength="6.90" lengthAdjust="spacingAndGlyphs" stroke="#333" stroke-width="0.2">0.0</text>
<line x1="475.50" y1="365.06" x2="477.20" y2="365.06" stroke="#222" stroke-width="0.9" />
<line x1="474.20" y1="355.02" x2="477.20" y2="355.02" stroke="#222" stroke-width="0.9" />
<text x="472.40" y="357.02" font-size="5.5" font-weight="bold" font-style="normal" text-anchor="end" fill="#333"  textLength="6.90" lengthAdjust="spacingAndGlyphs" stroke="#333" stroke-width="0.2">0.2</text>
<line x1="475.50" y1="344.98" x2="477.20" y2="344.98" stroke="#222" stroke-width="0.9" />
<line x1="474.20" y1="334.94" x2="477.20" y2="334.94" stroke="#222" stroke-width="0.9" />
<text x="472.40" y="336.94" font-size="5.5" font-weight="bold" font-style="normal" text-anchor="end" fill="#333"  textLength="6.90" lengthAdjust="spacingAndGlyphs" stroke="#333" stroke-width="0.2">0.4</text>
<line x1="475.50" y1="324.90" x2="477.20" y2="324.90" stroke="#222" stroke-width="0.9" />
<line x1="474.20" y1="314.86" x2="477.20" y2="314.86" stroke="#222" stroke-width="0.9" />
<text x="472.40" y="316.86" font-size="5.5" font-weight="bold" font-style="normal" text-anchor="end" fill="#333"  textLength="6.90" lengthAdjust="spacingAndGlyphs" stroke="#333" stroke-width="0.2">0.6</text>
<line x1="475.50" y1="304.82" x2="477.20" y2="304.82" stroke="#222" stroke-width="0.9" />
<line x1="474.20" y1="294.78" x2="477.20" y2="294.78" stroke="#222" stroke-width="0.9" />
<text x="472.40" y="296.78" font-size="5.5" font-weight="bold" font-style="normal" text-anchor="end" fill="#333"  textLength="6.90" lengthAdjust="spacingAndGlyphs" stroke="#333" stroke-width="0.2">0.8</text>
<line x1="475.50" y1="284.74" x2="477.20" y2="284.74" stroke="#222" stroke-width="0.9" />
<line x1="474.20" y1="274.70" x2="477.20" y2="274.70" stroke="#222" stroke-width="0.9" />
<text x="472.40" y="276.70" font-size="5.5" font-weight="bold" font-style="normal" text-anchor="end" fill="#333"  textLength="6.90" lengthAdjust="spacingAndGlyphs" stroke="#333" stroke-width="0.2">1.0</text>
<line x1="475.50" y1="264.66" x2="477.20" y2="264.66" stroke="#222" stroke-width="0.9" />
<line x1="474.20" y1="254.62" x2="477.20" y2="254.62" stroke="#222" stroke-width="0.9" />
<text x="472.40" y="256.62" font-size="5.5" font-weight="bold" font-style="normal" text-anchor="end" fill="#333"  textLength="6.90" lengthAdjust="spacingAndGlyphs" stroke="#333" stroke-width="0.2">1.2</text>
<line x1="475.50" y1="244.58" x2="477.20" y2="244.58" stroke="#222" stroke-width="0.9" />
<line x1="474.20" y1="234.54" x2="477.20" y2="234.54" stroke="#222" stroke-width="0.9" />
<text x="472.40" y="236.54" font-size="5.5" font-weight="bold" font-style="normal" text-anchor="end" fill="#333"  textLength="6.90" lengthAdjust="spacingAndGlyphs" stroke="#333" stroke-width="0.2">1.4</text>
<line x1="483.40" y1="375.20" x2="483.40" y2="378.00" stroke="#222" stroke-width="0.9" />
<text x="483.40" y="385.00" font-size="5.5" font-weight="bold" font-style="normal" text-anchor="middle" fill="#333"  textLength="8.30" lengthAdjust="spacingAndGlyphs" stroke="#333" stroke-width="0.2">500</text>
<line x1="497.17" y1="375.20" x2="497.17" y2="376.80" stroke="#222" stroke-width="0.9" />
<line x1="510.95" y1="375.20" x2="510.95" y2="378.00" stroke="#222" stroke-width="0.9" />
<text x="510.95" y="385.00" font-size="5.5" font-weight="bold" font-style="normal" text-anchor="middle" fill="#333"  textLength="11.00" lengthAdjust="spacingAndGlyphs" stroke="#333" stroke-width="0.2">1000</text>
<line x1="524.73" y1="375.20" x2="524.73" y2="376.80" stroke="#222" stroke-width="0.9" />
<line x1="538.50" y1="375.20" x2="538.50" y2="378.00" stroke="#222" stroke-width="0.9" />
<text x="538.50" y="385.00" font-size="5.5" font-weight="bold" font-style="normal" text-anchor="middle" fill="#333"  textLength="11.00" lengthAdjust="spacingAndGlyphs" stroke="#333" stroke-width="0.2">1500</text>
<line x1="552.27" y1="375.20" x2="552.27" y2="376.80" stroke="#222" stroke-width="0.9" />
<line x1="566.05" y1="375.20" x2="566.05" y2="378.00" stroke="#222" stroke-width="0.9" />
<text x="566.05" y="385.00" font-size="5.5" font-weight="bold" font-style="normal" text-anchor="middle" fill="#333"  textLength="11.00" lengthAdjust="spacingAndGlyphs" stroke="#333" stroke-width="0.2">2000</text>
<line x1="579.83" y1="375.20" x2="579.83" y2="376.80" stroke="#222" stroke-width="0.9" />
<line x1="593.60" y1="375.20" x2="593.60" y2="378.00" stroke="#222" stroke-width="0.9" />
<text x="593.60" y="385.00" font-size="5.5" font-weight="bold" font-style="normal" text-anchor="middle" fill="#333"  textLength="11.00" lengthAdjust="spacingAndGlyphs" stroke="#333" stroke-width="0.2">2500</text>
<line x1="607.38" y1="375.20" x2="607.38" y2="376.80" stroke="#222" stroke-width="0.9" />
<line x1="621.15" y1="375.20" x2="621.15" y2="378.00" stroke="#222" stroke-width="0.9" />
<text x="621.15" y="385.00" font-size="5.5" font-weight="bold" font-style="normal" text-anchor="middle" fill="#333"  textLength="11.00" lengthAdjust="spacingAndGlyphs" stroke="#333" stroke-width="0.2">3000</text>
<line x1="634.92" y1="375.20" x2="634.92" y2="376.80" stroke="#222" stroke-width="0.9" />
<line x1="648.70" y1="375.20" x2="648.70" y2="378.00" stroke="#222" stroke-width="0.9" />
<text x="648.70" y="385.00" font-size="5.5" font-weight="bold" font-style="normal" text-anchor="middle" fill="#333"  textLength="11.00" lengthAdjust="spacingAndGlyphs" stroke="#333" stroke-width="0.2">3500</text>
<line x1="662.48" y1="375.20" x2="662.48" y2="376.80" stroke="#222" stroke-width="0.9" />
<line x1="676.25" y1="375.20" x2="676.25" y2="378.00" stroke="#222" stroke-width="0.9" />
<text x="676.25" y="385.00" font-size="5.5" font-weight="bold" font-style="normal" text-anchor="middle" fill="#333"  textLength="11.00" lengthAdjust="spacingAndGlyphs" stroke="#333" stroke-width="0.2">4000</text>
<text x="542.50" y="396.80" font-size="7.2" font-weight="bold" font-style="normal" text-anchor="start" fill="#111"  textLength="69.60" lengthAdjust="spacingAndGlyphs" stroke="#111" stroke-width="0.2">Wavenumbers (cm-1)</text>
<text transform="translate(455.20,302.00) rotate(-90)" font-size="6.8" font-weight="bold" text-anchor="middle" fill="#111" textLength="56.00" lengthAdjust="spacingAndGlyphs" stroke="#111" stroke-width="0.2">Absorbence (A.U)</text>
<text x="448.80" y="244.20" font-size="9.4" font-weight="bold" font-style="normal" text-anchor="start" fill="#111"  textLength="11.60" lengthAdjust="spacingAndGlyphs" stroke="#111" stroke-width="0.2">A5</text>
<text x="478.50" y="236.8" font-size="7.2" font-weight="bold" fill="#2e962e" textLength="89.20" lengthAdjust="spacingAndGlyphs" stroke="#2e962e" stroke-width="0.2"><tspan font-style="italic">H. bacteriophora</tspan> at 85% RH</text>
<line x1="567.70" y1="233.90" x2="585.30" y2="233.90" stroke="#333" stroke-width="1.4" />
<text x="586.20" y="236.80" font-size="6.9" font-weight="bold" font-style="normal" text-anchor="start" fill="#111"  textLength="16.20" lengthAdjust="spacingAndGlyphs" stroke="#111" stroke-width="0.2">0 Hrs</text>
<line x1="605.60" y1="233.90" x2="620.80" y2="233.90" stroke="#ff3b3b" stroke-width="1.4" />
<text x="622.60" y="236.80" font-size="6.9" font-weight="bold" font-style="normal" text-anchor="start" fill="#111"  textLength="16.20" lengthAdjust="spacingAndGlyphs" stroke="#111" stroke-width="0.2">2 Hrs</text>
<line x1="640.00" y1="233.90" x2="657.00" y2="233.90" stroke="#3b3bff" stroke-width="1.4" />
<text x="658.10" y="236.80" font-size="6.9" font-weight="bold" font-style="normal" text-anchor="start" fill="#111"  textLength="16.20" lengthAdjust="spacingAndGlyphs" stroke="#111" stroke-width="0.2">4 Hrs</text>
<text transform="translate(517.80,348.69) scale(1.0,1)" font-size="8.2" font-weight="bold" text-anchor="middle" fill="#111" stroke="#111" stroke-width="0.2">1</text>
<text transform="translate(533.80,346.29) scale(1.0,1)" font-size="8.2" font-weight="bold" text-anchor="middle" fill="#111" stroke="#111" stroke-width="0.2">2</text>
<text transform="translate(542.70,299.99) scale(1.0,1)" font-size="8.2" font-weight="bold" text-anchor="middle" fill="#111" stroke="#111" stroke-width="0.2">3</text>
<text transform="translate(614.00,332.49) scale(1.0,1)" font-size="8.2" font-weight="bold" text-anchor="middle" fill="#111" stroke="#111" stroke-width="0.2">4</text>
<text transform="translate(638.50,281.19) scale(1.0,1)" font-size="8.2" font-weight="bold" text-anchor="middle" fill="#111" stroke="#111" stroke-width="0.2">5</text>
<path d="M647.90,268.90 C648.55,272.52 651.95,274.99 651.95,278.76 C651.95,281.66 650.09,283.40 647.90,283.40 C645.71,283.40 643.85,281.66 643.85,278.76 C643.85,274.99 647.25,272.52 647.90,268.90 Z" fill="#f6f9fb" stroke="#a6c0d0" stroke-width="0.85"/>
<rect x="562.40" y="241.20" width="67.10" height="49.80" fill="#fff" stroke="#9a9a9a" stroke-width="0.6" />
<line x1="562.40" y1="241.20" x2="562.40" y2="291.00" stroke="#333" stroke-width="0.8" />
<line x1="562.40" y1="291.00" x2="629.50" y2="291.00" stroke="#333" stroke-width="0.8" />
<line x1="561.20" y1="291.00" x2="562.40" y2="291.00" stroke="#555" stroke-width="0.5" />
<text x="560.60" y="291.90" font-size="2.5" font-weight="bold" font-style="normal" text-anchor="end" fill="#555"  stroke="#555" stroke-width="0.2">0.0</text>
<line x1="561.20" y1="281.04" x2="562.40" y2="281.04" stroke="#555" stroke-width="0.5" />
<text x="560.60" y="281.94" font-size="2.5" font-weight="bold" font-style="normal" text-anchor="end" fill="#555"  stroke="#555" stroke-width="0.2">0.2</text>
<line x1="561.20" y1="271.08" x2="562.40" y2="271.08" stroke="#555" stroke-width="0.5" />
<text x="560.60" y="271.98" font-size="2.5" font-weight="bold" font-style="normal" text-anchor="end" fill="#555"  stroke="#555" stroke-width="0.2">0.4</text>
<line x1="561.20" y1="261.12" x2="562.40" y2="261.12" stroke="#555" stroke-width="0.5" />
<text x="560.60" y="262.02" font-size="2.5" font-weight="bold" font-style="normal" text-anchor="end" fill="#555"  stroke="#555" stroke-width="0.2">0.6</text>
<line x1="561.20" y1="251.16" x2="562.40" y2="251.16" stroke="#555" stroke-width="0.5" />
<text x="560.60" y="252.06" font-size="2.5" font-weight="bold" font-style="normal" text-anchor="end" fill="#555"  stroke="#555" stroke-width="0.2">0.8</text>
<line x1="561.20" y1="241.20" x2="562.40" y2="241.20" stroke="#555" stroke-width="0.5" />
<text x="560.60" y="242.10" font-size="2.5" font-weight="bold" font-style="normal" text-anchor="end" fill="#555"  stroke="#555" stroke-width="0.2">1.0</text>
<line x1="566.35" y1="291.00" x2="566.35" y2="292.00" stroke="#555" stroke-width="0.5" />
<text x="566.35" y="294.30" font-size="2.1" font-weight="bold" font-style="normal" text-anchor="middle" fill="#555"  stroke="#555" stroke-width="0.2">2800</text>
<line x1="574.24" y1="291.00" x2="574.24" y2="292.00" stroke="#555" stroke-width="0.5" />
<text x="574.24" y="294.30" font-size="2.1" font-weight="bold" font-style="normal" text-anchor="middle" fill="#555"  stroke="#555" stroke-width="0.2">2900</text>
<line x1="582.14" y1="291.00" x2="582.14" y2="292.00" stroke="#555" stroke-width="0.5" />
<text x="582.14" y="294.30" font-size="2.1" font-weight="bold" font-style="normal" text-anchor="middle" fill="#555"  stroke="#555" stroke-width="0.2">3000</text>
<line x1="590.03" y1="291.00" x2="590.03" y2="292.00" stroke="#555" stroke-width="0.5" />
<text x="590.03" y="294.30" font-size="2.1" font-weight="bold" font-style="normal" text-anchor="middle" fill="#555"  stroke="#555" stroke-width="0.2">3100</text>
<line x1="597.92" y1="291.00" x2="597.92" y2="292.00" stroke="#555" stroke-width="0.5" />
<text x="597.92" y="294.30" font-size="2.1" font-weight="bold" font-style="normal" text-anchor="middle" fill="#555"  stroke="#555" stroke-width="0.2">3200</text>
<line x1="605.82" y1="291.00" x2="605.82" y2="292.00" stroke="#555" stroke-width="0.5" />
<text x="605.82" y="294.30" font-size="2.1" font-weight="bold" font-style="normal" text-anchor="middle" fill="#555"  stroke="#555" stroke-width="0.2">3300</text>
<line x1="613.71" y1="291.00" x2="613.71" y2="292.00" stroke="#555" stroke-width="0.5" />
<text x="613.71" y="294.30" font-size="2.1" font-weight="bold" font-style="normal" text-anchor="middle" fill="#555"  stroke="#555" stroke-width="0.2">3400</text>
<line x1="621.61" y1="291.00" x2="621.61" y2="292.00" stroke="#555" stroke-width="0.5" />
<text x="621.61" y="294.30" font-size="2.1" font-weight="bold" font-style="normal" text-anchor="middle" fill="#555"  stroke="#555" stroke-width="0.2">3500</text>
<line x1="629.50" y1="291.00" x2="629.50" y2="292.00" stroke="#555" stroke-width="0.5" />
<text x="629.50" y="294.30" font-size="2.1" font-weight="bold" font-style="normal" text-anchor="middle" fill="#555"  stroke="#555" stroke-width="0.2">3600</text>
<text x="595.95" y="298.00" font-size="2.7" font-weight="bold" font-style="normal" text-anchor="middle" fill="#444"  stroke="#444" stroke-width="0.2">Wavelength (cm<tspan font-size="1.8" dy="-0.9">-1</tspan><tspan dy="0.9">)</tspan></text>
<text transform="translate(556.40,266.10) rotate(-90)" font-size="2.5" font-weight="bold" text-anchor="middle" fill="#666" stroke="#666" stroke-width="0.2">Absorbance (a.u)</text>
<polyline points="562.60,283.50 563.16,283.49 563.72,283.46 564.29,283.41 564.85,283.34 565.41,283.26 565.97,283.16 566.54,282.95 567.10,282.61 567.66,282.18 568.22,281.69 568.78,281.18 569.35,280.67 569.91,280.04 570.47,279.33 571.03,278.58 571.59,277.84 572.16,277.16 572.72,276.57 573.28,276.03 573.84,275.53 574.41,275.02 574.97,274.48 575.53,273.88 576.09,273.21 576.65,272.48 577.22,271.70 577.78,270.86 578.34,269.97 578.90,269.02 579.47,267.94 580.03,266.75 580.59,265.48 581.15,264.19 581.71,262.93 582.28,261.73 582.84,260.54 583.40,259.35 583.96,258.18 584.53,257.05 585.09,255.98 585.65,254.98 586.21,253.98 586.77,253.02 587.34,252.11 587.90,251.28 588.46,250.56 589.02,249.91 589.58,249.23 590.15,248.64 590.71,248.23 591.27,248.10 591.83,248.11 592.40,248.14 592.96,248.18 593.52,248.23 594.08,248.28 594.64,248.35 595.21,248.41 595.77,248.50 596.33,248.60 596.89,248.73 597.46,248.88 598.02,249.05 598.58,249.24 599.14,249.46 599.70,249.73 600.27,250.09 600.83,250.50 601.39,250.96 601.95,251.46 602.52,252.04 603.08,252.75 603.64,253.53 604.20,254.36 604.76,255.17 605.33,255.95 605.89,256.73 606.45,257.52 607.01,258.32 607.57,259.12 608.14,259.92 608.70,260.72 609.26,261.50 609.82,262.26 610.39,263.01 610.95,263.74 611.51,264.45 612.07,265.16 612.63,265.86 613.20,266.57 613.76,267.29 614.32,268.03 614.88,268.78 615.45,269.53 616.01,270.30 616.57,271.06 617.13,271.84 617.69,272.62 618.26,273.40 618.82,274.18 619.38,274.97 619.94,275.77 620.51,276.56 621.07,277.35 621.63,278.15 622.19,278.95 622.75,279.74 623.32,280.54 623.88,281.34 624.44,282.15 625.00,282.96 625.56,283.77 626.13,284.58 626.69,285.39 627.25,286.21 627.81,287.03 628.38,287.85 628.94,288.67 629.50,289.50" fill="none" stroke="#1a1a1a" stroke-width="0.95" stroke-linejoin="round"/>
<polyline points="562.60,277.90 563.16,278.77 563.72,279.52 564.29,280.15 564.85,280.65 565.41,281.01 565.97,281.23 566.54,281.30 567.10,281.20 567.66,280.96 568.22,280.62 568.78,280.23 569.35,279.84 569.91,279.46 570.47,278.98 571.03,278.44 571.59,277.89 572.16,277.42 572.72,277.09 573.28,276.95 573.84,276.86 574.41,276.81 574.97,276.76 575.53,276.70 576.09,276.62 576.65,276.49 577.22,276.32 577.78,276.09 578.34,275.81 578.90,275.49 579.47,275.12 580.03,274.61 580.59,273.88 581.15,273.00 581.71,272.06 582.28,271.13 582.84,270.31 583.40,269.51 583.96,268.70 584.53,267.91 585.09,267.15 585.65,266.42 586.21,265.75 586.77,265.09 587.34,264.45 587.90,263.84 588.46,263.29 589.02,262.83 589.58,262.43 590.15,262.03 590.71,261.65 591.27,261.33 591.83,261.11 592.40,261.00 592.96,261.04 593.52,261.19 594.08,261.42 594.64,261.70 595.21,262.02 595.77,262.34 596.33,262.75 596.89,263.28 597.46,263.86 598.02,264.44 598.58,264.97 599.14,265.40 599.70,265.75 600.27,266.07 600.83,266.37 601.39,266.66 601.95,266.94 602.52,267.23 603.08,267.54 603.64,267.86 604.20,268.18 604.76,268.50 605.33,268.82 605.89,269.15 606.45,269.49 607.01,269.84 607.57,270.21 608.14,270.60 608.70,271.00 609.26,271.42 609.82,271.85 610.39,272.31 610.95,272.77 611.51,273.25 612.07,273.74 612.63,274.24 613.20,274.75 613.76,275.27 614.32,275.81 614.88,276.38 615.45,276.98 616.01,277.61 616.57,278.24 617.13,278.89 617.69,279.54 618.26,280.17 618.82,280.79 619.38,281.38 619.94,281.95 620.51,282.48 621.07,283.01 621.63,283.53 622.19,284.05 622.75,284.56 623.32,285.06 623.88,285.56 624.44,286.05 625.00,286.53 625.56,287.00 626.13,287.46 626.69,287.91 627.25,288.35 627.81,288.78 628.38,289.20 628.94,289.60 629.50,290.00" fill="none" stroke="#ff2020" stroke-width="0.95" stroke-linejoin="round"/>
<polyline points="562.60,278.70 563.16,279.59 563.72,280.36 564.29,281.01 564.85,281.53 565.41,281.90 565.97,282.13 566.54,282.20 567.10,282.10 567.66,281.85 568.22,281.51 568.78,281.11 569.35,280.72 569.91,280.37 570.47,279.93 571.03,279.43 571.59,278.95 572.16,278.56 572.72,278.33 573.28,278.30 573.84,278.30 574.41,278.30 574.97,278.30 575.53,278.30 576.09,278.30 576.65,278.27 577.22,278.14 577.78,277.94 578.34,277.67 578.90,277.36 579.47,277.02 580.03,276.55 580.59,275.85 581.15,275.00 581.71,274.08 582.28,273.15 582.84,272.30 583.40,271.43 583.96,270.54 584.53,269.64 585.09,268.78 585.65,267.96 586.21,267.23 586.77,266.50 587.34,265.79 587.90,265.13 588.46,264.56 589.02,264.11 589.58,263.78 590.15,263.46 590.71,263.17 591.27,262.94 591.83,262.78 592.40,262.70 592.96,262.74 593.52,262.89 594.08,263.13 594.64,263.42 595.21,263.73 595.77,264.04 596.33,264.41 596.89,264.85 597.46,265.35 598.02,265.84 598.58,266.30 599.14,266.69 599.70,267.03 600.27,267.35 600.83,267.64 601.39,267.93 601.95,268.22 602.52,268.52 603.08,268.85 603.64,269.18 604.20,269.51 604.76,269.85 605.33,270.19 605.89,270.55 606.45,270.91 607.01,271.29 607.57,271.69 608.14,272.10 608.70,272.54 609.26,273.01 609.82,273.49 610.39,274.00 610.95,274.52 611.51,275.05 612.07,275.59 612.63,276.15 613.20,276.70 613.76,277.26 614.32,277.82 614.88,278.42 615.45,279.04 616.01,279.68 616.57,280.33 617.13,280.98 617.69,281.62 618.26,282.25 618.82,282.85 619.38,283.42 619.94,283.95 620.51,284.45 621.07,284.94 621.63,285.42 622.19,285.90 622.75,286.36 623.32,286.82 623.88,287.26 624.44,287.70 625.00,288.12 625.56,288.53 626.13,288.93 626.69,289.31 627.25,289.68 627.81,290.04 628.38,290.38 628.94,290.70 629.50,291.00" fill="none" stroke="#2020ff" stroke-width="0.95" stroke-linejoin="round"/>
</svg>
</body></html>
